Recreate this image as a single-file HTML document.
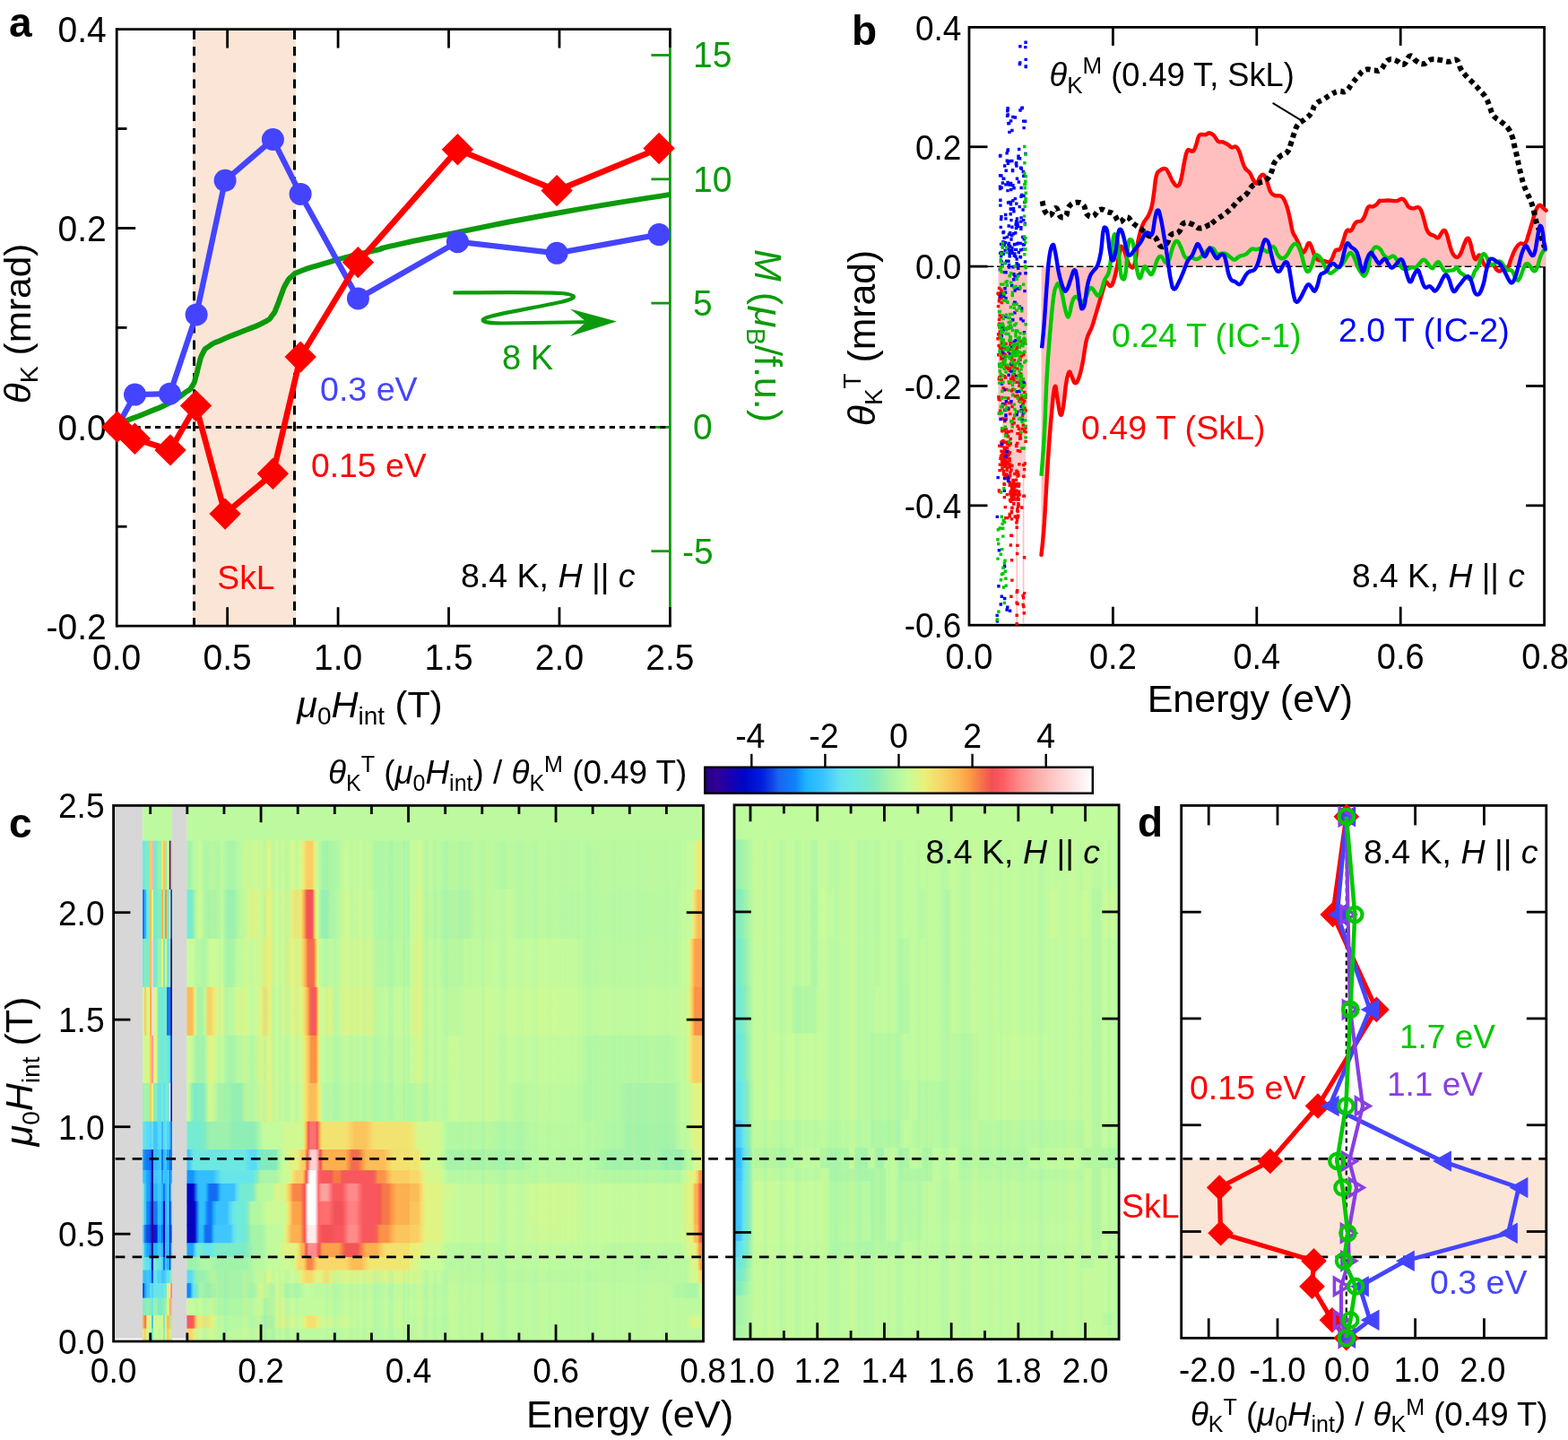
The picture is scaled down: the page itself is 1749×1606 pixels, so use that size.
<!DOCTYPE html>
<html lang="en"><head><meta charset="utf-8"><title>Figure</title>
<style>
html,body{margin:0;padding:0;background:#fff;}
body{width:1749px;height:1606px;overflow:hidden;}
svg{display:block;font-family:"Liberation Sans", sans-serif;}
svg text{white-space:pre;}
</style></head><body>
<svg width="1749" height="1606" viewBox="0 0 1749 1606">
<rect x="0" y="0" width="1749" height="1606" fill="#fff"/>
<g id="panel-a">
<rect x="215.0" y="32.6" width="115.0" height="665.6" fill="#fbe5d6"/>
<line x1="130.20" y1="31.20" x2="130.20" y2="699.60" stroke="#000" stroke-width="2.8" />
<line x1="130.20" y1="32.60" x2="748.80" y2="32.60" stroke="#000" stroke-width="2.8" />
<line x1="130.20" y1="698.20" x2="748.80" y2="698.20" stroke="#000" stroke-width="2.8" />
<line x1="747.40" y1="53.50" x2="747.40" y2="677.00" stroke="#0b9a0b" stroke-width="2.8" />
<line x1="747.40" y1="32.60" x2="747.40" y2="53.50" stroke="#000" stroke-width="2.8" />
<line x1="747.40" y1="677.00" x2="747.40" y2="698.20" stroke="#000" stroke-width="2.8" />
<line x1="253.64" y1="32.60" x2="253.64" y2="53.60" stroke="#000" stroke-width="2.8" />
<line x1="253.64" y1="698.20" x2="253.64" y2="677.20" stroke="#000" stroke-width="2.8" />
<line x1="377.08" y1="32.60" x2="377.08" y2="53.60" stroke="#000" stroke-width="2.8" />
<line x1="377.08" y1="698.20" x2="377.08" y2="677.20" stroke="#000" stroke-width="2.8" />
<line x1="500.52" y1="32.60" x2="500.52" y2="53.60" stroke="#000" stroke-width="2.8" />
<line x1="500.52" y1="698.20" x2="500.52" y2="677.20" stroke="#000" stroke-width="2.8" />
<line x1="623.96" y1="32.60" x2="623.96" y2="53.60" stroke="#000" stroke-width="2.8" />
<line x1="623.96" y1="698.20" x2="623.96" y2="677.20" stroke="#000" stroke-width="2.8" />
<line x1="130.20" y1="254.47" x2="151.20" y2="254.47" stroke="#000" stroke-width="2.8" />
<line x1="130.20" y1="476.33" x2="151.20" y2="476.33" stroke="#000" stroke-width="2.8" />
<line x1="130.20" y1="143.53" x2="141.50" y2="143.53" stroke="#000" stroke-width="2.8" />
<line x1="130.20" y1="365.40" x2="141.50" y2="365.40" stroke="#000" stroke-width="2.8" />
<line x1="130.20" y1="587.27" x2="141.50" y2="587.27" stroke="#000" stroke-width="2.8" />
<line x1="726.40" y1="61.50" x2="747.40" y2="61.50" stroke="#0b9a0b" stroke-width="2.8" />
<line x1="726.40" y1="199.80" x2="747.40" y2="199.80" stroke="#0b9a0b" stroke-width="2.8" />
<line x1="726.40" y1="338.10" x2="747.40" y2="338.10" stroke="#0b9a0b" stroke-width="2.8" />
<line x1="726.40" y1="476.40" x2="747.40" y2="476.40" stroke="#0b9a0b" stroke-width="2.8" />
<line x1="726.40" y1="614.70" x2="747.40" y2="614.70" stroke="#0b9a0b" stroke-width="2.8" />
<line x1="128.00" y1="476.40" x2="745.40" y2="476.40" stroke="#000" stroke-width="3.0" stroke-dasharray="6.2 5.06"/>
<line x1="216.50" y1="33.80" x2="216.50" y2="698.20" stroke="#000" stroke-width="3.0" stroke-dasharray="10.2 8"/>
<line x1="328.50" y1="33.80" x2="328.50" y2="698.20" stroke="#000" stroke-width="3.0" stroke-dasharray="10.2 8"/>
<text transform="translate(118.80,47.00) scale(1,1.05)" font-size="39" fill="#000" text-anchor="end" >0.4</text>
<text transform="translate(118.80,268.87) scale(1,1.05)" font-size="39" fill="#000" text-anchor="end" >0.2</text>
<text transform="translate(118.80,490.73) scale(1,1.05)" font-size="39" fill="#000" text-anchor="end" >0.0</text>
<text transform="translate(118.80,712.60) scale(1,1.05)" font-size="39" fill="#000" text-anchor="end" >-0.2</text>
<text transform="translate(130.20,746.60) scale(1,1.05)" font-size="39" fill="#000" text-anchor="middle" >0.0</text>
<text transform="translate(253.64,746.60) scale(1,1.05)" font-size="39" fill="#000" text-anchor="middle" >0.5</text>
<text transform="translate(377.08,746.60) scale(1,1.05)" font-size="39" fill="#000" text-anchor="middle" >1.0</text>
<text transform="translate(500.52,746.60) scale(1,1.05)" font-size="39" fill="#000" text-anchor="middle" >1.5</text>
<text transform="translate(623.96,746.60) scale(1,1.05)" font-size="39" fill="#000" text-anchor="middle" >2.0</text>
<text transform="translate(747.40,746.60) scale(1,1.05)" font-size="39" fill="#000" text-anchor="middle" >2.5</text>
<text transform="translate(773.00,75.30) scale(1,1.05)" font-size="39" fill="#0b9a0b" text-anchor="start" >15</text>
<text transform="translate(773.00,213.60) scale(1,1.05)" font-size="39" fill="#0b9a0b" text-anchor="start" >10</text>
<text transform="translate(773.00,351.90) scale(1,1.05)" font-size="39" fill="#0b9a0b" text-anchor="start" >5</text>
<text transform="translate(773.00,490.20) scale(1,1.05)" font-size="39" fill="#0b9a0b" text-anchor="start" >0</text>
<text transform="translate(761.00,628.50) scale(1,1.05)" font-size="39" fill="#0b9a0b" text-anchor="start" >-5</text>
<path d="M131.0,475.5 C133.1,474.0 126.6,475.9 137.2,471.0 C147.8,466.1 145.8,467.9 162.9,460.7 C180.0,453.5 174.3,456.9 188.6,449.5 C202.9,442.1 197.2,444.7 205.8,438.4 C214.4,432.1 210.0,437.0 214.3,430.7 C218.6,424.4 216.0,427.8 218.6,419.5 C221.2,411.2 219.5,414.4 222.1,405.8 C224.7,397.2 222.6,400.4 226.3,393.8 C230.0,387.2 225.8,391.2 233.2,386.1 C240.6,381.0 234.9,384.4 248.6,378.4 C262.3,372.4 258.9,374.5 274.4,368.1 C289.9,361.7 285.3,364.5 295.0,359.1 C304.7,353.7 298.9,357.4 303.5,351.8 C308.1,346.2 305.3,350.0 308.7,342.3 C312.1,334.6 310.4,337.2 313.8,328.6 C317.2,320.0 315.0,323.5 319.0,316.6 C323.0,309.7 320.1,312.9 325.8,308.0 C331.5,303.1 324.7,306.6 336.1,302.0 C347.5,297.4 342.9,299.4 360.1,294.3 C377.3,289.2 367.6,291.7 387.6,286.6 C407.6,281.5 402.5,283.2 420.0,278.9 C437.5,274.6 409.9,280.2 440.0,273.6 C470.1,267.0 450.0,271.1 510.4,259.1 C570.8,247.1 542.1,251.8 621.1,237.7 C700.1,223.6 705.3,223.8 747.4,216.9" fill="none" stroke="#0b9a0b" stroke-width="6" stroke-linejoin="round" />
<polyline points="130.8,476.0 150.5,440.1 189.5,439.2 219.1,350.9 251.1,201.3 304.4,155.5 335.1,216.4 399.4,332.9 510.4,269.7 621.1,282.3 735.1,261.6" fill="none" stroke="#4444ff" stroke-width="6.3" stroke-linejoin="round" />
<circle cx="130.8" cy="476.0" r="12.5" fill="#4444ff"/>
<circle cx="150.5" cy="440.1" r="12.5" fill="#4444ff"/>
<circle cx="189.5" cy="439.2" r="12.5" fill="#4444ff"/>
<circle cx="219.1" cy="350.9" r="12.5" fill="#4444ff"/>
<circle cx="251.1" cy="201.3" r="12.5" fill="#4444ff"/>
<circle cx="304.4" cy="155.5" r="12.5" fill="#4444ff"/>
<circle cx="335.1" cy="216.4" r="12.5" fill="#4444ff"/>
<circle cx="399.4" cy="332.9" r="12.5" fill="#4444ff"/>
<circle cx="510.4" cy="269.7" r="12.5" fill="#4444ff"/>
<circle cx="621.1" cy="282.3" r="12.5" fill="#4444ff"/>
<circle cx="735.1" cy="261.6" r="12.5" fill="#4444ff"/>
<polyline points="130.8,476.0 150.4,489.3 190.0,501.9 218.5,452.6 251.1,573.1 304.4,528.3 335.2,398.1 399.4,292.6 510.4,166.8 621.1,212.6 735.1,165.5" fill="none" stroke="#ff0000" stroke-width="6.6" stroke-linejoin="round" />
<path d="M130.8,458.3 L148.5,476.0 L130.8,493.7 L113.1,476.0 Z" fill="#ff0000" />
<path d="M150.4,471.6 L168.1,489.3 L150.4,507.0 L132.7,489.3 Z" fill="#ff0000" />
<path d="M190.0,484.2 L207.7,501.9 L190.0,519.6 L172.3,501.9 Z" fill="#ff0000" />
<path d="M218.5,434.9 L236.2,452.6 L218.5,470.3 L200.8,452.6 Z" fill="#ff0000" />
<path d="M251.1,555.4 L268.8,573.1 L251.1,590.8 L233.4,573.1 Z" fill="#ff0000" />
<path d="M304.4,510.6 L322.1,528.3 L304.4,546.0 L286.7,528.3 Z" fill="#ff0000" />
<path d="M335.2,380.4 L352.9,398.1 L335.2,415.8 L317.5,398.1 Z" fill="#ff0000" />
<path d="M399.4,274.9 L417.1,292.6 L399.4,310.3 L381.7,292.6 Z" fill="#ff0000" />
<path d="M510.4,149.1 L528.1,166.8 L510.4,184.5 L492.7,166.8 Z" fill="#ff0000" />
<path d="M621.1,194.9 L638.8,212.6 L621.1,230.3 L603.4,212.6 Z" fill="#ff0000" />
<path d="M735.1,147.8 L752.8,165.5 L735.1,183.2 L717.4,165.5 Z" fill="#ff0000" />
<text x="10.00" y="41.00" font-size="46" fill="#000" text-anchor="start" font-weight="bold" >a</text>
<text x="357.00" y="447.00" font-size="37.6" fill="#4444ff" text-anchor="start" >0.3 eV</text>
<text x="347.00" y="532.00" font-size="37.3" fill="#ff0000" text-anchor="start" >0.15 eV</text>
<text x="242.30" y="657.00" font-size="37.3" fill="#ff0000" text-anchor="start" >SkL</text>
<text x="514.00" y="655.00" font-size="37.5" fill="#000" text-anchor="start" >8.4 K, <tspan font-style="italic">H</tspan> || <tspan font-style="italic">c</tspan></text>
<text x="560.00" y="411.80" font-size="38" fill="#0b9a0b" text-anchor="start" >8 K</text>
<text x="412.40" y="799.80" font-size="41.5" fill="#000" text-anchor="middle" ><tspan font-style="italic">μ</tspan><tspan font-size="28" dy="8">0</tspan><tspan dy="-8" font-style="italic">H</tspan><tspan font-size="28" dy="8">int</tspan><tspan dy="-8"> (T)</tspan></text>
<text transform="translate(34.4,361) rotate(-90) scale(1.06,1)" font-size="40" text-anchor="middle"><tspan font-style="italic">θ</tspan><tspan font-size="27" dy="8">K</tspan><tspan dy="-8"> (mrad)</tspan></text>
<text transform="translate(841.6,374.5) rotate(90)" font-size="43" fill="#0b9a0b" text-anchor="middle"><tspan font-style="italic">M</tspan> (<tspan font-style="italic" dx="2">μ</tspan><tspan font-size="29" dy="9">B</tspan><tspan dy="-9">/f.u.)</tspan></text>
<path d="M505.5,326.5 C560,326 600,325.5 625,327 C645,328.5 645,332.5 625,337 C600,342.5 560,349 545,353.5 C532,357.5 540,360.5 560,360.5 L665,359" fill="none" stroke="#0b9a0b" stroke-width="4.2"/>
<path d="M688,358.5 L636,344.5 L654,359 L636,375 Z" fill="#0b9a0b"/>
</g>
<g id="panel-b">
<rect x="1081.0" y="30.4" width="641.6" height="666.8" fill="none" stroke="#000" stroke-width="2.8"/>
<line x1="1241.40" y1="30.40" x2="1241.40" y2="50.90" stroke="#000" stroke-width="2.8" />
<line x1="1241.40" y1="697.20" x2="1241.40" y2="676.70" stroke="#000" stroke-width="2.8" />
<line x1="1401.80" y1="30.40" x2="1401.80" y2="50.90" stroke="#000" stroke-width="2.8" />
<line x1="1401.80" y1="697.20" x2="1401.80" y2="676.70" stroke="#000" stroke-width="2.8" />
<line x1="1562.20" y1="30.40" x2="1562.20" y2="50.90" stroke="#000" stroke-width="2.8" />
<line x1="1562.20" y1="697.20" x2="1562.20" y2="676.70" stroke="#000" stroke-width="2.8" />
<line x1="1081.00" y1="163.76" x2="1101.50" y2="163.76" stroke="#000" stroke-width="2.8" />
<line x1="1722.60" y1="163.76" x2="1702.10" y2="163.76" stroke="#000" stroke-width="2.8" />
<line x1="1081.00" y1="297.12" x2="1101.50" y2="297.12" stroke="#000" stroke-width="2.8" />
<line x1="1722.60" y1="297.12" x2="1702.10" y2="297.12" stroke="#000" stroke-width="2.8" />
<line x1="1081.00" y1="430.48" x2="1101.50" y2="430.48" stroke="#000" stroke-width="2.8" />
<line x1="1722.60" y1="430.48" x2="1702.10" y2="430.48" stroke="#000" stroke-width="2.8" />
<line x1="1081.00" y1="563.84" x2="1101.50" y2="563.84" stroke="#000" stroke-width="2.8" />
<line x1="1722.60" y1="563.84" x2="1702.10" y2="563.84" stroke="#000" stroke-width="2.8" />
<rect x="1113.5" y="297.2" width="32.3" height="170" fill="#ffbfbf"/>
<rect x="1118" y="467.2" width="26" height="65" fill="#ffbfbf" opacity="0.8"/>
<rect x="1133.5" y="527.2" width="1.6" height="168" fill="#ffbfbf"/>
<rect x="1140.8" y="527.2" width="1.6" height="168" fill="#ffbfbf"/>
<path d="M1161.5,618.9 C1162.0,614.5 1162.6,610.0 1163.5,600.0 C1164.4,590.0 1164.0,596.3 1165.3,576.0 C1166.6,555.7 1167.2,539.4 1169.0,513.0 C1170.8,486.6 1171.0,482.0 1172.8,463.0 C1174.6,444.0 1174.9,435.5 1176.5,431.6 C1178.1,427.6 1178.2,438.8 1179.7,446.0 C1181.2,453.2 1181.4,460.6 1182.8,462.4 C1184.3,464.2 1184.5,461.5 1186.0,453.6 C1187.4,445.7 1187.7,437.4 1189.1,428.4 C1190.6,419.5 1190.8,417.3 1192.3,415.2 C1193.7,413.2 1193.8,416.8 1195.4,419.6 C1197.0,422.4 1197.3,426.9 1199.2,427.2 C1201.1,427.5 1201.7,425.9 1203.6,420.9 C1205.5,415.9 1205.7,413.7 1207.4,405.8 C1209.0,397.9 1209.2,394.0 1210.5,386.9 C1211.8,379.9 1211.3,380.9 1213.0,375.6 C1214.8,370.3 1215.7,370.7 1218.1,364.3 C1220.4,357.8 1220.4,356.7 1223.1,347.9 C1225.7,339.1 1227.0,334.2 1229.4,326.5 C1231.7,318.9 1231.7,317.6 1233.1,315.2 C1234.6,312.9 1234.3,315.6 1235.7,316.5 C1237.0,317.4 1237.3,319.6 1238.8,319.0 C1240.3,318.4 1240.3,318.7 1241.9,314.0 C1243.6,309.3 1244.0,307.2 1245.7,298.9 C1247.5,290.6 1247.9,283.8 1249.4,278.4 C1250.8,273.1 1250.6,275.0 1251.9,275.9 C1253.2,276.8 1253.6,278.4 1255.0,282.2 C1256.5,286.0 1256.7,288.7 1258.2,292.3 C1259.6,295.8 1259.9,296.1 1261.3,297.3 C1262.8,298.5 1263.1,299.6 1264.5,297.3 C1265.8,294.9 1265.8,294.0 1267.0,287.2 C1268.2,280.5 1267.7,276.9 1269.5,268.4 C1271.3,259.9 1271.9,257.2 1274.5,250.8 C1277.2,244.3 1278.5,245.4 1280.8,240.7 C1283.2,236.0 1283.1,236.5 1284.6,230.6 C1286.1,224.8 1285.9,223.5 1287.1,215.5 C1288.3,207.6 1288.2,202.5 1289.6,196.7 C1291.1,190.8 1291.0,192.4 1293.4,190.4 C1295.7,188.4 1297.3,187.5 1299.7,188.1 C1302.0,188.7 1301.4,189.4 1303.5,192.9 C1305.5,196.4 1306.1,199.6 1308.5,203.0 C1310.8,206.3 1311.5,207.9 1313.5,207.4 C1315.6,206.8 1315.5,206.8 1317.3,200.4 C1319.1,194.1 1319.5,187.8 1321.1,180.3 C1322.7,172.8 1322.7,171.3 1324.2,168.4 C1325.7,165.4 1325.7,167.7 1327.4,167.7 C1329.0,167.7 1329.5,169.8 1331.1,168.4 C1332.7,166.9 1332.8,165.4 1334.3,161.4 C1335.7,157.5 1335.8,154.0 1337.4,151.4 C1339.0,148.7 1339.4,150.4 1341.2,150.1 C1343.0,149.8 1343.2,150.6 1345.0,150.1 C1346.7,149.7 1346.7,148.1 1348.7,148.2 C1350.8,148.4 1351.4,148.6 1353.8,150.8 C1356.1,153.0 1356.5,155.9 1358.8,157.7 C1361.2,159.4 1361.2,157.4 1363.8,158.3 C1366.4,159.2 1367.7,160.0 1370.0,161.4 C1372.3,162.9 1371.8,163.9 1373.9,164.4 C1376.0,164.9 1376.9,162.5 1378.9,163.8 C1381.0,165.1 1381.1,166.2 1382.7,170.1 C1384.3,173.9 1384.4,176.0 1385.8,180.1 C1387.3,184.2 1387.1,184.7 1389.0,187.7 C1390.9,190.6 1392.0,189.8 1394.0,192.7 C1396.1,195.6 1396.0,197.5 1397.8,200.3 C1399.6,203.0 1399.8,205.2 1401.6,204.7 C1403.3,204.1 1403.7,200.1 1405.3,197.7 C1407.0,195.4 1407.0,194.6 1408.5,194.6 C1410.0,194.6 1410.3,195.2 1411.6,197.7 C1413.0,200.2 1412.8,201.5 1414.2,205.3 C1415.5,209.1 1415.5,211.2 1417.3,214.1 C1419.1,217.0 1419.2,216.8 1421.7,217.9 C1424.2,218.9 1425.6,217.6 1428.0,218.5 C1430.3,219.4 1430.0,218.8 1431.8,221.6 C1433.5,224.4 1433.9,225.5 1435.5,230.4 C1437.1,235.4 1437.2,236.6 1438.7,243.0 C1440.1,249.5 1440.4,253.1 1441.8,258.1 C1443.3,263.1 1443.5,261.5 1445.0,264.4 C1446.4,267.3 1446.8,267.8 1448.1,270.7 C1449.4,273.6 1449.5,274.3 1450.6,277.0 C1451.8,279.6 1451.8,281.7 1453.1,282.0 C1454.5,282.3 1454.8,280.7 1456.3,278.2 C1457.8,275.7 1458.0,272.2 1459.4,271.3 C1460.9,270.4 1461.1,271.7 1462.6,274.5 C1464.0,277.3 1464.1,279.7 1465.7,283.3 C1467.3,286.8 1467.1,287.8 1469.5,289.6 C1471.8,291.3 1472.9,290.2 1475.8,290.8 C1478.7,291.4 1479.7,292.7 1482.1,292.1 C1484.4,291.5 1484.1,291.2 1485.8,288.3 C1487.6,285.4 1487.6,282.0 1489.6,279.5 C1491.7,277.0 1492.6,280.3 1494.7,277.6 C1496.7,275.0 1496.7,272.9 1498.4,268.2 C1500.2,263.5 1500.1,260.1 1502.2,257.5 C1504.3,254.8 1504.9,259.1 1507.2,256.9 C1509.6,254.7 1509.6,250.5 1512.3,248.1 C1514.9,245.6 1516.2,247.9 1518.6,246.2 C1520.9,244.4 1520.6,244.0 1522.3,240.5 C1524.1,237.0 1524.0,233.4 1526.1,231.1 C1528.2,228.7 1529.1,231.0 1531.1,230.4 C1533.2,229.9 1533.1,230.0 1534.9,228.6 C1536.7,227.1 1537.5,225.2 1538.7,224.2 C1539.9,223.1 1537.7,224.2 1540.0,224.1 C1542.3,223.9 1544.2,223.5 1548.4,223.5 C1552.5,223.5 1554.3,224.5 1557.9,224.1 C1561.5,223.6 1561.7,221.5 1563.9,221.7 C1566.1,221.8 1565.8,222.6 1567.5,224.7 C1569.2,226.7 1569.1,228.8 1571.1,230.6 C1573.0,232.4 1573.3,232.3 1575.8,232.4 C1578.4,232.6 1579.6,230.5 1581.8,231.2 C1584.1,231.9 1583.9,232.2 1585.4,235.4 C1586.9,238.6 1587.0,240.2 1588.4,245.0 C1589.8,249.7 1590.0,252.1 1591.4,255.7 C1592.8,259.3 1592.4,258.8 1594.4,260.5 C1596.3,262.2 1597.5,261.8 1599.7,262.9 C1602.0,264.0 1602.1,265.8 1603.9,265.3 C1605.7,264.7 1606.0,262.5 1607.5,260.5 C1609.0,258.6 1609.1,256.9 1610.5,256.9 C1611.9,256.9 1612.1,257.2 1613.5,260.5 C1614.9,263.8 1615.1,266.5 1616.5,271.3 C1617.9,276.0 1618.1,277.5 1619.5,280.8 C1620.9,284.2 1620.9,284.2 1622.5,285.6 C1624.0,287.0 1624.4,287.6 1626.0,286.8 C1627.7,286.0 1627.9,285.4 1629.6,282.0 C1631.3,278.7 1631.5,276.2 1633.2,272.5 C1634.9,268.7 1635.3,266.4 1636.8,265.9 C1638.3,265.3 1638.4,266.3 1639.8,270.1 C1641.2,273.8 1641.4,277.6 1642.8,282.0 C1644.2,286.5 1644.1,288.6 1645.8,289.2 C1647.4,289.7 1648.3,284.4 1649.9,284.4 C1651.6,284.4 1651.4,286.4 1652.9,289.2 C1654.5,292.0 1654.7,294.7 1656.5,296.4 C1658.3,298.0 1658.6,296.6 1660.7,296.4 C1662.8,296.1 1663.4,294.0 1665.5,295.2 C1667.6,296.3 1667.8,299.5 1669.7,301.1 C1671.5,302.8 1671.4,302.9 1673.2,302.3 C1675.1,301.8 1675.3,299.9 1677.4,298.7 C1679.5,297.6 1680.2,300.1 1682.2,297.5 C1684.2,295.0 1683.8,292.7 1685.8,288.0 C1687.7,283.2 1688.3,281.0 1690.6,277.2 C1692.8,273.5 1692.8,273.2 1695.3,271.9 C1697.9,270.5 1699.1,273.6 1701.3,271.3 C1703.6,268.9 1703.2,266.7 1704.9,261.7 C1706.6,256.7 1706.8,255.3 1708.5,249.7 C1710.2,244.2 1710.5,242.3 1712.1,237.8 C1713.6,233.3 1713.7,232.7 1715.1,230.6 C1716.5,228.5 1716.5,228.4 1718.1,228.8 C1719.6,229.3 1720.1,231.0 1721.6,232.4 C1723.2,233.8 1723.9,234.3 1724.6,234.8 L1724.6,297.2 L1161.5,297.2 Z" fill="#ffbfbf" stroke="none"/>
<line x1="1101.00" y1="297.20" x2="1722.60" y2="297.20" stroke="#000" stroke-width="1.6" stroke-dasharray="7.5 3.6"/>
<path d="M1126.4,555.7h3.4v3.4h-3.4zM1112.8,319.7h3.4v3.4h-3.4zM1113.5,350.2h3.4v3.4h-3.4zM1126.0,381.0h3.4v3.4h-3.4zM1126.4,399.0h3.4v3.4h-3.4zM1133.4,549.2h3.4v3.4h-3.4zM1124.5,536.1h3.4v3.4h-3.4zM1117.7,501.9h3.4v3.4h-3.4zM1116.4,493.2h3.4v3.4h-3.4zM1124.8,516.7h3.4v3.4h-3.4zM1126.2,663.6h3.4v3.4h-3.4zM1113.3,331.2h3.4v3.4h-3.4zM1114.5,386.7h3.4v3.4h-3.4zM1125.9,447.9h3.4v3.4h-3.4zM1136.5,378.8h3.4v3.4h-3.4zM1117.6,513.6h3.4v3.4h-3.4zM1135.3,445.7h3.4v3.4h-3.4zM1133.0,657.0h3.4v3.4h-3.4zM1122.7,501.8h3.4v3.4h-3.4zM1112.5,443.5h3.4v3.4h-3.4zM1136.5,483.2h3.4v3.4h-3.4zM1134.4,555.5h3.4v3.4h-3.4zM1113.6,444.0h3.4v3.4h-3.4zM1132.3,523.6h3.4v3.4h-3.4zM1125.5,487.8h3.4v3.4h-3.4zM1127.8,405.5h3.4v3.4h-3.4zM1134.7,476.5h3.4v3.4h-3.4zM1130.3,540.6h3.4v3.4h-3.4zM1112.4,383.8h3.4v3.4h-3.4zM1127.6,546.6h3.4v3.4h-3.4zM1131.7,549.8h3.4v3.4h-3.4zM1132.5,424.6h3.4v3.4h-3.4zM1119.4,393.8h3.4v3.4h-3.4zM1136.5,456.7h3.4v3.4h-3.4zM1120.2,513.2h3.4v3.4h-3.4zM1126.7,406.3h3.4v3.4h-3.4zM1133.3,481.9h3.4v3.4h-3.4zM1129.5,549.3h3.4v3.4h-3.4zM1132.5,586.5h3.4v3.4h-3.4zM1129.2,542.4h3.4v3.4h-3.4zM1115.3,495.9h3.4v3.4h-3.4zM1118.8,509.8h3.4v3.4h-3.4zM1134.9,546.5h3.4v3.4h-3.4zM1140.9,620.1h3.4v3.4h-3.4zM1118.2,477.4h3.4v3.4h-3.4zM1136.1,445.0h3.4v3.4h-3.4zM1127.5,471.0h3.4v3.4h-3.4zM1123.7,529.5h3.4v3.4h-3.4zM1140.2,529.6h3.4v3.4h-3.4zM1142.3,475.7h3.4v3.4h-3.4zM1113.9,456.4h3.4v3.4h-3.4zM1127.8,417.4h3.4v3.4h-3.4zM1115.0,369.1h3.4v3.4h-3.4zM1126.9,623.0h3.4v3.4h-3.4zM1125.7,550.0h3.4v3.4h-3.4zM1124.0,447.6h3.4v3.4h-3.4zM1141.1,453.6h3.4v3.4h-3.4zM1132.9,540.1h3.4v3.4h-3.4zM1118.7,404.8h3.4v3.4h-3.4zM1122.0,575.9h3.4v3.4h-3.4zM1111.5,325.5h3.4v3.4h-3.4zM1124.9,529.0h3.4v3.4h-3.4zM1122.4,503.5h3.4v3.4h-3.4zM1131.5,555.1h3.4v3.4h-3.4zM1131.8,533.4h3.4v3.4h-3.4zM1124.4,512.2h3.4v3.4h-3.4zM1132.8,578.2h3.4v3.4h-3.4zM1117.6,523.7h3.4v3.4h-3.4zM1119.2,506.6h3.4v3.4h-3.4zM1123.9,531.9h3.4v3.4h-3.4zM1126.4,540.0h3.4v3.4h-3.4zM1127.4,546.6h3.4v3.4h-3.4zM1116.7,477.8h3.4v3.4h-3.4zM1140.0,665.1h3.4v3.4h-3.4zM1126.8,569.0h3.4v3.4h-3.4zM1122.6,491.5h3.4v3.4h-3.4zM1121.4,522.6h3.4v3.4h-3.4zM1111.8,339.9h3.4v3.4h-3.4zM1114.8,388.6h3.4v3.4h-3.4zM1138.9,441.3h3.4v3.4h-3.4zM1126.9,577.2h3.4v3.4h-3.4zM1132.6,658.6h3.4v3.4h-3.4zM1140.1,551.7h3.4v3.4h-3.4zM1133.2,439.8h3.4v3.4h-3.4zM1117.8,527.1h3.4v3.4h-3.4zM1133.7,500.9h3.4v3.4h-3.4zM1112.5,326.7h3.4v3.4h-3.4zM1132.4,670.5h3.4v3.4h-3.4zM1132.2,581.2h3.4v3.4h-3.4zM1120.6,508.8h3.4v3.4h-3.4zM1118.6,417.9h3.4v3.4h-3.4zM1124.9,556.0h3.4v3.4h-3.4zM1138.1,564.3h3.4v3.4h-3.4zM1119.0,468.2h3.4v3.4h-3.4zM1129.9,407.2h3.4v3.4h-3.4zM1113.7,516.4h3.4v3.4h-3.4zM1134.3,528.2h3.4v3.4h-3.4zM1131.9,494.8h3.4v3.4h-3.4zM1125.8,557.7h3.4v3.4h-3.4zM1132.4,383.0h3.4v3.4h-3.4zM1142.6,480.2h3.4v3.4h-3.4zM1123.3,505.6h3.4v3.4h-3.4zM1125.6,493.1h3.4v3.4h-3.4zM1128.7,535.7h3.4v3.4h-3.4zM1126.6,545.9h3.4v3.4h-3.4zM1119.8,449.0h3.4v3.4h-3.4zM1116.1,517.3h3.4v3.4h-3.4zM1140.6,682.0h3.4v3.4h-3.4zM1133.6,575.1h3.4v3.4h-3.4zM1126.9,543.4h3.4v3.4h-3.4zM1124.1,425.4h3.4v3.4h-3.4zM1129.1,560.3h3.4v3.4h-3.4zM1126.7,434.2h3.4v3.4h-3.4zM1120.4,480.8h3.4v3.4h-3.4zM1130.5,574.3h3.4v3.4h-3.4zM1127.4,385.3h3.4v3.4h-3.4zM1121.3,509.1h3.4v3.4h-3.4zM1136.2,399.7h3.4v3.4h-3.4zM1115.3,501.5h3.4v3.4h-3.4zM1124.4,503.1h3.4v3.4h-3.4zM1120.2,508.5h3.4v3.4h-3.4zM1135.9,442.2h3.4v3.4h-3.4zM1130.4,545.9h3.4v3.4h-3.4zM1121.7,497.5h3.4v3.4h-3.4zM1126.9,396.5h3.4v3.4h-3.4zM1129.1,559.7h3.4v3.4h-3.4zM1126.5,547.6h3.4v3.4h-3.4zM1117.5,507.1h3.4v3.4h-3.4zM1124.6,571.7h3.4v3.4h-3.4zM1120.2,508.9h3.4v3.4h-3.4zM1117.0,465.3h3.4v3.4h-3.4zM1129.9,416.0h3.4v3.4h-3.4zM1130.9,440.2h3.4v3.4h-3.4zM1120.6,465.8h3.4v3.4h-3.4zM1125.4,392.9h3.4v3.4h-3.4zM1113.3,459.4h3.4v3.4h-3.4zM1116.4,417.2h3.4v3.4h-3.4zM1112.8,354.6h3.4v3.4h-3.4zM1122.3,514.2h3.4v3.4h-3.4zM1133.7,552.4h3.4v3.4h-3.4zM1129.8,541.8h3.4v3.4h-3.4zM1130.2,526.8h3.4v3.4h-3.4zM1133.2,409.4h3.4v3.4h-3.4zM1117.3,507.0h3.4v3.4h-3.4zM1125.2,525.3h3.4v3.4h-3.4zM1122.0,493.3h3.4v3.4h-3.4zM1115.1,397.5h3.4v3.4h-3.4zM1119.1,500.2h3.4v3.4h-3.4zM1135.7,398.3h3.4v3.4h-3.4zM1134.6,562.1h3.4v3.4h-3.4zM1139.6,472.4h3.4v3.4h-3.4zM1142.4,490.7h3.4v3.4h-3.4zM1118.9,399.4h3.4v3.4h-3.4zM1126.2,663.7h3.4v3.4h-3.4zM1117.4,431.1h3.4v3.4h-3.4zM1120.0,491.5h3.4v3.4h-3.4zM1118.3,538.0h3.4v3.4h-3.4zM1130.0,540.3h3.4v3.4h-3.4zM1119.0,518.5h3.4v3.4h-3.4zM1118.8,538.7h3.4v3.4h-3.4zM1115.4,506.3h3.4v3.4h-3.4zM1140.9,435.7h3.4v3.4h-3.4zM1125.7,606.3h3.4v3.4h-3.4zM1126.7,570.0h3.4v3.4h-3.4zM1115.8,512.7h3.4v3.4h-3.4zM1141.0,445.4h3.4v3.4h-3.4zM1118.1,504.2h3.4v3.4h-3.4zM1126.6,479.2h3.4v3.4h-3.4zM1118.1,517.3h3.4v3.4h-3.4zM1132.9,567.7h3.4v3.4h-3.4zM1132.3,435.2h3.4v3.4h-3.4zM1113.0,546.4h3.4v3.4h-3.4zM1115.8,381.4h3.4v3.4h-3.4zM1120.8,408.5h3.4v3.4h-3.4zM1114.3,509.7h3.4v3.4h-3.4zM1116.5,513.6h3.4v3.4h-3.4zM1111.3,376.1h3.4v3.4h-3.4zM1119.9,419.4h3.4v3.4h-3.4zM1132.1,545.6h3.4v3.4h-3.4zM1126.9,595.7h3.4v3.4h-3.4zM1114.8,507.3h3.4v3.4h-3.4zM1129.8,400.0h3.4v3.4h-3.4zM1139.4,662.5h3.4v3.4h-3.4zM1127.4,537.8h3.4v3.4h-3.4zM1120.3,531.9h3.4v3.4h-3.4zM1113.8,385.8h3.4v3.4h-3.4zM1127.2,645.4h3.4v3.4h-3.4zM1116.4,393.5h3.4v3.4h-3.4zM1127.2,517.8h3.4v3.4h-3.4zM1125.3,548.3h3.4v3.4h-3.4zM1129.1,391.0h3.4v3.4h-3.4zM1138.9,381.4h3.4v3.4h-3.4zM1122.0,491.4h3.4v3.4h-3.4zM1138.8,430.4h3.4v3.4h-3.4zM1136.6,418.2h3.4v3.4h-3.4zM1115.7,388.9h3.4v3.4h-3.4zM1141.1,426.5h3.4v3.4h-3.4zM1140.1,674.8h3.4v3.4h-3.4zM1137.4,395.8h3.4v3.4h-3.4zM1120.4,505.5h3.4v3.4h-3.4zM1123.1,409.6h3.4v3.4h-3.4zM1125.9,420.8h3.4v3.4h-3.4zM1129.8,546.3h3.4v3.4h-3.4zM1116.4,378.3h3.4v3.4h-3.4zM1134.9,538.0h3.4v3.4h-3.4zM1127.4,451.8h3.4v3.4h-3.4zM1123.0,390.5h3.4v3.4h-3.4zM1142.1,441.7h3.4v3.4h-3.4zM1126.4,522.4h3.4v3.4h-3.4zM1118.1,385.5h3.4v3.4h-3.4zM1121.5,505.5h3.4v3.4h-3.4zM1140.0,394.0h3.4v3.4h-3.4zM1115.2,325.0h3.4v3.4h-3.4zM1115.9,479.1h3.4v3.4h-3.4zM1120.5,484.1h3.4v3.4h-3.4zM1115.8,495.6h3.4v3.4h-3.4zM1128.2,438.5h3.4v3.4h-3.4zM1118.2,509.2h3.4v3.4h-3.4zM1121.5,528.4h3.4v3.4h-3.4zM1114.5,363.9h3.4v3.4h-3.4zM1127.1,565.1h3.4v3.4h-3.4zM1118.6,393.2h3.4v3.4h-3.4zM1128.6,545.1h3.4v3.4h-3.4zM1124.5,574.2h3.4v3.4h-3.4zM1112.7,545.3h3.4v3.4h-3.4zM1115.3,323.6h3.4v3.4h-3.4zM1115.8,323.4h3.4v3.4h-3.4zM1139.1,444.2h3.4v3.4h-3.4zM1123.1,479.7h3.4v3.4h-3.4zM1125.6,388.0h3.4v3.4h-3.4zM1121.4,513.5h3.4v3.4h-3.4zM1133.1,492.7h3.4v3.4h-3.4zM1121.0,432.7h3.4v3.4h-3.4zM1122.1,491.7h3.4v3.4h-3.4zM1140.9,521.9h3.4v3.4h-3.4zM1113.3,419.1h3.4v3.4h-3.4zM1133.2,554.8h3.4v3.4h-3.4zM1141.0,479.1h3.4v3.4h-3.4zM1113.2,373.4h3.4v3.4h-3.4zM1127.4,564.6h3.4v3.4h-3.4zM1117.3,511.3h3.4v3.4h-3.4zM1129.1,534.9h3.4v3.4h-3.4zM1116.2,441.7h3.4v3.4h-3.4zM1129.5,470.0h3.4v3.4h-3.4zM1121.8,519.9h3.4v3.4h-3.4zM1119.2,387.0h3.4v3.4h-3.4zM1116.9,516.2h3.4v3.4h-3.4zM1121.4,483.4h3.4v3.4h-3.4zM1123.2,455.0h3.4v3.4h-3.4zM1132.2,388.5h3.4v3.4h-3.4zM1133.5,529.4h3.4v3.4h-3.4zM1123.0,442.6h3.4v3.4h-3.4zM1138.8,425.2h3.4v3.4h-3.4zM1136.7,486.9h3.4v3.4h-3.4zM1118.6,497.5h3.4v3.4h-3.4zM1117.2,490.0h3.4v3.4h-3.4zM1134.7,540.5h3.4v3.4h-3.4zM1113.3,362.6h3.4v3.4h-3.4zM1133.9,552.5h3.4v3.4h-3.4zM1115.6,362.5h3.4v3.4h-3.4zM1133.6,568.7h3.4v3.4h-3.4zM1141.2,381.1h3.4v3.4h-3.4zM1120.1,576.1h3.4v3.4h-3.4zM1115.6,324.1h3.4v3.4h-3.4zM1123.0,492.9h3.4v3.4h-3.4zM1118.6,552.9h3.4v3.4h-3.4zM1120.1,512.6h3.4v3.4h-3.4zM1112.8,359.5h3.4v3.4h-3.4zM1133.2,606.7h3.4v3.4h-3.4zM1136.0,487.5h3.4v3.4h-3.4zM1120.7,527.3h3.4v3.4h-3.4zM1122.5,408.6h3.4v3.4h-3.4zM1132.5,694.0h3.4v3.4h-3.4zM1124.6,539.6h3.4v3.4h-3.4zM1126.6,553.5h3.4v3.4h-3.4zM1139.2,421.4h3.4v3.4h-3.4zM1135.2,428.5h3.4v3.4h-3.4zM1113.1,495.5h3.4v3.4h-3.4zM1124.7,503.3h3.4v3.4h-3.4zM1119.3,529.3h3.4v3.4h-3.4zM1120.4,381.7h3.4v3.4h-3.4zM1115.3,491.2h3.4v3.4h-3.4zM1141.0,659.9h3.4v3.4h-3.4zM1132.5,387.1h3.4v3.4h-3.4zM1127.9,553.8h3.4v3.4h-3.4zM1122.4,506.3h3.4v3.4h-3.4zM1127.1,550.7h3.4v3.4h-3.4zM1126.1,595.4h3.4v3.4h-3.4zM1137.4,429.2h3.4v3.4h-3.4zM1135.4,550.1h3.4v3.4h-3.4zM1128.5,537.9h3.4v3.4h-3.4zM1133.5,671.9h3.4v3.4h-3.4zM1112.1,394.0h3.4v3.4h-3.4zM1115.7,335.9h3.4v3.4h-3.4zM1124.7,409.4h3.4v3.4h-3.4zM1125.2,382.8h3.4v3.4h-3.4zM1129.0,465.3h3.4v3.4h-3.4zM1125.6,546.5h3.4v3.4h-3.4zM1139.7,453.2h3.4v3.4h-3.4zM1134.3,559.9h3.4v3.4h-3.4zM1124.6,519.0h3.4v3.4h-3.4zM1119.7,491.4h3.4v3.4h-3.4zM1140.8,551.5h3.4v3.4h-3.4zM1113.4,522.9h3.4v3.4h-3.4zM1112.7,334.0h3.4v3.4h-3.4zM1141.6,515.3h3.4v3.4h-3.4zM1116.7,403.4h3.4v3.4h-3.4zM1135.2,516.0h3.4v3.4h-3.4zM1116.3,452.0h3.4v3.4h-3.4zM1113.6,368.2h3.4v3.4h-3.4zM1129.5,407.6h3.4v3.4h-3.4zM1135.9,486.2h3.4v3.4h-3.4zM1133.9,537.8h3.4v3.4h-3.4zM1118.4,478.2h3.4v3.4h-3.4zM1129.1,542.5h3.4v3.4h-3.4zM1133.9,563.3h3.4v3.4h-3.4zM1121.7,549.9h3.4v3.4h-3.4zM1135.9,501.5h3.4v3.4h-3.4zM1114.9,321.5h3.4v3.4h-3.4zM1115.3,395.6h3.4v3.4h-3.4zM1123.4,492.8h3.4v3.4h-3.4zM1131.8,575.0h3.4v3.4h-3.4zM1116.7,502.8h3.4v3.4h-3.4zM1130.2,461.7h3.4v3.4h-3.4zM1129.1,555.3h3.4v3.4h-3.4zM1128.3,533.8h3.4v3.4h-3.4zM1132.5,684.6h3.4v3.4h-3.4zM1117.8,514.6h3.4v3.4h-3.4zM1116.6,503.7h3.4v3.4h-3.4zM1112.6,421.0h3.4v3.4h-3.4zM1117.7,501.9h3.4v3.4h-3.4zM1127.3,538.2h3.4v3.4h-3.4zM1128.0,543.5h3.4v3.4h-3.4zM1126.6,549.8h3.4v3.4h-3.4zM1120.3,408.1h3.4v3.4h-3.4zM1111.9,371.1h3.4v3.4h-3.4zM1136.7,480.6h3.4v3.4h-3.4zM1133.2,566.3h3.4v3.4h-3.4zM1131.4,390.7h3.4v3.4h-3.4zM1139.8,448.3h3.4v3.4h-3.4zM1115.5,330.2h3.4v3.4h-3.4zM1119.6,563.9h3.4v3.4h-3.4zM1134.6,555.2h3.4v3.4h-3.4zM1140.7,441.5h3.4v3.4h-3.4zM1129.4,551.9h3.4v3.4h-3.4zM1115.3,398.5h3.4v3.4h-3.4zM1122.4,516.1h3.4v3.4h-3.4zM1137.0,415.3h3.4v3.4h-3.4zM1133.8,540.4h3.4v3.4h-3.4zM1126.5,468.3h3.4v3.4h-3.4zM1142.6,456.0h3.4v3.4h-3.4zM1127.7,553.3h3.4v3.4h-3.4zM1133.5,385.6h3.4v3.4h-3.4zM1135.6,385.4h3.4v3.4h-3.4zM1124.6,411.7h3.4v3.4h-3.4zM1138.9,462.2h3.4v3.4h-3.4zM1121.9,480.7h3.4v3.4h-3.4zM1133.4,473.6h3.4v3.4h-3.4zM1119.7,516.5h3.4v3.4h-3.4zM1115.5,422.0h3.4v3.4h-3.4zM1116.3,521.1h3.4v3.4h-3.4zM1132.1,495.9h3.4v3.4h-3.4zM1139.5,672.7h3.4v3.4h-3.4zM1120.7,481.3h3.4v3.4h-3.4zM1129.3,537.4h3.4v3.4h-3.4zM1124.4,510.0h3.4v3.4h-3.4zM1140.0,516.9h3.4v3.4h-3.4zM1129.3,422.6h3.4v3.4h-3.4zM1134.1,573.6h3.4v3.4h-3.4zM1120.0,517.1h3.4v3.4h-3.4zM1122.7,485.2h3.4v3.4h-3.4zM1132.7,538.2h3.4v3.4h-3.4zM1132.9,615.8h3.4v3.4h-3.4zM1124.7,378.8h3.4v3.4h-3.4zM1120.5,476.9h3.4v3.4h-3.4zM1125.0,459.9h3.4v3.4h-3.4zM1115.5,352.1h3.4v3.4h-3.4zM1114.6,330.7h3.4v3.4h-3.4zM1116.6,506.7h3.4v3.4h-3.4zM1128.3,432.6h3.4v3.4h-3.4zM1140.2,428.8h3.4v3.4h-3.4zM1128.7,420.3h3.4v3.4h-3.4zM1133.7,525.3h3.4v3.4h-3.4zM1112.2,441.1h3.4v3.4h-3.4zM1130.6,554.9h3.4v3.4h-3.4zM1138.5,476.6h3.4v3.4h-3.4zM1117.2,511.6h3.4v3.4h-3.4zM1118.0,401.9h3.4v3.4h-3.4zM1125.1,516.2h3.4v3.4h-3.4zM1124.0,494.9h3.4v3.4h-3.4zM1120.1,503.9h3.4v3.4h-3.4z" fill="#ff0000"/>
<path d="M1126.5,412.5h3.4v3.4h-3.4zM1120.5,204.2h3.4v3.4h-3.4zM1141.7,247.8h3.4v3.4h-3.4zM1134.3,174.6h3.4v3.4h-3.4zM1135.9,175.0h3.4v3.4h-3.4zM1133.0,434.9h3.4v3.4h-3.4zM1137.6,186.3h3.4v3.4h-3.4zM1115.4,279.7h3.4v3.4h-3.4zM1137.0,428.0h3.4v3.4h-3.4zM1135.1,320.3h3.4v3.4h-3.4zM1117.9,256.9h3.4v3.4h-3.4zM1130.7,219.9h3.4v3.4h-3.4zM1127.9,188.1h3.4v3.4h-3.4zM1121.0,289.6h3.4v3.4h-3.4zM1132.6,248.2h3.4v3.4h-3.4zM1139.4,232.3h3.4v3.4h-3.4zM1133.7,250.5h3.4v3.4h-3.4zM1114.9,270.7h3.4v3.4h-3.4zM1142.1,50.9h3.4v3.4h-3.4zM1116.3,364.0h3.4v3.4h-3.4zM1131.3,377.9h3.4v3.4h-3.4zM1110.7,691.2h3.4v3.4h-3.4zM1137.7,456.0h3.4v3.4h-3.4zM1131.4,248.6h3.4v3.4h-3.4zM1124.8,223.8h3.4v3.4h-3.4zM1122.5,120.6h3.4v3.4h-3.4zM1127.1,277.9h3.4v3.4h-3.4zM1120.3,351.3h3.4v3.4h-3.4zM1124.5,284.0h3.4v3.4h-3.4zM1119.3,466.9h3.4v3.4h-3.4zM1136.8,285.0h3.4v3.4h-3.4zM1123.2,271.7h3.4v3.4h-3.4zM1134.3,172.6h3.4v3.4h-3.4zM1142.5,64.7h3.4v3.4h-3.4zM1134.6,279.8h3.4v3.4h-3.4zM1139.1,262.8h3.4v3.4h-3.4zM1117.3,366.5h3.4v3.4h-3.4zM1120.0,237.8h3.4v3.4h-3.4zM1132.8,457.8h3.4v3.4h-3.4zM1137.5,451.8h3.4v3.4h-3.4zM1133.3,248.3h3.4v3.4h-3.4zM1122.9,534.8h3.4v3.4h-3.4zM1137.2,252.1h3.4v3.4h-3.4zM1138.1,119.1h3.4v3.4h-3.4zM1136.3,121.3h3.4v3.4h-3.4zM1138.9,450.5h3.4v3.4h-3.4zM1114.9,242.9h3.4v3.4h-3.4zM1118.7,433.2h3.4v3.4h-3.4zM1136.0,303.4h3.4v3.4h-3.4zM1120.2,242.2h3.4v3.4h-3.4zM1117.3,257.8h3.4v3.4h-3.4zM1135.7,69.9h3.4v3.4h-3.4zM1121.4,169.2h3.4v3.4h-3.4zM1123.5,250.3h3.4v3.4h-3.4zM1126.1,404.0h3.4v3.4h-3.4zM1137.1,354.1h3.4v3.4h-3.4zM1130.0,270.7h3.4v3.4h-3.4zM1141.8,290.3h3.4v3.4h-3.4zM1132.8,242.3h3.4v3.4h-3.4zM1123.9,135.7h3.4v3.4h-3.4zM1130.4,322.3h3.4v3.4h-3.4zM1114.2,171.8h3.4v3.4h-3.4zM1118.1,197.5h3.4v3.4h-3.4zM1118.5,263.7h3.4v3.4h-3.4zM1128.8,231.0h3.4v3.4h-3.4zM1126.0,363.3h3.4v3.4h-3.4zM1140.3,425.1h3.4v3.4h-3.4zM1122.3,166.4h3.4v3.4h-3.4zM1138.6,118.4h3.4v3.4h-3.4zM1123.9,293.7h3.4v3.4h-3.4zM1120.3,302.0h3.4v3.4h-3.4zM1124.2,272.4h3.4v3.4h-3.4zM1142.4,45.6h3.4v3.4h-3.4zM1140.0,243.9h3.4v3.4h-3.4zM1137.0,277.0h3.4v3.4h-3.4zM1120.3,461.3h3.4v3.4h-3.4zM1131.9,276.7h3.4v3.4h-3.4zM1117.1,384.8h3.4v3.4h-3.4zM1131.9,245.4h3.4v3.4h-3.4zM1138.4,456.9h3.4v3.4h-3.4zM1131.7,393.0h3.4v3.4h-3.4zM1118.9,630.0h3.4v3.4h-3.4zM1122.8,531.2h3.4v3.4h-3.4zM1119.3,455.8h3.4v3.4h-3.4zM1123.2,136.0h3.4v3.4h-3.4zM1111.5,530.9h3.4v3.4h-3.4zM1123.5,416.6h3.4v3.4h-3.4zM1139.7,276.3h3.4v3.4h-3.4zM1132.9,270.3h3.4v3.4h-3.4zM1121.8,262.7h3.4v3.4h-3.4zM1113.8,329.1h3.4v3.4h-3.4zM1128.4,296.0h3.4v3.4h-3.4zM1132.0,180.0h3.4v3.4h-3.4zM1131.8,252.8h3.4v3.4h-3.4zM1118.1,328.6h3.4v3.4h-3.4zM1132.2,183.4h3.4v3.4h-3.4zM1124.5,204.5h3.4v3.4h-3.4zM1129.2,304.1h3.4v3.4h-3.4zM1113.9,194.1h3.4v3.4h-3.4zM1119.4,277.7h3.4v3.4h-3.4zM1139.8,271.3h3.4v3.4h-3.4zM1122.9,224.3h3.4v3.4h-3.4zM1125.6,231.2h3.4v3.4h-3.4zM1133.9,305.1h3.4v3.4h-3.4zM1122.4,119.0h3.4v3.4h-3.4zM1130.4,306.4h3.4v3.4h-3.4zM1114.6,251.7h3.4v3.4h-3.4zM1116.3,294.0h3.4v3.4h-3.4zM1132.8,197.5h3.4v3.4h-3.4zM1134.3,293.7h3.4v3.4h-3.4zM1130.7,335.8h3.4v3.4h-3.4zM1119.8,291.6h3.4v3.4h-3.4zM1124.6,392.9h3.4v3.4h-3.4zM1139.6,189.8h3.4v3.4h-3.4zM1123.0,453.4h3.4v3.4h-3.4zM1119.8,324.5h3.4v3.4h-3.4zM1115.3,374.8h3.4v3.4h-3.4zM1114.1,172.2h3.4v3.4h-3.4zM1119.0,665.8h3.4v3.4h-3.4zM1137.4,241.2h3.4v3.4h-3.4zM1125.5,237.1h3.4v3.4h-3.4zM1137.9,342.7h3.4v3.4h-3.4zM1131.0,276.7h3.4v3.4h-3.4zM1134.2,269.4h3.4v3.4h-3.4zM1115.6,493.7h3.4v3.4h-3.4zM1118.3,397.3h3.4v3.4h-3.4zM1133.9,295.0h3.4v3.4h-3.4zM1140.8,270.9h3.4v3.4h-3.4zM1127.2,274.8h3.4v3.4h-3.4zM1123.2,289.5h3.4v3.4h-3.4zM1120.3,331.0h3.4v3.4h-3.4zM1135.0,164.8h3.4v3.4h-3.4zM1124.5,277.9h3.4v3.4h-3.4zM1120.2,204.2h3.4v3.4h-3.4zM1125.0,257.9h3.4v3.4h-3.4zM1124.2,280.6h3.4v3.4h-3.4zM1117.8,270.7h3.4v3.4h-3.4zM1138.4,466.6h3.4v3.4h-3.4zM1113.7,298.9h3.4v3.4h-3.4zM1116.9,449.0h3.4v3.4h-3.4zM1127.8,188.8h3.4v3.4h-3.4zM1114.0,280.7h3.4v3.4h-3.4zM1121.4,678.4h3.4v3.4h-3.4zM1115.2,194.3h3.4v3.4h-3.4zM1126.3,445.9h3.4v3.4h-3.4zM1121.6,177.5h3.4v3.4h-3.4zM1114.0,208.8h3.4v3.4h-3.4zM1132.6,460.8h3.4v3.4h-3.4zM1126.0,231.7h3.4v3.4h-3.4zM1136.0,404.8h3.4v3.4h-3.4zM1129.4,208.0h3.4v3.4h-3.4zM1127.7,280.5h3.4v3.4h-3.4zM1126.3,243.9h3.4v3.4h-3.4zM1115.2,240.1h3.4v3.4h-3.4zM1136.9,185.5h3.4v3.4h-3.4zM1142.3,169.8h3.4v3.4h-3.4zM1113.9,172.3h3.4v3.4h-3.4zM1136.9,269.7h3.4v3.4h-3.4zM1131.9,418.1h3.4v3.4h-3.4zM1119.0,183.3h3.4v3.4h-3.4zM1115.9,360.0h3.4v3.4h-3.4zM1129.8,271.0h3.4v3.4h-3.4zM1126.3,265.3h3.4v3.4h-3.4zM1119.8,268.9h3.4v3.4h-3.4zM1126.0,209.8h3.4v3.4h-3.4zM1137.3,217.5h3.4v3.4h-3.4zM1128.2,222.0h3.4v3.4h-3.4zM1118.6,545.7h3.4v3.4h-3.4zM1135.6,434.8h3.4v3.4h-3.4zM1142.5,72.3h3.4v3.4h-3.4zM1122.1,675.4h3.4v3.4h-3.4zM1122.7,165.3h3.4v3.4h-3.4zM1114.2,221.5h3.4v3.4h-3.4zM1136.2,425.2h3.4v3.4h-3.4zM1118.6,271.6h3.4v3.4h-3.4zM1140.0,133.4h3.4v3.4h-3.4zM1142.3,303.0h3.4v3.4h-3.4zM1132.5,292.1h3.4v3.4h-3.4zM1125.8,223.9h3.4v3.4h-3.4zM1131.2,284.4h3.4v3.4h-3.4zM1126.9,261.1h3.4v3.4h-3.4zM1138.1,215.7h3.4v3.4h-3.4zM1137.1,245.4h3.4v3.4h-3.4zM1129.6,283.3h3.4v3.4h-3.4zM1115.5,207.7h3.4v3.4h-3.4zM1120.2,462.0h3.4v3.4h-3.4zM1125.9,133.2h3.4v3.4h-3.4zM1115.3,289.8h3.4v3.4h-3.4zM1117.5,281.6h3.4v3.4h-3.4zM1117.0,391.0h3.4v3.4h-3.4zM1125.8,226.0h3.4v3.4h-3.4zM1127.0,316.8h3.4v3.4h-3.4zM1132.8,320.1h3.4v3.4h-3.4zM1120.3,507.1h3.4v3.4h-3.4zM1128.2,205.1h3.4v3.4h-3.4zM1122.4,201.7h3.4v3.4h-3.4zM1121.3,501.6h3.4v3.4h-3.4zM1125.8,204.0h3.4v3.4h-3.4zM1128.1,355.0h3.4v3.4h-3.4zM1110.5,684.7h3.4v3.4h-3.4zM1128.2,128.8h3.4v3.4h-3.4zM1124.3,178.0h3.4v3.4h-3.4zM1123.8,259.7h3.4v3.4h-3.4zM1141.2,223.9h3.4v3.4h-3.4zM1116.7,202.3h3.4v3.4h-3.4zM1133.2,246.6h3.4v3.4h-3.4zM1114.2,227.4h3.4v3.4h-3.4zM1135.6,228.9h3.4v3.4h-3.4zM1115.6,372.7h3.4v3.4h-3.4zM1112.2,652.1h3.4v3.4h-3.4zM1130.1,281.3h3.4v3.4h-3.4zM1127.2,143.8h3.4v3.4h-3.4zM1126.0,202.8h3.4v3.4h-3.4zM1132.5,287.3h3.4v3.4h-3.4zM1137.1,253.6h3.4v3.4h-3.4zM1129.9,335.6h3.4v3.4h-3.4zM1121.9,127.6h3.4v3.4h-3.4zM1122.4,203.3h3.4v3.4h-3.4zM1110.6,574.7h3.4v3.4h-3.4zM1123.7,269.7h3.4v3.4h-3.4zM1139.5,356.2h3.4v3.4h-3.4zM1136.3,284.7h3.4v3.4h-3.4zM1140.6,265.2h3.4v3.4h-3.4zM1124.3,145.7h3.4v3.4h-3.4zM1125.0,272.9h3.4v3.4h-3.4zM1115.2,326.6h3.4v3.4h-3.4zM1141.3,322.9h3.4v3.4h-3.4zM1132.5,295.1h3.4v3.4h-3.4zM1130.2,347.0h3.4v3.4h-3.4zM1123.3,276.2h3.4v3.4h-3.4zM1112.7,612.0h3.4v3.4h-3.4zM1142.6,72.8h3.4v3.4h-3.4zM1136.2,50.0h3.4v3.4h-3.4zM1118.8,531.9h3.4v3.4h-3.4zM1122.7,180.5h3.4v3.4h-3.4zM1131.7,181.1h3.4v3.4h-3.4zM1140.8,369.0h3.4v3.4h-3.4zM1128.9,259.0h3.4v3.4h-3.4zM1140.3,216.7h3.4v3.4h-3.4zM1114.6,672.3h3.4v3.4h-3.4zM1122.3,210.9h3.4v3.4h-3.4zM1137.4,207.8h3.4v3.4h-3.4zM1115.6,663.6h3.4v3.4h-3.4zM1122.6,126.2h3.4v3.4h-3.4zM1113.8,206.6h3.4v3.4h-3.4zM1124.9,679.6h3.4v3.4h-3.4zM1117.5,197.4h3.4v3.4h-3.4zM1115.0,283.9h3.4v3.4h-3.4zM1120.6,445.9h3.4v3.4h-3.4zM1141.9,133.6h3.4v3.4h-3.4zM1130.7,129.3h3.4v3.4h-3.4zM1123.9,296.3h3.4v3.4h-3.4zM1115.8,426.4h3.4v3.4h-3.4zM1127.2,251.5h3.4v3.4h-3.4zM1140.4,140.9h3.4v3.4h-3.4zM1139.7,459.2h3.4v3.4h-3.4zM1119.3,320.0h3.4v3.4h-3.4zM1129.1,310.0h3.4v3.4h-3.4zM1131.0,258.0h3.4v3.4h-3.4zM1118.7,301.9h3.4v3.4h-3.4zM1127.1,177.8h3.4v3.4h-3.4zM1129.5,379.4h3.4v3.4h-3.4zM1134.7,201.3h3.4v3.4h-3.4zM1135.8,340.6h3.4v3.4h-3.4zM1132.6,251.9h3.4v3.4h-3.4zM1126.8,385.6h3.4v3.4h-3.4zM1140.1,194.6h3.4v3.4h-3.4zM1117.3,267.9h3.4v3.4h-3.4zM1136.1,68.2h3.4v3.4h-3.4zM1114.4,465.8h3.4v3.4h-3.4zM1137.6,342.2h3.4v3.4h-3.4zM1122.1,122.0h3.4v3.4h-3.4zM1132.1,225.4h3.4v3.4h-3.4zM1129.2,234.1h3.4v3.4h-3.4zM1134.0,297.5h3.4v3.4h-3.4zM1120.5,188.6h3.4v3.4h-3.4z" fill="#0000ff"/>
<path d="M1134.4,416.8h3.4v3.4h-3.4zM1141.4,441.1h3.4v3.4h-3.4zM1142.5,223.0h3.4v3.4h-3.4zM1117.8,653.3h3.4v3.4h-3.4zM1113.2,363.4h3.4v3.4h-3.4zM1115.4,366.0h3.4v3.4h-3.4zM1124.1,491.1h3.4v3.4h-3.4zM1113.1,407.0h3.4v3.4h-3.4zM1121.7,334.9h3.4v3.4h-3.4zM1141.1,282.1h3.4v3.4h-3.4zM1138.2,498.3h3.4v3.4h-3.4zM1117.1,333.5h3.4v3.4h-3.4zM1125.2,395.5h3.4v3.4h-3.4zM1118.1,543.1h3.4v3.4h-3.4zM1117.1,638.1h3.4v3.4h-3.4zM1120.9,366.0h3.4v3.4h-3.4zM1127.7,348.7h3.4v3.4h-3.4zM1113.6,587.3h3.4v3.4h-3.4zM1120.2,643.5h3.4v3.4h-3.4zM1141.1,390.5h3.4v3.4h-3.4zM1114.0,393.6h3.4v3.4h-3.4zM1127.6,474.1h3.4v3.4h-3.4zM1140.0,315.5h3.4v3.4h-3.4zM1119.2,404.4h3.4v3.4h-3.4zM1140.7,428.1h3.4v3.4h-3.4zM1119.3,623.6h3.4v3.4h-3.4zM1115.9,375.9h3.4v3.4h-3.4zM1140.5,370.7h3.4v3.4h-3.4zM1129.1,384.7h3.4v3.4h-3.4zM1115.7,458.9h3.4v3.4h-3.4zM1116.7,368.9h3.4v3.4h-3.4zM1142.7,296.8h3.4v3.4h-3.4zM1141.1,402.4h3.4v3.4h-3.4zM1115.5,383.8h3.4v3.4h-3.4zM1137.3,426.1h3.4v3.4h-3.4zM1122.2,388.5h3.4v3.4h-3.4zM1137.9,439.1h3.4v3.4h-3.4zM1142.6,195.1h3.4v3.4h-3.4zM1129.4,394.9h3.4v3.4h-3.4zM1110.6,689.3h3.4v3.4h-3.4zM1131.2,395.2h3.4v3.4h-3.4zM1127.0,468.8h3.4v3.4h-3.4zM1112.0,604.8h3.4v3.4h-3.4zM1114.5,297.2h3.4v3.4h-3.4zM1117.1,596.4h3.4v3.4h-3.4zM1116.6,424.8h3.4v3.4h-3.4zM1125.0,348.8h3.4v3.4h-3.4zM1136.2,319.3h3.4v3.4h-3.4zM1120.3,413.2h3.4v3.4h-3.4zM1118.7,626.6h3.4v3.4h-3.4zM1120.9,349.5h3.4v3.4h-3.4zM1132.2,393.9h3.4v3.4h-3.4zM1122.3,385.5h3.4v3.4h-3.4zM1141.0,276.4h3.4v3.4h-3.4zM1115.1,404.1h3.4v3.4h-3.4zM1121.0,274.0h3.4v3.4h-3.4zM1112.2,680.6h3.4v3.4h-3.4zM1119.6,635.5h3.4v3.4h-3.4zM1135.6,341.5h3.4v3.4h-3.4zM1118.3,388.7h3.4v3.4h-3.4zM1139.8,379.4h3.4v3.4h-3.4zM1123.5,424.0h3.4v3.4h-3.4zM1114.8,452.1h3.4v3.4h-3.4zM1124.9,374.1h3.4v3.4h-3.4zM1138.4,468.5h3.4v3.4h-3.4zM1111.7,589.1h3.4v3.4h-3.4zM1141.0,204.0h3.4v3.4h-3.4zM1116.5,582.6h3.4v3.4h-3.4zM1132.6,344.6h3.4v3.4h-3.4zM1133.5,403.2h3.4v3.4h-3.4zM1141.2,180.1h3.4v3.4h-3.4zM1141.8,204.0h3.4v3.4h-3.4zM1127.4,392.6h3.4v3.4h-3.4zM1123.5,357.8h3.4v3.4h-3.4zM1138.0,382.1h3.4v3.4h-3.4zM1136.1,391.2h3.4v3.4h-3.4zM1127.7,324.4h3.4v3.4h-3.4zM1129.7,341.5h3.4v3.4h-3.4zM1127.8,392.6h3.4v3.4h-3.4zM1142.3,381.7h3.4v3.4h-3.4zM1138.1,406.7h3.4v3.4h-3.4zM1130.2,454.7h3.4v3.4h-3.4zM1123.4,433.4h3.4v3.4h-3.4zM1113.3,346.2h3.4v3.4h-3.4zM1132.5,309.5h3.4v3.4h-3.4zM1135.4,374.6h3.4v3.4h-3.4zM1130.6,405.9h3.4v3.4h-3.4zM1126.8,403.2h3.4v3.4h-3.4zM1116.2,434.5h3.4v3.4h-3.4zM1116.1,610.9h3.4v3.4h-3.4zM1125.8,340.8h3.4v3.4h-3.4zM1140.2,376.6h3.4v3.4h-3.4zM1115.2,368.8h3.4v3.4h-3.4zM1112.8,346.0h3.4v3.4h-3.4zM1141.8,295.3h3.4v3.4h-3.4zM1134.0,306.2h3.4v3.4h-3.4zM1119.2,401.1h3.4v3.4h-3.4zM1139.2,384.1h3.4v3.4h-3.4zM1142.0,467.1h3.4v3.4h-3.4zM1121.7,312.1h3.4v3.4h-3.4zM1124.3,377.9h3.4v3.4h-3.4zM1130.5,295.3h3.4v3.4h-3.4zM1130.0,461.6h3.4v3.4h-3.4zM1136.2,398.3h3.4v3.4h-3.4zM1125.8,363.4h3.4v3.4h-3.4zM1122.9,352.7h3.4v3.4h-3.4zM1137.4,410.2h3.4v3.4h-3.4zM1115.1,315.4h3.4v3.4h-3.4zM1127.3,382.7h3.4v3.4h-3.4zM1140.9,441.5h3.4v3.4h-3.4zM1142.5,473.6h3.4v3.4h-3.4zM1121.2,395.6h3.4v3.4h-3.4zM1122.3,335.5h3.4v3.4h-3.4zM1116.7,349.9h3.4v3.4h-3.4zM1142.5,438.4h3.4v3.4h-3.4zM1117.4,353.9h3.4v3.4h-3.4zM1123.3,362.7h3.4v3.4h-3.4zM1125.1,361.6h3.4v3.4h-3.4zM1117.6,578.5h3.4v3.4h-3.4zM1135.4,405.6h3.4v3.4h-3.4zM1117.2,395.7h3.4v3.4h-3.4zM1131.7,359.2h3.4v3.4h-3.4zM1117.2,315.4h3.4v3.4h-3.4zM1127.7,409.3h3.4v3.4h-3.4zM1129.6,424.7h3.4v3.4h-3.4zM1136.3,446.5h3.4v3.4h-3.4zM1120.4,312.9h3.4v3.4h-3.4zM1115.2,281.3h3.4v3.4h-3.4zM1115.6,407.5h3.4v3.4h-3.4zM1137.1,464.4h3.4v3.4h-3.4zM1123.1,386.9h3.4v3.4h-3.4zM1138.1,345.2h3.4v3.4h-3.4zM1131.5,317.7h3.4v3.4h-3.4zM1133.8,390.0h3.4v3.4h-3.4zM1127.8,427.8h3.4v3.4h-3.4zM1137.3,457.2h3.4v3.4h-3.4zM1112.8,404.5h3.4v3.4h-3.4zM1119.8,364.2h3.4v3.4h-3.4zM1135.5,385.5h3.4v3.4h-3.4zM1114.3,299.0h3.4v3.4h-3.4zM1118.2,381.3h3.4v3.4h-3.4zM1122.5,405.6h3.4v3.4h-3.4zM1120.5,651.5h3.4v3.4h-3.4zM1113.5,412.0h3.4v3.4h-3.4zM1141.8,222.8h3.4v3.4h-3.4zM1130.8,404.2h3.4v3.4h-3.4zM1133.4,442.3h3.4v3.4h-3.4zM1114.3,459.2h3.4v3.4h-3.4zM1119.8,441.9h3.4v3.4h-3.4zM1115.5,404.3h3.4v3.4h-3.4zM1127.5,402.7h3.4v3.4h-3.4zM1111.3,600.1h3.4v3.4h-3.4zM1128.5,388.7h3.4v3.4h-3.4zM1132.2,420.1h3.4v3.4h-3.4zM1128.1,415.3h3.4v3.4h-3.4zM1118.8,580.5h3.4v3.4h-3.4zM1119.8,399.1h3.4v3.4h-3.4zM1139.8,420.9h3.4v3.4h-3.4zM1114.8,645.1h3.4v3.4h-3.4zM1127.2,387.4h3.4v3.4h-3.4zM1127.7,366.8h3.4v3.4h-3.4zM1142.2,263.9h3.4v3.4h-3.4zM1136.3,369.9h3.4v3.4h-3.4zM1114.1,373.3h3.4v3.4h-3.4zM1115.6,368.4h3.4v3.4h-3.4zM1112.9,425.4h3.4v3.4h-3.4zM1114.8,547.3h3.4v3.4h-3.4zM1142.5,213.5h3.4v3.4h-3.4zM1120.2,484.1h3.4v3.4h-3.4zM1116.7,274.5h3.4v3.4h-3.4zM1126.0,313.6h3.4v3.4h-3.4zM1117.0,587.5h3.4v3.4h-3.4zM1142.1,200.5h3.4v3.4h-3.4zM1113.8,419.9h3.4v3.4h-3.4zM1124.5,306.0h3.4v3.4h-3.4zM1112.4,361.0h3.4v3.4h-3.4zM1142.1,276.3h3.4v3.4h-3.4zM1113.6,345.7h3.4v3.4h-3.4zM1127.6,327.8h3.4v3.4h-3.4zM1142.5,360.1h3.4v3.4h-3.4zM1139.6,451.0h3.4v3.4h-3.4zM1118.5,400.4h3.4v3.4h-3.4zM1139.5,421.4h3.4v3.4h-3.4zM1130.1,433.1h3.4v3.4h-3.4zM1131.9,382.6h3.4v3.4h-3.4zM1123.2,370.8h3.4v3.4h-3.4zM1118.7,670.8h3.4v3.4h-3.4zM1117.3,424.5h3.4v3.4h-3.4zM1141.0,262.2h3.4v3.4h-3.4zM1139.4,378.4h3.4v3.4h-3.4zM1114.7,415.6h3.4v3.4h-3.4zM1117.3,361.2h3.4v3.4h-3.4zM1141.5,208.1h3.4v3.4h-3.4zM1115.3,378.0h3.4v3.4h-3.4zM1141.1,458.1h3.4v3.4h-3.4zM1117.6,325.6h3.4v3.4h-3.4zM1142.6,400.7h3.4v3.4h-3.4zM1135.2,412.4h3.4v3.4h-3.4zM1118.5,384.5h3.4v3.4h-3.4zM1135.0,465.5h3.4v3.4h-3.4zM1133.9,394.6h3.4v3.4h-3.4zM1134.4,400.4h3.4v3.4h-3.4zM1138.1,392.2h3.4v3.4h-3.4zM1142.0,268.5h3.4v3.4h-3.4zM1130.6,394.2h3.4v3.4h-3.4zM1130.3,381.8h3.4v3.4h-3.4zM1118.4,326.2h3.4v3.4h-3.4zM1129.2,318.7h3.4v3.4h-3.4zM1131.9,344.5h3.4v3.4h-3.4zM1140.6,498.3h3.4v3.4h-3.4zM1120.2,455.4h3.4v3.4h-3.4zM1114.5,290.2h3.4v3.4h-3.4zM1134.6,401.3h3.4v3.4h-3.4zM1130.2,411.2h3.4v3.4h-3.4zM1141.1,161.8h3.4v3.4h-3.4zM1141.4,248.8h3.4v3.4h-3.4zM1116.6,359.3h3.4v3.4h-3.4zM1116.9,417.7h3.4v3.4h-3.4zM1142.4,486.2h3.4v3.4h-3.4zM1115.6,574.5h3.4v3.4h-3.4zM1133.5,367.8h3.4v3.4h-3.4zM1141.7,377.6h3.4v3.4h-3.4zM1117.8,377.5h3.4v3.4h-3.4zM1119.6,474.5h3.4v3.4h-3.4zM1136.1,422.0h3.4v3.4h-3.4zM1127.9,439.1h3.4v3.4h-3.4zM1126.3,467.8h3.4v3.4h-3.4zM1116.5,295.3h3.4v3.4h-3.4zM1141.5,228.5h3.4v3.4h-3.4zM1115.9,476.0h3.4v3.4h-3.4zM1125.6,376.9h3.4v3.4h-3.4zM1129.1,395.4h3.4v3.4h-3.4zM1111.3,621.4h3.4v3.4h-3.4zM1131.6,457.5h3.4v3.4h-3.4zM1142.5,170.4h3.4v3.4h-3.4zM1124.5,397.6h3.4v3.4h-3.4zM1138.1,383.1h3.4v3.4h-3.4zM1113.4,390.0h3.4v3.4h-3.4zM1137.9,417.3h3.4v3.4h-3.4zM1125.5,424.2h3.4v3.4h-3.4zM1115.0,360.5h3.4v3.4h-3.4zM1141.0,375.5h3.4v3.4h-3.4zM1125.6,374.8h3.4v3.4h-3.4zM1131.2,373.2h3.4v3.4h-3.4zM1132.2,367.1h3.4v3.4h-3.4zM1137.3,480.7h3.4v3.4h-3.4zM1117.2,631.5h3.4v3.4h-3.4zM1112.5,459.6h3.4v3.4h-3.4zM1116.4,450.4h3.4v3.4h-3.4zM1140.9,239.4h3.4v3.4h-3.4zM1126.1,303.0h3.4v3.4h-3.4zM1116.2,273.1h3.4v3.4h-3.4zM1141.1,191.6h3.4v3.4h-3.4zM1142.3,219.7h3.4v3.4h-3.4zM1114.6,616.6h3.4v3.4h-3.4zM1119.2,292.1h3.4v3.4h-3.4zM1137.6,433.4h3.4v3.4h-3.4zM1125.8,361.2h3.4v3.4h-3.4zM1118.5,409.6h3.4v3.4h-3.4zM1119.5,333.3h3.4v3.4h-3.4zM1121.1,279.8h3.4v3.4h-3.4zM1115.8,638.9h3.4v3.4h-3.4zM1136.5,423.0h3.4v3.4h-3.4zM1130.1,361.1h3.4v3.4h-3.4zM1133.6,375.9h3.4v3.4h-3.4zM1131.3,371.1h3.4v3.4h-3.4zM1124.7,352.9h3.4v3.4h-3.4zM1129.9,412.1h3.4v3.4h-3.4zM1121.3,452.7h3.4v3.4h-3.4zM1129.4,390.9h3.4v3.4h-3.4zM1127.5,400.3h3.4v3.4h-3.4zM1127.3,387.9h3.4v3.4h-3.4zM1133.0,390.5h3.4v3.4h-3.4zM1120.4,370.5h3.4v3.4h-3.4zM1114.6,287.4h3.4v3.4h-3.4zM1129.6,449.4h3.4v3.4h-3.4zM1121.6,316.5h3.4v3.4h-3.4zM1123.4,364.9h3.4v3.4h-3.4zM1128.7,337.6h3.4v3.4h-3.4zM1135.0,377.8h3.4v3.4h-3.4zM1137.3,428.7h3.4v3.4h-3.4zM1131.5,367.5h3.4v3.4h-3.4zM1134.1,381.6h3.4v3.4h-3.4zM1139.6,452.8h3.4v3.4h-3.4zM1125.9,357.2h3.4v3.4h-3.4zM1115.6,442.7h3.4v3.4h-3.4zM1136.1,317.9h3.4v3.4h-3.4zM1132.4,337.6h3.4v3.4h-3.4zM1115.6,301.4h3.4v3.4h-3.4zM1116.7,269.3h3.4v3.4h-3.4z" fill="#00c800"/>
<path d="M1161.5,618.9 C1162.0,614.5 1162.6,610.0 1163.5,600.0 C1164.4,590.0 1164.0,596.3 1165.3,576.0 C1166.6,555.7 1167.2,539.4 1169.0,513.0 C1170.8,486.6 1171.0,482.0 1172.8,463.0 C1174.6,444.0 1174.9,435.5 1176.5,431.6 C1178.1,427.6 1178.2,438.8 1179.7,446.0 C1181.2,453.2 1181.4,460.6 1182.8,462.4 C1184.3,464.2 1184.5,461.5 1186.0,453.6 C1187.4,445.7 1187.7,437.4 1189.1,428.4 C1190.6,419.5 1190.8,417.3 1192.3,415.2 C1193.7,413.2 1193.8,416.8 1195.4,419.6 C1197.0,422.4 1197.3,426.9 1199.2,427.2 C1201.1,427.5 1201.7,425.9 1203.6,420.9 C1205.5,415.9 1205.7,413.7 1207.4,405.8 C1209.0,397.9 1209.2,394.0 1210.5,386.9 C1211.8,379.9 1211.3,380.9 1213.0,375.6 C1214.8,370.3 1215.7,370.7 1218.1,364.3 C1220.4,357.8 1220.4,356.7 1223.1,347.9 C1225.7,339.1 1227.0,334.2 1229.4,326.5 C1231.7,318.9 1231.7,317.6 1233.1,315.2 C1234.6,312.9 1234.3,315.6 1235.7,316.5 C1237.0,317.4 1237.3,319.6 1238.8,319.0 C1240.3,318.4 1240.3,318.7 1241.9,314.0 C1243.6,309.3 1244.0,307.2 1245.7,298.9 C1247.5,290.6 1247.9,283.8 1249.4,278.4 C1250.8,273.1 1250.6,275.0 1251.9,275.9 C1253.2,276.8 1253.6,278.4 1255.0,282.2 C1256.5,286.0 1256.7,288.7 1258.2,292.3 C1259.6,295.8 1259.9,296.1 1261.3,297.3 C1262.8,298.5 1263.1,299.6 1264.5,297.3 C1265.8,294.9 1265.8,294.0 1267.0,287.2 C1268.2,280.5 1267.7,276.9 1269.5,268.4 C1271.3,259.9 1271.9,257.2 1274.5,250.8 C1277.2,244.3 1278.5,245.4 1280.8,240.7 C1283.2,236.0 1283.1,236.5 1284.6,230.6 C1286.1,224.8 1285.9,223.5 1287.1,215.5 C1288.3,207.6 1288.2,202.5 1289.6,196.7 C1291.1,190.8 1291.0,192.4 1293.4,190.4 C1295.7,188.4 1297.3,187.5 1299.7,188.1 C1302.0,188.7 1301.4,189.4 1303.5,192.9 C1305.5,196.4 1306.1,199.6 1308.5,203.0 C1310.8,206.3 1311.5,207.9 1313.5,207.4 C1315.6,206.8 1315.5,206.8 1317.3,200.4 C1319.1,194.1 1319.5,187.8 1321.1,180.3 C1322.7,172.8 1322.7,171.3 1324.2,168.4 C1325.7,165.4 1325.7,167.7 1327.4,167.7 C1329.0,167.7 1329.5,169.8 1331.1,168.4 C1332.7,166.9 1332.8,165.4 1334.3,161.4 C1335.7,157.5 1335.8,154.0 1337.4,151.4 C1339.0,148.7 1339.4,150.4 1341.2,150.1 C1343.0,149.8 1343.2,150.6 1345.0,150.1 C1346.7,149.7 1346.7,148.1 1348.7,148.2 C1350.8,148.4 1351.4,148.6 1353.8,150.8 C1356.1,153.0 1356.5,155.9 1358.8,157.7 C1361.2,159.4 1361.2,157.4 1363.8,158.3 C1366.4,159.2 1367.7,160.0 1370.0,161.4 C1372.3,162.9 1371.8,163.9 1373.9,164.4 C1376.0,164.9 1376.9,162.5 1378.9,163.8 C1381.0,165.1 1381.1,166.2 1382.7,170.1 C1384.3,173.9 1384.4,176.0 1385.8,180.1 C1387.3,184.2 1387.1,184.7 1389.0,187.7 C1390.9,190.6 1392.0,189.8 1394.0,192.7 C1396.1,195.6 1396.0,197.5 1397.8,200.3 C1399.6,203.0 1399.8,205.2 1401.6,204.7 C1403.3,204.1 1403.7,200.1 1405.3,197.7 C1407.0,195.4 1407.0,194.6 1408.5,194.6 C1410.0,194.6 1410.3,195.2 1411.6,197.7 C1413.0,200.2 1412.8,201.5 1414.2,205.3 C1415.5,209.1 1415.5,211.2 1417.3,214.1 C1419.1,217.0 1419.2,216.8 1421.7,217.9 C1424.2,218.9 1425.6,217.6 1428.0,218.5 C1430.3,219.4 1430.0,218.8 1431.8,221.6 C1433.5,224.4 1433.9,225.5 1435.5,230.4 C1437.1,235.4 1437.2,236.6 1438.7,243.0 C1440.1,249.5 1440.4,253.1 1441.8,258.1 C1443.3,263.1 1443.5,261.5 1445.0,264.4 C1446.4,267.3 1446.8,267.8 1448.1,270.7 C1449.4,273.6 1449.5,274.3 1450.6,277.0 C1451.8,279.6 1451.8,281.7 1453.1,282.0 C1454.5,282.3 1454.8,280.7 1456.3,278.2 C1457.8,275.7 1458.0,272.2 1459.4,271.3 C1460.9,270.4 1461.1,271.7 1462.6,274.5 C1464.0,277.3 1464.1,279.7 1465.7,283.3 C1467.3,286.8 1467.1,287.8 1469.5,289.6 C1471.8,291.3 1472.9,290.2 1475.8,290.8 C1478.7,291.4 1479.7,292.7 1482.1,292.1 C1484.4,291.5 1484.1,291.2 1485.8,288.3 C1487.6,285.4 1487.6,282.0 1489.6,279.5 C1491.7,277.0 1492.6,280.3 1494.7,277.6 C1496.7,275.0 1496.7,272.9 1498.4,268.2 C1500.2,263.5 1500.1,260.1 1502.2,257.5 C1504.3,254.8 1504.9,259.1 1507.2,256.9 C1509.6,254.7 1509.6,250.5 1512.3,248.1 C1514.9,245.6 1516.2,247.9 1518.6,246.2 C1520.9,244.4 1520.6,244.0 1522.3,240.5 C1524.1,237.0 1524.0,233.4 1526.1,231.1 C1528.2,228.7 1529.1,231.0 1531.1,230.4 C1533.2,229.9 1533.1,230.0 1534.9,228.6 C1536.7,227.1 1537.5,225.2 1538.7,224.2 C1539.9,223.1 1537.7,224.2 1540.0,224.1 C1542.3,223.9 1544.2,223.5 1548.4,223.5 C1552.5,223.5 1554.3,224.5 1557.9,224.1 C1561.5,223.6 1561.7,221.5 1563.9,221.7 C1566.1,221.8 1565.8,222.6 1567.5,224.7 C1569.2,226.7 1569.1,228.8 1571.1,230.6 C1573.0,232.4 1573.3,232.3 1575.8,232.4 C1578.4,232.6 1579.6,230.5 1581.8,231.2 C1584.1,231.9 1583.9,232.2 1585.4,235.4 C1586.9,238.6 1587.0,240.2 1588.4,245.0 C1589.8,249.7 1590.0,252.1 1591.4,255.7 C1592.8,259.3 1592.4,258.8 1594.4,260.5 C1596.3,262.2 1597.5,261.8 1599.7,262.9 C1602.0,264.0 1602.1,265.8 1603.9,265.3 C1605.7,264.7 1606.0,262.5 1607.5,260.5 C1609.0,258.6 1609.1,256.9 1610.5,256.9 C1611.9,256.9 1612.1,257.2 1613.5,260.5 C1614.9,263.8 1615.1,266.5 1616.5,271.3 C1617.9,276.0 1618.1,277.5 1619.5,280.8 C1620.9,284.2 1620.9,284.2 1622.5,285.6 C1624.0,287.0 1624.4,287.6 1626.0,286.8 C1627.7,286.0 1627.9,285.4 1629.6,282.0 C1631.3,278.7 1631.5,276.2 1633.2,272.5 C1634.9,268.7 1635.3,266.4 1636.8,265.9 C1638.3,265.3 1638.4,266.3 1639.8,270.1 C1641.2,273.8 1641.4,277.6 1642.8,282.0 C1644.2,286.5 1644.1,288.6 1645.8,289.2 C1647.4,289.7 1648.3,284.4 1649.9,284.4 C1651.6,284.4 1651.4,286.4 1652.9,289.2 C1654.5,292.0 1654.7,294.7 1656.5,296.4 C1658.3,298.0 1658.6,296.6 1660.7,296.4 C1662.8,296.1 1663.4,294.0 1665.5,295.2 C1667.6,296.3 1667.8,299.5 1669.7,301.1 C1671.5,302.8 1671.4,302.9 1673.2,302.3 C1675.1,301.8 1675.3,299.9 1677.4,298.7 C1679.5,297.6 1680.2,300.1 1682.2,297.5 C1684.2,295.0 1683.8,292.7 1685.8,288.0 C1687.7,283.2 1688.3,281.0 1690.6,277.2 C1692.8,273.5 1692.8,273.2 1695.3,271.9 C1697.9,270.5 1699.1,273.6 1701.3,271.3 C1703.6,268.9 1703.2,266.7 1704.9,261.7 C1706.6,256.7 1706.8,255.3 1708.5,249.7 C1710.2,244.2 1710.5,242.3 1712.1,237.8 C1713.6,233.3 1713.7,232.7 1715.1,230.6 C1716.5,228.5 1716.5,228.4 1718.1,228.8 C1719.6,229.3 1720.1,231.0 1721.6,232.4 C1723.2,233.8 1723.9,234.3 1724.6,234.8" fill="none" stroke="#ff0000" stroke-width="4.4" stroke-linejoin="round" stroke-linecap="round"/>
<path d="M1161.5,530.8 C1162.0,524.8 1162.6,517.9 1163.5,505.0 C1164.4,492.1 1164.3,495.3 1165.3,475.5 C1166.3,455.7 1166.3,445.1 1167.7,420.0 C1169.1,394.9 1169.7,389.0 1171.5,368.1 C1173.3,347.1 1173.7,341.8 1175.3,330.3 C1176.9,318.9 1177.1,322.1 1178.4,319.0 C1179.7,315.9 1179.6,315.6 1180.9,317.1 C1182.3,318.6 1182.6,319.9 1184.1,325.3 C1185.6,330.7 1185.8,334.1 1187.2,340.4 C1188.7,346.7 1189.1,350.0 1190.4,352.3 C1191.7,354.7 1191.7,353.5 1192.9,350.4 C1194.1,347.4 1194.1,343.5 1195.4,339.1 C1196.7,334.7 1196.8,333.0 1198.6,331.6 C1200.3,330.1 1200.9,331.5 1203.0,332.8 C1205.0,334.2 1205.3,337.8 1207.4,337.2 C1209.4,336.6 1210.0,333.7 1211.8,330.3 C1213.5,326.9 1213.4,324.8 1214.9,322.8 C1216.4,320.7 1216.4,320.6 1218.1,321.5 C1219.7,322.4 1220.2,324.6 1221.8,326.5 C1223.4,328.4 1223.5,330.0 1225.0,329.7 C1226.4,329.4 1226.5,329.2 1228.1,325.3 C1229.7,321.3 1229.9,317.8 1231.9,312.7 C1233.9,307.6 1235.1,309.5 1236.8,303.6 C1238.5,297.6 1238.1,296.0 1239.3,287.2 C1240.5,278.4 1240.6,271.7 1241.8,265.8 C1243.0,260.0 1243.2,260.9 1244.3,262.1 C1245.5,263.2 1245.7,262.1 1246.9,270.9 C1248.0,279.7 1248.1,290.4 1249.4,299.8 C1250.7,309.2 1251.0,310.3 1252.5,311.1 C1254.0,312.0 1254.3,312.1 1255.7,303.6 C1257.0,295.1 1256.9,283.2 1258.2,274.7 C1259.5,266.1 1259.9,267.1 1261.3,267.1 C1262.8,267.1 1263.1,268.5 1264.5,274.7 C1265.8,280.8 1265.5,285.3 1267.0,293.5 C1268.4,301.7 1269.0,307.8 1270.8,309.9 C1272.5,311.9 1273.1,305.3 1274.5,302.3 C1276.0,299.4 1275.6,297.3 1277.0,297.3 C1278.5,297.3 1279.2,300.3 1280.8,302.3 C1282.4,304.4 1282.5,306.4 1284.0,306.1 C1285.4,305.8 1285.5,304.9 1287.1,301.1 C1288.7,297.3 1289.0,293.3 1290.9,289.7 C1292.8,286.2 1293.2,285.4 1295.3,286.0 C1297.3,286.6 1297.8,291.1 1299.7,292.3 C1301.6,293.4 1301.4,295.1 1303.5,291.0 C1305.5,286.9 1306.3,279.8 1308.5,274.7 C1310.7,269.5 1310.8,268.7 1312.9,269.0 C1314.9,269.3 1315.1,271.7 1317.3,275.9 C1319.5,280.2 1319.7,284.6 1322.3,287.2 C1325.0,289.9 1325.7,286.8 1328.6,287.2 C1331.6,287.7 1332.3,289.4 1334.9,289.1 C1337.5,288.8 1337.3,288.2 1339.9,286.0 C1342.6,283.8 1343.9,281.8 1346.2,279.7 C1348.6,277.6 1348.2,277.5 1350.0,277.0 C1351.8,276.5 1352.0,276.1 1353.8,277.6 C1355.5,279.1 1355.5,282.1 1357.5,283.3 C1359.6,284.4 1360.2,282.6 1362.6,282.6 C1364.9,282.6 1365.3,282.2 1367.6,283.3 C1370.0,284.3 1370.4,285.6 1372.6,287.0 C1374.8,288.5 1374.7,289.9 1377.0,289.6 C1379.4,289.3 1379.9,287.1 1382.7,285.8 C1385.5,284.5 1386.6,285.1 1389.0,283.9 C1391.3,282.7 1391.0,282.2 1392.8,280.8 C1394.5,279.3 1394.5,278.2 1396.5,277.6 C1398.6,277.0 1399.2,278.4 1401.6,278.2 C1403.9,278.1 1404.5,276.8 1406.6,277.0 C1408.7,277.1 1408.6,278.0 1410.4,278.9 C1412.1,279.7 1412.4,281.5 1414.2,280.8 C1415.9,280.0 1416.2,276.8 1417.9,275.7 C1419.7,274.7 1419.9,274.3 1421.7,276.4 C1423.5,278.4 1423.4,281.7 1425.5,284.5 C1427.5,287.3 1428.2,288.3 1430.5,288.3 C1432.9,288.3 1433.2,287.5 1435.5,284.5 C1437.9,281.6 1438.5,278.7 1440.6,275.7 C1442.6,272.8 1442.6,272.2 1444.3,271.9 C1446.1,271.7 1446.4,271.5 1448.1,274.5 C1449.9,277.4 1450.1,279.0 1451.9,284.5 C1453.6,290.1 1453.9,294.1 1455.7,298.4 C1457.4,302.6 1457.7,303.4 1459.4,302.8 C1461.2,302.2 1461.6,299.8 1463.2,295.8 C1464.8,291.9 1464.9,288.4 1466.4,285.8 C1467.8,283.1 1467.9,283.9 1469.5,284.5 C1471.1,285.1 1471.5,285.7 1473.3,288.3 C1475.0,290.9 1475.3,292.6 1477.0,295.8 C1478.8,299.1 1479.1,300.1 1480.8,302.1 C1482.6,304.2 1482.5,304.9 1484.6,304.7 C1486.6,304.4 1487.3,302.6 1489.6,300.9 C1492.0,299.1 1492.6,298.9 1494.7,297.1 C1496.7,295.3 1496.5,296.0 1498.4,293.3 C1500.3,290.7 1500.9,288.4 1502.8,285.8 C1504.7,283.1 1504.8,281.7 1506.6,282.0 C1508.4,282.3 1508.5,283.2 1510.4,287.0 C1512.3,290.9 1512.9,294.3 1514.8,298.4 C1516.7,302.5 1516.8,302.6 1518.6,304.7 C1520.3,306.7 1520.6,308.6 1522.3,307.2 C1524.1,305.7 1524.6,303.4 1526.1,298.4 C1527.6,293.4 1527.1,290.8 1528.6,285.8 C1530.1,280.8 1530.6,279.3 1532.4,277.0 C1534.2,274.6 1534.4,275.4 1536.2,275.7 C1537.9,276.1 1538.3,276.4 1540.0,278.4 C1541.7,280.5 1541.6,282.2 1543.6,284.4 C1545.5,286.6 1545.9,287.7 1548.4,288.0 C1550.9,288.3 1551.8,284.8 1554.3,285.6 C1556.8,286.4 1556.9,288.5 1559.1,291.6 C1561.4,294.6 1561.4,296.8 1563.9,298.7 C1566.4,300.7 1567.4,300.1 1569.9,299.9 C1572.4,299.8 1572.4,298.6 1574.7,298.1 C1576.9,297.7 1577.2,299.4 1579.4,298.1 C1581.7,296.9 1582.1,294.7 1584.2,292.8 C1586.3,290.8 1586.4,289.5 1588.4,289.8 C1590.3,290.1 1590.5,291.7 1592.6,294.0 C1594.7,296.2 1595.4,299.1 1597.4,299.3 C1599.3,299.6 1599.3,296.8 1600.9,295.2 C1602.6,293.5 1602.9,291.6 1604.5,292.2 C1606.2,292.7 1606.4,295.2 1608.1,297.5 C1609.8,299.9 1609.7,301.4 1611.7,302.3 C1613.6,303.3 1614.2,302.0 1616.5,301.7 C1618.7,301.5 1619.3,302.0 1621.3,301.1 C1623.2,300.3 1623.2,297.6 1624.8,298.1 C1626.5,298.7 1626.5,301.4 1628.4,303.5 C1630.4,305.6 1631.0,305.4 1633.2,307.1 C1635.4,308.8 1636.0,309.9 1638.0,310.7 C1639.9,311.5 1639.9,312.6 1641.6,310.7 C1643.2,308.7 1643.5,305.4 1645.2,302.3 C1646.8,299.3 1647.1,301.2 1648.7,297.5 C1650.4,293.9 1650.8,290.1 1652.3,286.8 C1653.9,283.4 1653.8,282.9 1655.3,283.2 C1656.8,283.5 1657.4,285.5 1658.9,288.0 C1660.4,290.5 1660.4,292.3 1661.9,294.0 C1663.4,295.6 1663.8,295.4 1665.5,295.2 C1667.1,294.9 1667.2,293.6 1669.1,292.8 C1670.9,291.9 1671.3,290.7 1673.2,291.6 C1675.2,292.4 1675.6,294.1 1677.4,296.4 C1679.2,298.6 1679.2,300.0 1681.0,301.1 C1682.8,302.2 1683.5,300.3 1685.2,301.1 C1686.9,302.0 1686.9,302.5 1688.2,304.7 C1689.4,306.9 1689.3,308.9 1690.6,310.7 C1691.8,312.5 1692.2,313.3 1693.6,312.5 C1694.9,311.6 1695.0,310.6 1696.5,307.1 C1698.1,303.6 1698.5,300.6 1700.1,297.5 C1701.8,294.5 1702.0,294.0 1703.7,294.0 C1705.4,294.0 1705.6,295.6 1707.3,297.5 C1709.0,299.5 1709.2,302.0 1710.9,302.3 C1712.6,302.6 1712.8,302.4 1714.5,298.7 C1716.1,295.1 1716.4,291.3 1718.1,286.8 C1719.7,282.3 1720.1,281.6 1721.6,279.6 C1723.2,277.7 1723.9,278.7 1724.6,278.4" fill="none" stroke="#00c800" stroke-width="4.4" stroke-linejoin="round" stroke-linecap="butt"/>
<path d="M1162.6,224.3 C1163.3,227.0 1163.7,232.0 1165.7,235.7 C1167.8,239.3 1168.6,240.9 1171.4,240.1 C1174.2,239.2 1175.0,231.6 1177.7,231.9 C1180.3,232.2 1180.1,239.3 1182.7,241.3 C1185.3,243.4 1186.8,243.2 1189.0,240.7 C1191.2,238.2 1189.5,234.1 1192.1,230.6 C1194.8,227.2 1196.5,226.3 1200.3,225.8 C1204.1,225.4 1205.7,225.7 1208.5,228.7 C1211.3,231.8 1209.8,235.9 1212.3,238.8 C1214.8,241.7 1215.8,242.5 1219.2,241.3 C1222.6,240.1 1222.9,234.9 1226.7,233.8 C1230.5,232.6 1231.9,235.1 1235.5,236.3 C1239.2,237.5 1239.4,236.2 1242.5,238.8 C1245.5,241.4 1245.4,246.9 1248.7,247.6 C1252.1,248.3 1253.2,241.5 1256.9,241.9 C1260.6,242.4 1260.6,246.3 1264.5,249.5 C1268.3,252.7 1269.5,252.7 1273.3,255.8 C1277.1,258.9 1277.3,260.6 1280.8,262.7 C1284.3,264.8 1285.1,261.8 1288.4,264.6 C1291.6,267.4 1291.6,273.0 1294.7,274.7 C1297.7,276.3 1298.9,274.4 1301.6,271.5 C1304.2,268.6 1302.9,265.0 1306.0,262.1 C1309.1,259.1 1311.4,262.0 1314.8,258.9 C1318.2,255.8 1316.9,250.9 1320.4,248.9 C1324.0,246.8 1325.6,248.8 1329.9,250.1 C1334.1,251.4 1334.3,254.4 1338.7,254.5 C1343.1,254.7 1346.1,251.7 1348.7,250.8 C1351.4,249.8 1347.9,252.1 1350.0,250.6 C1352.1,249.1 1353.7,247.1 1357.5,244.3 C1361.4,241.5 1362.4,241.7 1366.4,238.6 C1370.3,235.5 1370.9,234.7 1374.5,231.1 C1378.2,227.4 1378.4,226.3 1382.1,222.9 C1385.7,219.5 1386.9,220.1 1390.3,216.6 C1393.6,213.1 1393.3,210.7 1396.5,207.8 C1399.8,204.9 1400.3,205.8 1404.1,204.0 C1407.9,202.3 1409.6,203.1 1412.9,200.3 C1416.2,197.4 1416.3,196.0 1418.3,191.6 C1420.3,187.3 1419.1,185.7 1421.4,181.6 C1423.8,177.5 1425.0,176.8 1428.4,174.0 C1431.7,171.2 1433.1,173.1 1435.9,169.6 C1438.7,166.1 1438.6,163.8 1440.3,158.9 C1442.1,154.1 1441.7,153.6 1443.5,148.9 C1445.2,144.2 1445.1,142.5 1447.9,138.8 C1450.6,135.1 1451.9,136.2 1455.4,133.1 C1458.9,130.1 1460.2,129.6 1463.0,125.6 C1465.7,121.6 1464.1,119.7 1467.4,116.2 C1470.6,112.6 1472.8,113.0 1476.8,110.5 C1480.8,108.0 1480.5,107.5 1484.3,105.5 C1488.2,103.4 1489.2,102.6 1493.1,101.7 C1497.1,100.8 1497.8,103.8 1501.3,101.7 C1504.8,99.6 1505.0,96.9 1508.2,92.9 C1511.5,88.9 1511.8,88.2 1515.2,84.7 C1518.5,81.2 1518.4,79.3 1522.7,77.8 C1527.0,76.3 1529.4,78.4 1533.4,78.4 C1537.4,78.4 1536.5,80.5 1540.0,77.8 C1543.5,75.1 1544.3,69.4 1548.4,67.0 C1552.4,64.7 1553.3,66.5 1557.3,67.6 C1561.4,68.8 1562.1,73.1 1565.7,71.8 C1569.3,70.6 1569.5,63.1 1572.9,62.3 C1576.2,61.4 1576.5,66.1 1580.0,68.2 C1583.5,70.3 1584.0,71.6 1587.8,71.2 C1591.6,70.8 1591.7,67.4 1596.2,66.4 C1600.6,65.5 1602.3,66.5 1606.9,67.0 C1611.5,67.6 1611.7,68.8 1615.9,68.8 C1620.1,68.8 1621.6,65.1 1624.8,67.0 C1628.0,69.0 1627.0,72.9 1629.6,77.2 C1632.3,81.5 1632.8,81.8 1636.2,85.6 C1639.5,89.3 1640.5,89.7 1644.0,93.3 C1647.4,97.0 1647.9,97.3 1651.1,101.1 C1654.3,104.9 1655.2,105.1 1657.7,109.5 C1660.2,113.8 1659.9,115.0 1661.9,119.6 C1663.8,124.2 1663.1,125.4 1666.1,129.2 C1669.0,132.9 1670.7,132.5 1674.4,135.8 C1678.2,139.0 1679.3,138.9 1682.2,142.9 C1685.1,147.0 1685.3,148.3 1687.0,153.1 C1688.7,157.8 1688.2,158.4 1689.4,163.2 C1690.5,168.1 1690.9,169.0 1692.0,174.0 C1693.1,179.0 1693.0,179.7 1694.2,184.7 C1695.3,189.8 1695.5,190.6 1696.8,195.5 C1698.0,200.4 1697.9,200.9 1699.5,205.7 C1701.1,210.4 1701.8,211.2 1703.7,215.8 C1705.7,220.4 1706.2,220.7 1707.9,225.3 C1709.6,229.8 1709.6,230.5 1710.9,235.4 C1712.1,240.3 1711.9,241.1 1713.3,246.2 C1714.7,251.2 1715.2,251.9 1716.9,256.9 C1718.5,261.9 1719.0,263.2 1720.4,267.7 C1721.8,272.1 1722.3,274.1 1722.8,276.0" fill="none" stroke="#000" stroke-width="6" stroke-dasharray="5.4 4.4" stroke-linejoin="round"/>
<path d="M1162.1,388.2 C1162.7,382.0 1163.3,378.2 1164.6,361.8 C1165.9,345.3 1166.4,335.1 1167.7,317.7 C1169.1,300.4 1168.8,297.9 1170.3,287.5 C1171.7,277.2 1172.3,274.9 1173.9,273.4 C1175.5,271.9 1175.3,273.3 1177.0,280.9 C1178.8,288.6 1179.2,296.4 1181.4,306.1 C1183.6,315.8 1184.4,318.6 1186.5,322.5 C1188.5,326.3 1188.5,324.8 1190.3,322.5 C1192.0,320.1 1192.1,317.4 1194.0,312.4 C1195.9,307.4 1196.7,301.4 1198.4,301.1 C1200.2,300.8 1200.5,305.8 1201.6,311.1 C1202.6,316.5 1202.0,317.2 1203.0,324.0 C1203.9,330.8 1204.4,335.7 1205.5,340.4 C1206.5,345.1 1206.3,344.4 1207.4,344.2 C1208.4,343.9 1208.7,344.4 1209.9,339.1 C1211.0,333.8 1211.1,328.6 1212.4,321.5 C1213.7,314.5 1213.9,313.3 1215.5,308.9 C1217.1,304.5 1217.3,305.6 1219.3,302.6 C1221.3,299.6 1222.2,301.1 1224.2,296.0 C1226.2,291.0 1226.5,289.7 1228.0,280.9 C1229.5,272.1 1229.3,264.6 1230.5,258.3 C1231.7,252.0 1231.8,253.3 1233.0,253.9 C1234.2,254.5 1234.4,254.5 1235.5,260.8 C1236.7,267.1 1236.7,274.0 1238.1,280.9 C1239.4,287.8 1239.7,290.4 1241.2,290.4 C1242.7,290.4 1243.0,287.5 1244.3,280.9 C1245.7,274.3 1245.5,267.9 1246.9,262.1 C1248.2,256.2 1248.5,255.5 1250.0,255.8 C1251.5,256.1 1251.5,257.8 1253.1,263.3 C1254.8,268.9 1255.3,274.7 1256.9,279.7 C1258.5,284.7 1258.0,285.0 1260.1,284.7 C1262.1,284.4 1262.8,281.9 1265.7,278.4 C1268.7,274.9 1270.0,273.7 1272.6,269.6 C1275.3,265.5 1275.1,263.2 1277.0,260.8 C1279.0,258.5 1278.9,259.6 1280.8,259.6 C1282.7,259.6 1283.5,264.6 1285.2,260.8 C1287.0,257.0 1286.9,249.4 1288.4,243.2 C1289.8,237.0 1290.0,234.4 1291.5,234.4 C1293.0,234.4 1293.0,236.5 1294.7,243.2 C1296.3,250.0 1296.7,253.1 1298.4,263.3 C1300.2,273.6 1300.4,275.8 1302.2,287.2 C1304.0,298.7 1304.2,304.2 1306.0,312.4 C1307.7,320.6 1307.7,321.9 1309.7,322.5 C1311.8,323.0 1312.4,319.3 1314.8,314.9 C1317.1,310.5 1317.5,309.2 1319.8,303.6 C1322.2,298.0 1322.5,295.4 1324.8,291.0 C1327.2,286.6 1327.8,288.2 1329.9,284.7 C1331.9,281.2 1332.2,278.8 1333.6,275.9 C1335.1,273.0 1334.8,271.8 1336.2,272.1 C1337.5,272.4 1337.5,273.9 1339.3,277.2 C1341.1,280.4 1341.7,285.7 1343.7,286.0 C1345.8,286.3 1346.6,280.5 1348.1,278.4 C1349.6,276.3 1348.7,275.9 1350.0,277.0 C1351.3,278.1 1352.0,280.6 1353.8,283.3 C1355.5,285.9 1355.8,288.0 1357.5,288.3 C1359.3,288.6 1359.6,285.4 1361.3,284.5 C1363.1,283.6 1363.6,282.8 1365.1,284.5 C1366.6,286.3 1366.4,287.4 1367.6,292.1 C1368.8,296.8 1368.8,300.0 1370.1,304.7 C1371.4,309.4 1371.5,310.0 1373.3,312.2 C1375.0,314.4 1375.5,312.9 1377.7,314.1 C1379.9,315.3 1380.6,317.7 1382.7,317.2 C1384.8,316.8 1384.7,314.8 1386.5,312.2 C1388.2,309.6 1388.5,308.1 1390.3,305.9 C1392.0,303.7 1392.0,303.9 1394.0,302.8 C1396.1,301.6 1397.0,302.8 1399.1,300.9 C1401.1,299.0 1401.1,299.3 1402.8,294.6 C1404.6,289.9 1405.0,286.6 1406.6,280.8 C1408.2,274.9 1408.4,272.5 1409.7,269.4 C1411.1,266.4 1410.9,267.0 1412.3,267.5 C1413.6,268.1 1413.9,267.7 1415.4,271.9 C1416.9,276.2 1416.9,279.6 1418.6,285.8 C1420.2,291.9 1420.4,294.4 1422.3,298.4 C1424.2,302.3 1424.8,303.1 1426.7,302.8 C1428.6,302.5 1428.7,299.6 1430.5,297.1 C1432.3,294.6 1432.7,292.1 1434.3,292.1 C1435.9,292.1 1436.1,292.7 1437.4,297.1 C1438.7,301.5 1438.6,303.3 1439.9,310.9 C1441.3,318.6 1441.6,323.8 1443.1,329.8 C1444.5,335.8 1444.5,336.1 1446.2,336.7 C1448.0,337.3 1448.4,335.7 1450.6,332.3 C1452.8,329.0 1453.6,325.8 1455.7,322.3 C1457.7,318.7 1457.7,317.5 1459.4,317.2 C1461.2,316.9 1461.6,319.2 1463.2,321.0 C1464.8,322.8 1464.9,325.4 1466.4,324.8 C1467.8,324.2 1468.0,322.6 1469.5,318.5 C1471.0,314.4 1471.2,310.4 1472.6,307.2 C1474.1,303.9 1474.2,305.8 1475.8,304.7 C1477.4,303.5 1477.8,304.2 1479.6,302.1 C1481.3,300.1 1481.6,297.8 1483.3,295.8 C1485.1,293.9 1485.1,293.5 1487.1,294.0 C1489.2,294.4 1490.1,297.6 1492.1,297.7 C1494.2,297.9 1494.2,298.8 1495.9,294.6 C1497.7,290.3 1498.1,284.9 1499.7,279.5 C1501.3,274.1 1501.1,272.2 1502.8,271.3 C1504.6,270.4 1505.0,273.8 1507.2,275.7 C1509.4,277.6 1510.4,276.9 1512.3,279.5 C1514.2,282.1 1513.9,282.3 1515.4,287.0 C1516.9,291.7 1517.2,296.1 1518.6,299.6 C1519.9,303.1 1519.7,304.2 1521.1,302.1 C1522.4,300.1 1522.5,295.5 1524.2,290.8 C1526.0,286.1 1526.7,283.2 1528.6,282.0 C1530.5,280.8 1530.3,283.1 1532.4,285.8 C1534.4,288.4 1535.6,291.7 1537.4,293.3 C1539.2,295.0 1538.3,293.9 1540.0,292.8 C1541.7,291.7 1542.8,288.3 1544.8,288.6 C1546.7,288.9 1546.6,291.6 1548.4,294.0 C1550.2,296.3 1550.3,298.7 1552.5,298.7 C1554.8,298.7 1555.6,296.2 1557.9,294.0 C1560.3,291.7 1560.8,288.9 1562.7,289.2 C1564.7,289.5 1564.6,290.7 1566.3,295.2 C1568.0,299.6 1568.2,303.8 1569.9,308.3 C1571.5,312.8 1571.8,314.6 1573.5,314.3 C1575.1,314.0 1575.2,310.2 1577.0,307.1 C1578.9,304.0 1579.6,301.1 1581.2,301.1 C1582.9,301.1 1582.7,303.2 1584.2,307.1 C1585.7,311.0 1586.3,314.7 1587.8,317.9 C1589.3,321.1 1589.3,320.6 1590.8,320.8 C1592.3,321.1 1592.8,318.9 1594.4,319.1 C1595.9,319.2 1595.8,320.2 1597.4,321.4 C1598.9,322.7 1599.1,325.0 1600.9,324.4 C1602.8,323.9 1603.2,322.3 1605.1,319.1 C1607.1,315.9 1607.5,313.6 1609.3,310.7 C1611.1,307.8 1611.2,306.2 1612.9,306.5 C1614.6,306.8 1614.9,308.4 1616.5,311.9 C1618.0,315.4 1618.1,318.4 1619.5,321.4 C1620.9,324.5 1620.9,325.3 1622.5,325.0 C1624.0,324.8 1624.1,322.8 1626.0,320.3 C1628.0,317.7 1628.6,316.9 1630.8,314.3 C1633.0,311.6 1633.6,310.0 1635.6,308.9 C1637.5,307.8 1637.6,307.7 1639.2,309.5 C1640.7,311.3 1640.9,313.0 1642.2,316.7 C1643.4,320.3 1643.3,322.2 1644.6,325.0 C1645.8,327.8 1646.0,328.3 1647.5,328.6 C1649.1,328.9 1649.5,329.0 1651.1,326.2 C1652.8,323.4 1653.2,322.2 1654.7,316.7 C1656.3,311.1 1656.3,308.2 1657.7,302.3 C1659.1,296.5 1659.2,294.8 1660.7,291.6 C1662.2,288.4 1662.3,288.6 1664.3,288.6 C1666.2,288.6 1666.8,290.0 1669.1,291.6 C1671.3,293.1 1671.6,292.4 1673.8,295.2 C1676.1,297.9 1676.5,299.6 1678.6,303.5 C1680.7,307.4 1681.0,309.1 1682.8,311.9 C1684.6,314.7 1684.7,316.0 1686.4,315.5 C1688.1,314.9 1688.3,313.7 1690.0,309.5 C1691.6,305.3 1691.7,304.0 1693.6,297.5 C1695.4,291.1 1695.8,287.4 1697.7,282.0 C1699.7,276.6 1700.1,274.8 1701.9,274.2 C1703.7,273.7 1703.8,277.1 1705.5,279.6 C1707.2,282.1 1707.6,284.7 1709.1,285.0 C1710.6,285.3 1710.8,284.9 1712.1,280.8 C1713.3,276.8 1713.4,273.8 1714.5,267.7 C1715.6,261.5 1715.9,258.2 1716.9,254.5 C1717.8,250.9 1717.8,251.6 1718.6,252.1 C1719.5,252.7 1719.6,252.7 1720.4,256.9 C1721.3,261.1 1721.4,264.8 1722.2,270.1 C1723.1,275.4 1723.6,277.4 1724.0,279.6" fill="none" stroke="#0000ff" stroke-width="4.4" stroke-linejoin="round" stroke-linecap="butt"/>
<line x1="1419.60" y1="114.90" x2="1451.60" y2="134.40" stroke="#000" stroke-width="1.9" />
<text transform="translate(1072.40,44.60) scale(1,1.05)" font-size="37" fill="#000" text-anchor="end" >0.4</text>
<text transform="translate(1072.40,177.96) scale(1,1.05)" font-size="37" fill="#000" text-anchor="end" >0.2</text>
<text transform="translate(1072.40,311.32) scale(1,1.05)" font-size="37" fill="#000" text-anchor="end" >0.0</text>
<text transform="translate(1072.40,444.68) scale(1,1.05)" font-size="37" fill="#000" text-anchor="end" >-0.2</text>
<text transform="translate(1072.40,578.04) scale(1,1.05)" font-size="37" fill="#000" text-anchor="end" >-0.4</text>
<text transform="translate(1072.40,711.40) scale(1,1.05)" font-size="37" fill="#000" text-anchor="end" >-0.6</text>
<text transform="translate(1081.00,746.00) scale(1,1.05)" font-size="38" fill="#000" text-anchor="middle" >0.0</text>
<text transform="translate(1241.40,746.00) scale(1,1.05)" font-size="38" fill="#000" text-anchor="middle" >0.2</text>
<text transform="translate(1401.80,746.00) scale(1,1.05)" font-size="38" fill="#000" text-anchor="middle" >0.4</text>
<text transform="translate(1562.20,746.00) scale(1,1.05)" font-size="38" fill="#000" text-anchor="middle" >0.6</text>
<text transform="translate(1723.60,746.00) scale(1,1.05)" font-size="38" fill="#000" text-anchor="middle" >0.8</text>
<text x="950.00" y="49.50" font-size="46" fill="#000" text-anchor="start" font-weight="bold" >b</text>
<text x="1170.50" y="96.30" font-size="36.2" fill="#000" text-anchor="start" ><tspan font-style="italic">θ</tspan><tspan font-size="26" dy="8">K</tspan><tspan font-size="26" dy="-22">M</tspan><tspan dy="14"> (0.49 T, SkL)</tspan></text>
<text x="1240.00" y="387.00" font-size="37.6" fill="#00c800" text-anchor="start" >0.24 T (IC-1)</text>
<text x="1493.00" y="381.00" font-size="37.6" fill="#0000ff" text-anchor="start" >2.0 T (IC-2)</text>
<text x="1206.00" y="490.00" font-size="37.6" fill="#ff0000" text-anchor="start" >0.49 T (SkL)</text>
<text x="1508.00" y="655.00" font-size="37.2" fill="#000" text-anchor="start" >8.4 K, <tspan font-style="italic">H</tspan> || <tspan font-style="italic">c</tspan></text>
<text x="1394.40" y="793.60" font-size="43" fill="#000" text-anchor="middle" >Energy (eV)</text>
<text transform="translate(976,377) rotate(-90)" font-size="42.7" text-anchor="middle"><tspan font-style="italic">θ</tspan><tspan font-size="28" dy="8">K</tspan><tspan font-size="28" dy="-24">T</tspan><tspan dy="16"> (mrad)</tspan></text>
</g>
<g id="panel-c">
<defs><linearGradient id="hl0" gradientUnits="userSpaceOnUse" x1="208.4" y1="0" x2="784.5" y2="0"><stop offset="0.0000" stop-color="#bdfa9f"/><stop offset="0.3275" stop-color="#bdfa9f"/><stop offset="0.5646" stop-color="#bdfa9f"/><stop offset="1.0004" stop-color="#bdfa9f"/></linearGradient><linearGradient id="hs0" gradientUnits="userSpaceOnUse" x1="159.1" y1="0" x2="192.0" y2="0"><stop offset="0.0091" stop-color="#bdfa9f"/><stop offset="0.0509" stop-color="#bdfa9f"/><stop offset="0.0691" stop-color="#bdfa9f"/><stop offset="0.1209" stop-color="#bdfa9f"/><stop offset="0.1391" stop-color="#bdfa9f"/><stop offset="0.2409" stop-color="#bdfa9f"/><stop offset="0.2591" stop-color="#bdfa9f"/><stop offset="0.2909" stop-color="#bdfa9f"/><stop offset="0.3091" stop-color="#bdfa9f"/><stop offset="0.3509" stop-color="#bdfa9f"/><stop offset="0.3691" stop-color="#bdfa9f"/><stop offset="0.4909" stop-color="#bdfa9f"/><stop offset="0.5091" stop-color="#bdfa9f"/><stop offset="0.6309" stop-color="#bdfa9f"/><stop offset="0.6491" stop-color="#bdfa9f"/><stop offset="0.6909" stop-color="#bdfa9f"/><stop offset="0.7091" stop-color="#bdfa9f"/><stop offset="0.7509" stop-color="#bdfa9f"/><stop offset="0.7691" stop-color="#bdfa9f"/><stop offset="0.8109" stop-color="#bdfa9f"/><stop offset="0.8291" stop-color="#bdfa9f"/><stop offset="0.8909" stop-color="#bdfa9f"/><stop offset="0.9091" stop-color="#bdfa9f"/><stop offset="0.9409" stop-color="#bdfa9f"/><stop offset="0.9591" stop-color="#bdfa9f"/><stop offset="0.9909" stop-color="#bdfa9f"/></linearGradient><linearGradient id="hl1" gradientUnits="userSpaceOnUse" x1="208.4" y1="0" x2="784.5" y2="0"><stop offset="0.0000" stop-color="#a2f3aa"/><stop offset="0.0064" stop-color="#a2f3aa"/><stop offset="0.0125" stop-color="#b3f8a3"/><stop offset="0.0186" stop-color="#c4fb9c"/><stop offset="0.0287" stop-color="#c4fb9c"/><stop offset="0.0436" stop-color="#aef7a5"/><stop offset="0.0578" stop-color="#aef7a5"/><stop offset="0.0665" stop-color="#bdfa9f"/><stop offset="0.0736" stop-color="#bdfa9f"/><stop offset="0.0820" stop-color="#aaf5a7"/><stop offset="0.0901" stop-color="#aaf5a7"/><stop offset="0.1057" stop-color="#bdfa9f"/><stop offset="0.1138" stop-color="#bdfa9f"/><stop offset="0.1252" stop-color="#d0f992"/><stop offset="0.1313" stop-color="#d0f992"/><stop offset="0.1394" stop-color="#c1fb9d"/><stop offset="0.1425" stop-color="#c1fb9d"/><stop offset="0.1529" stop-color="#d4f88e"/><stop offset="0.1610" stop-color="#d4f88e"/><stop offset="0.1732" stop-color="#c4fb9c"/><stop offset="0.1813" stop-color="#c4fb9c"/><stop offset="0.2056" stop-color="#d0f992"/><stop offset="0.2197" stop-color="#d0f992"/><stop offset="0.2241" stop-color="#e9f17a"/><stop offset="0.2285" stop-color="#f3e16f"/><stop offset="0.2329" stop-color="#f9cf63"/><stop offset="0.2430" stop-color="#f9cf63"/><stop offset="0.2459" stop-color="#f1e471"/><stop offset="0.2489" stop-color="#e0f482"/><stop offset="0.2518" stop-color="#c4fb9c"/><stop offset="0.2528" stop-color="#c4fb9c"/><stop offset="0.2629" stop-color="#a6f4a8"/><stop offset="0.2771" stop-color="#a6f4a8"/><stop offset="0.2892" stop-color="#b9f9a0"/><stop offset="0.2913" stop-color="#b9f9a0"/><stop offset="0.3073" stop-color="#c4fb9c"/><stop offset="0.3475" stop-color="#c4fb9c"/><stop offset="0.3748" stop-color="#b2f8a3"/><stop offset="0.4315" stop-color="#b2f8a3"/><stop offset="0.4324" stop-color="#c4fb9c"/><stop offset="0.4326" stop-color="#c4fb9c"/><stop offset="0.4430" stop-color="#c8fc9a"/><stop offset="0.4531" stop-color="#c8fc9a"/><stop offset="0.4684" stop-color="#bdfa9f"/><stop offset="0.4884" stop-color="#bdfa9f"/><stop offset="0.5055" stop-color="#b2f8a3"/><stop offset="0.5424" stop-color="#b2f8a3"/><stop offset="0.5595" stop-color="#b9f9a0"/><stop offset="0.9541" stop-color="#b9f9a0"/><stop offset="0.9694" stop-color="#c4fb9c"/><stop offset="0.9795" stop-color="#c4fb9c"/><stop offset="0.9853" stop-color="#def485"/><stop offset="0.9911" stop-color="#f0e773"/><stop offset="1.0004" stop-color="#f0e773"/></linearGradient><linearGradient id="hs1" gradientUnits="userSpaceOnUse" x1="159.1" y1="0" x2="192.0" y2="0"><stop offset="0.0091" stop-color="#6ae7e3"/><stop offset="0.0509" stop-color="#6ae7e3"/><stop offset="0.0691" stop-color="#74ebd4"/><stop offset="0.1209" stop-color="#74ebd4"/><stop offset="0.1391" stop-color="#81ebc0"/><stop offset="0.2409" stop-color="#81ebc0"/><stop offset="0.2591" stop-color="#f9ce63"/><stop offset="0.2909" stop-color="#f9ce63"/><stop offset="0.3091" stop-color="#fab6b2"/><stop offset="0.3509" stop-color="#fab6b2"/><stop offset="0.3691" stop-color="#7cebc6"/><stop offset="0.4909" stop-color="#7cebc6"/><stop offset="0.5091" stop-color="#9af0ae"/><stop offset="0.6309" stop-color="#9af0ae"/><stop offset="0.6491" stop-color="#f1e571"/><stop offset="0.6909" stop-color="#f1e571"/><stop offset="0.7091" stop-color="#fac75f"/><stop offset="0.7509" stop-color="#fac75f"/><stop offset="0.7691" stop-color="#91eeb4"/><stop offset="0.8109" stop-color="#91eeb4"/><stop offset="0.8291" stop-color="#cbfb97"/><stop offset="0.8909" stop-color="#cbfb97"/><stop offset="0.9091" stop-color="#1b01ad"/><stop offset="0.9409" stop-color="#1b01ad"/><stop offset="0.9591" stop-color="#fcba56"/><stop offset="0.9909" stop-color="#fcba56"/></linearGradient><linearGradient id="hl2" gradientUnits="userSpaceOnUse" x1="208.4" y1="0" x2="784.5" y2="0"><stop offset="0.0000" stop-color="#75ebd1"/><stop offset="0.0089" stop-color="#75ebd1"/><stop offset="0.0126" stop-color="#8deeb6"/><stop offset="0.0163" stop-color="#aef7a5"/><stop offset="0.0200" stop-color="#ccfa96"/><stop offset="0.0291" stop-color="#ccfa96"/><stop offset="0.0360" stop-color="#b7f9a1"/><stop offset="0.0429" stop-color="#a2f3aa"/><stop offset="0.0551" stop-color="#a2f3aa"/><stop offset="0.0645" stop-color="#bdfa9f"/><stop offset="0.0706" stop-color="#bdfa9f"/><stop offset="0.0756" stop-color="#abf6a6"/><stop offset="0.0807" stop-color="#99f0af"/><stop offset="0.0898" stop-color="#99f0af"/><stop offset="0.0964" stop-color="#aaf5a7"/><stop offset="0.1030" stop-color="#b9f9a0"/><stop offset="0.1131" stop-color="#b9f9a0"/><stop offset="0.1187" stop-color="#ccfa96"/><stop offset="0.1242" stop-color="#e1f382"/><stop offset="0.1323" stop-color="#e1f382"/><stop offset="0.1414" stop-color="#c4fb9c"/><stop offset="0.1455" stop-color="#c4fb9c"/><stop offset="0.1533" stop-color="#e1f382"/><stop offset="0.1624" stop-color="#e1f382"/><stop offset="0.1732" stop-color="#c8fc9a"/><stop offset="0.1813" stop-color="#c8fc9a"/><stop offset="0.1900" stop-color="#d4f88e"/><stop offset="0.1981" stop-color="#d4f88e"/><stop offset="0.2083" stop-color="#f0e773"/><stop offset="0.2204" stop-color="#f0e773"/><stop offset="0.2235" stop-color="#f9ce63"/><stop offset="0.2266" stop-color="#fcae50"/><stop offset="0.2298" stop-color="#f77d4a"/><stop offset="0.2329" stop-color="#f35358"/><stop offset="0.2430" stop-color="#f35358"/><stop offset="0.2444" stop-color="#f6794a"/><stop offset="0.2459" stop-color="#fda94d"/><stop offset="0.2473" stop-color="#fac85f"/><stop offset="0.2487" stop-color="#f3e16f"/><stop offset="0.2501" stop-color="#e1f382"/><stop offset="0.2511" stop-color="#e1f382"/><stop offset="0.2543" stop-color="#c7fc9b"/><stop offset="0.2574" stop-color="#b0f7a4"/><stop offset="0.2606" stop-color="#99f0af"/><stop offset="0.2727" stop-color="#99f0af"/><stop offset="0.2793" stop-color="#aaf5a7"/><stop offset="0.2859" stop-color="#b9f9a0"/><stop offset="0.2879" stop-color="#b9f9a0"/><stop offset="0.3054" stop-color="#ccfa96"/><stop offset="0.3156" stop-color="#ccfa96"/><stop offset="0.3233" stop-color="#c1fb9d"/><stop offset="0.3264" stop-color="#c1fb9d"/><stop offset="0.3311" stop-color="#ccfa96"/><stop offset="0.3372" stop-color="#ccfa96"/><stop offset="0.3493" stop-color="#c4fb9c"/><stop offset="0.3594" stop-color="#c4fb9c"/><stop offset="0.3748" stop-color="#b2f8a3"/><stop offset="0.4315" stop-color="#b2f8a3"/><stop offset="0.4324" stop-color="#c4fb9c"/><stop offset="0.4326" stop-color="#c4fb9c"/><stop offset="0.4430" stop-color="#d0f992"/><stop offset="0.4531" stop-color="#d0f992"/><stop offset="0.4684" stop-color="#b9f9a0"/><stop offset="0.4884" stop-color="#b9f9a0"/><stop offset="0.5055" stop-color="#aaf5a7"/><stop offset="0.5424" stop-color="#aaf5a7"/><stop offset="0.5595" stop-color="#b9f9a0"/><stop offset="0.5896" stop-color="#b9f9a0"/><stop offset="0.6068" stop-color="#c4fb9c"/><stop offset="0.6234" stop-color="#c4fb9c"/><stop offset="0.6405" stop-color="#b9f9a0"/><stop offset="0.7179" stop-color="#b9f9a0"/><stop offset="0.7350" stop-color="#b6f9a2"/><stop offset="0.9473" stop-color="#b6f9a2"/><stop offset="0.9633" stop-color="#c4fb9c"/><stop offset="0.9755" stop-color="#c4fb9c"/><stop offset="0.9787" stop-color="#dff484"/><stop offset="0.9820" stop-color="#f0e672"/><stop offset="0.9853" stop-color="#f9d266"/><stop offset="0.9886" stop-color="#fcbc57"/><stop offset="1.0004" stop-color="#fcbc57"/></linearGradient><linearGradient id="hs2" gradientUnits="userSpaceOnUse" x1="159.1" y1="0" x2="192.0" y2="0"><stop offset="0.0091" stop-color="#1769f2"/><stop offset="0.0509" stop-color="#1769f2"/><stop offset="0.0691" stop-color="#25b8ff"/><stop offset="0.1209" stop-color="#25b8ff"/><stop offset="0.1391" stop-color="#74ebd4"/><stop offset="0.2409" stop-color="#74ebd4"/><stop offset="0.2591" stop-color="#fcba56"/><stop offset="0.2909" stop-color="#fcba56"/><stop offset="0.3091" stop-color="#dbf588"/><stop offset="0.3509" stop-color="#dbf588"/><stop offset="0.3691" stop-color="#78ebcd"/><stop offset="0.4909" stop-color="#78ebcd"/><stop offset="0.5091" stop-color="#88ecba"/><stop offset="0.6309" stop-color="#88ecba"/><stop offset="0.6491" stop-color="#fcb151"/><stop offset="0.6909" stop-color="#fcb151"/><stop offset="0.7091" stop-color="#a1f2aa"/><stop offset="0.7509" stop-color="#a1f2aa"/><stop offset="0.7691" stop-color="#fb9247"/><stop offset="0.8109" stop-color="#fb9247"/><stop offset="0.8291" stop-color="#7cebc6"/><stop offset="0.8909" stop-color="#7cebc6"/><stop offset="0.9091" stop-color="#dbf588"/><stop offset="0.9409" stop-color="#dbf588"/><stop offset="0.9591" stop-color="#0c3de4"/><stop offset="0.9909" stop-color="#0c3de4"/></linearGradient><linearGradient id="hl3" gradientUnits="userSpaceOnUse" x1="208.4" y1="0" x2="784.5" y2="0"><stop offset="0.0000" stop-color="#c8fc9a"/><stop offset="0.0114" stop-color="#c8fc9a"/><stop offset="0.0240" stop-color="#b2f8a3"/><stop offset="0.0301" stop-color="#b2f8a3"/><stop offset="0.0441" stop-color="#c8fc9a"/><stop offset="0.0674" stop-color="#c8fc9a"/><stop offset="0.0744" stop-color="#b7f9a1"/><stop offset="0.0814" stop-color="#a6f4a8"/><stop offset="0.0874" stop-color="#a6f4a8"/><stop offset="0.1003" stop-color="#c1fb9d"/><stop offset="0.1124" stop-color="#c1fb9d"/><stop offset="0.1252" stop-color="#ccfa96"/><stop offset="0.1313" stop-color="#ccfa96"/><stop offset="0.1391" stop-color="#c4fb9c"/><stop offset="0.1411" stop-color="#c4fb9c"/><stop offset="0.1457" stop-color="#d8f68a"/><stop offset="0.1502" stop-color="#ebef77"/><stop offset="0.1603" stop-color="#ebef77"/><stop offset="0.1668" stop-color="#daf688"/><stop offset="0.1732" stop-color="#c8fc9a"/><stop offset="0.1813" stop-color="#c8fc9a"/><stop offset="0.1959" stop-color="#e1f382"/><stop offset="0.2192" stop-color="#e1f382"/><stop offset="0.2232" stop-color="#f4df6e"/><stop offset="0.2271" stop-color="#fac55d"/><stop offset="0.2310" stop-color="#fda149"/><stop offset="0.2349" stop-color="#f46c4d"/><stop offset="0.2461" stop-color="#f46c4d"/><stop offset="0.2479" stop-color="#fd9e47"/><stop offset="0.2497" stop-color="#fbc05a"/><stop offset="0.2515" stop-color="#f7da6b"/><stop offset="0.2533" stop-color="#ebef78"/><stop offset="0.2552" stop-color="#ccfa96"/><stop offset="0.2562" stop-color="#ccfa96"/><stop offset="0.2636" stop-color="#b9f9a0"/><stop offset="0.2697" stop-color="#b9f9a0"/><stop offset="0.2859" stop-color="#c4fb9c"/><stop offset="0.2879" stop-color="#c4fb9c"/><stop offset="0.3073" stop-color="#d0f992"/><stop offset="0.3542" stop-color="#d0f992"/><stop offset="0.3781" stop-color="#b6f9a2"/><stop offset="0.4315" stop-color="#b6f9a2"/><stop offset="0.4324" stop-color="#c8fc9a"/><stop offset="0.4326" stop-color="#c8fc9a"/><stop offset="0.4423" stop-color="#d9f68a"/><stop offset="0.4504" stop-color="#d9f68a"/><stop offset="0.4650" stop-color="#c1fb9d"/><stop offset="0.4884" stop-color="#c1fb9d"/><stop offset="0.5055" stop-color="#b2f8a3"/><stop offset="0.5221" stop-color="#b2f8a3"/><stop offset="0.5393" stop-color="#bdfa9f"/><stop offset="0.5829" stop-color="#bdfa9f"/><stop offset="0.6000" stop-color="#c4fb9c"/><stop offset="0.7516" stop-color="#c4fb9c"/><stop offset="0.7688" stop-color="#b9f9a0"/><stop offset="0.9473" stop-color="#b9f9a0"/><stop offset="0.9620" stop-color="#c8fc9a"/><stop offset="0.9701" stop-color="#c8fc9a"/><stop offset="0.9734" stop-color="#e8f17b"/><stop offset="0.9768" stop-color="#f5dd6c"/><stop offset="0.9801" stop-color="#fbc45c"/><stop offset="0.9835" stop-color="#fda24a"/><stop offset="1.0004" stop-color="#fda24a"/></linearGradient><linearGradient id="hs3" gradientUnits="userSpaceOnUse" x1="159.1" y1="0" x2="192.0" y2="0"><stop offset="0.0091" stop-color="#6ae7e3"/><stop offset="0.0509" stop-color="#6ae7e3"/><stop offset="0.0691" stop-color="#88ecba"/><stop offset="0.1209" stop-color="#88ecba"/><stop offset="0.1391" stop-color="#7cebc6"/><stop offset="0.2409" stop-color="#7cebc6"/><stop offset="0.2591" stop-color="#fcba56"/><stop offset="0.2909" stop-color="#fcba56"/><stop offset="0.3091" stop-color="#ffd1d1"/><stop offset="0.3509" stop-color="#ffd1d1"/><stop offset="0.3691" stop-color="#78ebcd"/><stop offset="0.4909" stop-color="#78ebcd"/><stop offset="0.5091" stop-color="#a1f2aa"/><stop offset="0.6309" stop-color="#a1f2aa"/><stop offset="0.6491" stop-color="#ebf078"/><stop offset="0.6909" stop-color="#ebf078"/><stop offset="0.7091" stop-color="#78ebcd"/><stop offset="0.7509" stop-color="#78ebcd"/><stop offset="0.7691" stop-color="#e3f380"/><stop offset="0.8109" stop-color="#e3f380"/><stop offset="0.8291" stop-color="#6ce9df"/><stop offset="0.8909" stop-color="#6ce9df"/><stop offset="0.9091" stop-color="#91eeb4"/><stop offset="0.9409" stop-color="#91eeb4"/><stop offset="0.9591" stop-color="#2800a0"/><stop offset="0.9909" stop-color="#2800a0"/></linearGradient><linearGradient id="hl4" gradientUnits="userSpaceOnUse" x1="208.4" y1="0" x2="784.5" y2="0"><stop offset="0.0000" stop-color="#fcbc57"/><stop offset="0.0102" stop-color="#fcbc57"/><stop offset="0.0124" stop-color="#f8d467"/><stop offset="0.0146" stop-color="#efe873"/><stop offset="0.0169" stop-color="#daf689"/><stop offset="0.0191" stop-color="#befa9e"/><stop offset="0.0213" stop-color="#a6f4a8"/><stop offset="0.0294" stop-color="#a6f4a8"/><stop offset="0.0323" stop-color="#c0fb9e"/><stop offset="0.0351" stop-color="#ddf586"/><stop offset="0.0380" stop-color="#f1e571"/><stop offset="0.0409" stop-color="#f9cf63"/><stop offset="0.0470" stop-color="#f9cf63"/><stop offset="0.0517" stop-color="#f0e672"/><stop offset="0.0564" stop-color="#d9f68a"/><stop offset="0.0685" stop-color="#d9f68a"/><stop offset="0.0814" stop-color="#b9f9a0"/><stop offset="0.0874" stop-color="#b9f9a0"/><stop offset="0.0989" stop-color="#d4f88e"/><stop offset="0.1070" stop-color="#d4f88e"/><stop offset="0.1217" stop-color="#c8fc9a"/><stop offset="0.1383" stop-color="#c8fc9a"/><stop offset="0.1436" stop-color="#e6f27d"/><stop offset="0.1489" stop-color="#f4e06e"/><stop offset="0.1549" stop-color="#f4e06e"/><stop offset="0.1610" stop-color="#e3f37f"/><stop offset="0.1671" stop-color="#c4fb9c"/><stop offset="0.1772" stop-color="#c4fb9c"/><stop offset="0.1880" stop-color="#d4f88e"/><stop offset="0.2002" stop-color="#d4f88e"/><stop offset="0.2116" stop-color="#e1f382"/><stop offset="0.2238" stop-color="#e1f382"/><stop offset="0.2274" stop-color="#f3e06e"/><stop offset="0.2311" stop-color="#fac65d"/><stop offset="0.2347" stop-color="#fda34a"/><stop offset="0.2384" stop-color="#f46f4c"/><stop offset="0.2420" stop-color="#f8585d"/><stop offset="0.2491" stop-color="#f8585d"/><stop offset="0.2505" stop-color="#f46c4d"/><stop offset="0.2519" stop-color="#fd9e47"/><stop offset="0.2532" stop-color="#fbc05a"/><stop offset="0.2546" stop-color="#f7da6b"/><stop offset="0.2560" stop-color="#ebef78"/><stop offset="0.2574" stop-color="#ccfa96"/><stop offset="0.2631" stop-color="#ccfa96"/><stop offset="0.2710" stop-color="#ddf586"/><stop offset="0.2791" stop-color="#ddf586"/><stop offset="0.2876" stop-color="#c4fb9c"/><stop offset="0.2896" stop-color="#c4fb9c"/><stop offset="0.3073" stop-color="#d9f68a"/><stop offset="0.3542" stop-color="#d9f68a"/><stop offset="0.3781" stop-color="#c1fb9d"/><stop offset="0.4315" stop-color="#c1fb9d"/><stop offset="0.4324" stop-color="#ccfa96"/><stop offset="0.4326" stop-color="#ccfa96"/><stop offset="0.4396" stop-color="#ddf586"/><stop offset="0.4497" stop-color="#ddf586"/><stop offset="0.4650" stop-color="#c4fb9c"/><stop offset="0.4951" stop-color="#c4fb9c"/><stop offset="0.5084" stop-color="#b9f9a0"/><stop offset="0.5226" stop-color="#b9f9a0"/><stop offset="0.5393" stop-color="#c4fb9c"/><stop offset="0.5896" stop-color="#c4fb9c"/><stop offset="0.6068" stop-color="#cafb98"/><stop offset="0.7516" stop-color="#cafb98"/><stop offset="0.7688" stop-color="#bffa9e"/><stop offset="0.9473" stop-color="#bffa9e"/><stop offset="0.9620" stop-color="#ccfa96"/><stop offset="0.9701" stop-color="#ccfa96"/><stop offset="0.9734" stop-color="#ecee77"/><stop offset="0.9768" stop-color="#f8d769"/><stop offset="0.9801" stop-color="#fcbc57"/><stop offset="0.9835" stop-color="#fb9247"/><stop offset="1.0004" stop-color="#fb9247"/></linearGradient><linearGradient id="hs4" gradientUnits="userSpaceOnUse" x1="159.1" y1="0" x2="192.0" y2="0"><stop offset="0.0091" stop-color="#cbfb97"/><stop offset="0.0509" stop-color="#cbfb97"/><stop offset="0.0691" stop-color="#f9ce63"/><stop offset="0.1209" stop-color="#f9ce63"/><stop offset="0.1391" stop-color="#e3f380"/><stop offset="0.2409" stop-color="#e3f380"/><stop offset="0.2591" stop-color="#fda84c"/><stop offset="0.2909" stop-color="#fda84c"/><stop offset="0.3091" stop-color="#ffdcdc"/><stop offset="0.3509" stop-color="#ffdcdc"/><stop offset="0.3691" stop-color="#dbf588"/><stop offset="0.4909" stop-color="#dbf588"/><stop offset="0.5091" stop-color="#78ebcd"/><stop offset="0.6309" stop-color="#78ebcd"/><stop offset="0.6491" stop-color="#6febda"/><stop offset="0.6909" stop-color="#6febda"/><stop offset="0.7091" stop-color="#7cebc6"/><stop offset="0.7509" stop-color="#7cebc6"/><stop offset="0.7691" stop-color="#74ebd4"/><stop offset="0.8109" stop-color="#74ebd4"/><stop offset="0.8291" stop-color="#1376f6"/><stop offset="0.8909" stop-color="#1376f6"/><stop offset="0.9091" stop-color="#1085fa"/><stop offset="0.9409" stop-color="#1085fa"/><stop offset="0.9591" stop-color="#2e009a"/><stop offset="0.9909" stop-color="#2e009a"/></linearGradient><linearGradient id="hl5" gradientUnits="userSpaceOnUse" x1="208.4" y1="0" x2="784.5" y2="0"><stop offset="0.0000" stop-color="#d0f992"/><stop offset="0.0064" stop-color="#d0f992"/><stop offset="0.0128" stop-color="#b8f9a1"/><stop offset="0.0193" stop-color="#a2f3aa"/><stop offset="0.0314" stop-color="#a2f3aa"/><stop offset="0.0370" stop-color="#befa9f"/><stop offset="0.0426" stop-color="#ddf586"/><stop offset="0.0486" stop-color="#ddf586"/><stop offset="0.0598" stop-color="#c1fb9d"/><stop offset="0.0719" stop-color="#c1fb9d"/><stop offset="0.0814" stop-color="#a6f4a8"/><stop offset="0.0874" stop-color="#a6f4a8"/><stop offset="0.1014" stop-color="#b9f9a0"/><stop offset="0.1315" stop-color="#b9f9a0"/><stop offset="0.1475" stop-color="#d9f68a"/><stop offset="0.1597" stop-color="#d9f68a"/><stop offset="0.1757" stop-color="#c4fb9c"/><stop offset="0.1923" stop-color="#c4fb9c"/><stop offset="0.2089" stop-color="#d0f992"/><stop offset="0.2231" stop-color="#d0f992"/><stop offset="0.2276" stop-color="#edec76"/><stop offset="0.2320" stop-color="#f8d668"/><stop offset="0.2365" stop-color="#fcbb56"/><stop offset="0.2410" stop-color="#fb9247"/><stop offset="0.2501" stop-color="#fb9247"/><stop offset="0.2523" stop-color="#fbbd58"/><stop offset="0.2545" stop-color="#f6da6b"/><stop offset="0.2567" stop-color="#e7f17b"/><stop offset="0.2589" stop-color="#c4fb9c"/><stop offset="0.2609" stop-color="#c4fb9c"/><stop offset="0.2904" stop-color="#bdfa9f"/><stop offset="0.4315" stop-color="#bdfa9f"/><stop offset="0.4324" stop-color="#c4fb9c"/><stop offset="0.4328" stop-color="#c4fb9c"/><stop offset="0.4423" stop-color="#d0f992"/><stop offset="0.4504" stop-color="#d0f992"/><stop offset="0.4650" stop-color="#c4fb9c"/><stop offset="0.6166" stop-color="#c4fb9c"/><stop offset="0.6338" stop-color="#c1fb9d"/><stop offset="0.7516" stop-color="#c1fb9d"/><stop offset="0.7789" stop-color="#b2f8a3"/><stop offset="0.9406" stop-color="#b2f8a3"/><stop offset="0.9559" stop-color="#c1fb9d"/><stop offset="0.9660" stop-color="#c1fb9d"/><stop offset="0.9710" stop-color="#def485"/><stop offset="0.9760" stop-color="#f1e571"/><stop offset="0.9810" stop-color="#f9cf63"/><stop offset="1.0004" stop-color="#f9cf63"/></linearGradient><linearGradient id="hs5" gradientUnits="userSpaceOnUse" x1="159.1" y1="0" x2="192.0" y2="0"><stop offset="0.0091" stop-color="#c4fb9c"/><stop offset="0.0509" stop-color="#c4fb9c"/><stop offset="0.0691" stop-color="#d3f88f"/><stop offset="0.1209" stop-color="#d3f88f"/><stop offset="0.1391" stop-color="#dbf588"/><stop offset="0.2409" stop-color="#dbf588"/><stop offset="0.2591" stop-color="#fbc15a"/><stop offset="0.2909" stop-color="#fbc15a"/><stop offset="0.3091" stop-color="#fc9a98"/><stop offset="0.3509" stop-color="#fc9a98"/><stop offset="0.3691" stop-color="#e3f380"/><stop offset="0.4909" stop-color="#e3f380"/><stop offset="0.5091" stop-color="#78ebcd"/><stop offset="0.6309" stop-color="#78ebcd"/><stop offset="0.6491" stop-color="#6ce9df"/><stop offset="0.6909" stop-color="#6ce9df"/><stop offset="0.7091" stop-color="#78ebcd"/><stop offset="0.7509" stop-color="#78ebcd"/><stop offset="0.7691" stop-color="#74ebd4"/><stop offset="0.8109" stop-color="#74ebd4"/><stop offset="0.8291" stop-color="#6ce9df"/><stop offset="0.8909" stop-color="#6ce9df"/><stop offset="0.9091" stop-color="#52d3f7"/><stop offset="0.9409" stop-color="#52d3f7"/><stop offset="0.9591" stop-color="#062fe0"/><stop offset="0.9909" stop-color="#062fe0"/></linearGradient><linearGradient id="hl6" gradientUnits="userSpaceOnUse" x1="208.4" y1="0" x2="784.5" y2="0"><stop offset="0.0000" stop-color="#c4fb9c"/><stop offset="0.0038" stop-color="#c4fb9c"/><stop offset="0.0071" stop-color="#adf6a5"/><stop offset="0.0104" stop-color="#93efb3"/><stop offset="0.0137" stop-color="#7bebc8"/><stop offset="0.0303" stop-color="#7bebc8"/><stop offset="0.0343" stop-color="#96efb1"/><stop offset="0.0382" stop-color="#b2f8a3"/><stop offset="0.0422" stop-color="#ccfa96"/><stop offset="0.0473" stop-color="#ccfa96"/><stop offset="0.0541" stop-color="#b9f9a0"/><stop offset="0.0609" stop-color="#a6f4a8"/><stop offset="0.0775" stop-color="#a6f4a8"/><stop offset="0.0908" stop-color="#94efb2"/><stop offset="0.1050" stop-color="#94efb2"/><stop offset="0.1133" stop-color="#a8f5a7"/><stop offset="0.1217" stop-color="#b9f9a0"/><stop offset="0.1383" stop-color="#b9f9a0"/><stop offset="0.1536" stop-color="#d9f68a"/><stop offset="0.1637" stop-color="#d9f68a"/><stop offset="0.1790" stop-color="#c4fb9c"/><stop offset="0.2192" stop-color="#c4fb9c"/><stop offset="0.2240" stop-color="#dff484"/><stop offset="0.2288" stop-color="#f0e672"/><stop offset="0.2335" stop-color="#f9d266"/><stop offset="0.2383" stop-color="#fcbc57"/><stop offset="0.2494" stop-color="#fcbc57"/><stop offset="0.2529" stop-color="#f8d668"/><stop offset="0.2564" stop-color="#edec75"/><stop offset="0.2599" stop-color="#d2f890"/><stop offset="0.2634" stop-color="#b6f9a2"/><stop offset="0.4315" stop-color="#b6f9a2"/><stop offset="0.4324" stop-color="#aef7a5"/><stop offset="0.4326" stop-color="#aef7a5"/><stop offset="0.4414" stop-color="#b6f9a2"/><stop offset="0.4614" stop-color="#b6f9a2"/><stop offset="0.4752" stop-color="#c1fb9d"/><stop offset="0.5086" stop-color="#c1fb9d"/><stop offset="0.5258" stop-color="#c4fb9c"/><stop offset="0.6166" stop-color="#c4fb9c"/><stop offset="0.6338" stop-color="#b9f9a0"/><stop offset="0.6504" stop-color="#b9f9a0"/><stop offset="0.6675" stop-color="#bdfa9f"/><stop offset="0.7516" stop-color="#bdfa9f"/><stop offset="0.7688" stop-color="#b2f8a3"/><stop offset="0.8360" stop-color="#b2f8a3"/><stop offset="0.8498" stop-color="#a6f4a8"/><stop offset="0.9406" stop-color="#a6f4a8"/><stop offset="0.9566" stop-color="#c1fb9d"/><stop offset="0.9687" stop-color="#c1fb9d"/><stop offset="0.9835" stop-color="#e1f382"/><stop offset="1.0004" stop-color="#e1f382"/></linearGradient><linearGradient id="hs6" gradientUnits="userSpaceOnUse" x1="159.1" y1="0" x2="192.0" y2="0"><stop offset="0.0091" stop-color="#9af0ae"/><stop offset="0.0509" stop-color="#9af0ae"/><stop offset="0.0691" stop-color="#a8f5a7"/><stop offset="0.1209" stop-color="#a8f5a7"/><stop offset="0.1391" stop-color="#a1f2aa"/><stop offset="0.2409" stop-color="#a1f2aa"/><stop offset="0.2591" stop-color="#fac75f"/><stop offset="0.2909" stop-color="#fac75f"/><stop offset="0.3091" stop-color="#e3f380"/><stop offset="0.3509" stop-color="#e3f380"/><stop offset="0.3691" stop-color="#88ecba"/><stop offset="0.4909" stop-color="#88ecba"/><stop offset="0.5091" stop-color="#66e3ec"/><stop offset="0.6309" stop-color="#66e3ec"/><stop offset="0.6491" stop-color="#74ebd4"/><stop offset="0.6909" stop-color="#74ebd4"/><stop offset="0.7091" stop-color="#63e0f0"/><stop offset="0.7509" stop-color="#63e0f0"/><stop offset="0.7691" stop-color="#6ce9df"/><stop offset="0.8109" stop-color="#6ce9df"/><stop offset="0.8291" stop-color="#7cebc6"/><stop offset="0.8909" stop-color="#7cebc6"/><stop offset="0.9091" stop-color="#fff2f2"/><stop offset="0.9409" stop-color="#fff2f2"/><stop offset="0.9591" stop-color="#001ad9"/><stop offset="0.9909" stop-color="#001ad9"/></linearGradient><linearGradient id="hl7" gradientUnits="userSpaceOnUse" x1="208.4" y1="0" x2="784.5" y2="0"><stop offset="0.0000" stop-color="#75ebd1"/><stop offset="0.0266" stop-color="#75ebd1"/><stop offset="0.0353" stop-color="#83ebbd"/><stop offset="0.0441" stop-color="#9ef1ac"/><stop offset="0.0775" stop-color="#9ef1ac"/><stop offset="0.0913" stop-color="#8feeb6"/><stop offset="0.1315" stop-color="#8feeb6"/><stop offset="0.1401" stop-color="#abf6a6"/><stop offset="0.1487" stop-color="#c4fb9c"/><stop offset="0.1788" stop-color="#c4fb9c"/><stop offset="0.1925" stop-color="#d0f992"/><stop offset="0.2243" stop-color="#d0f992"/><stop offset="0.2266" stop-color="#eeea75"/><stop offset="0.2290" stop-color="#f9d265"/><stop offset="0.2313" stop-color="#fcb352"/><stop offset="0.2336" stop-color="#f88249"/><stop offset="0.2360" stop-color="#f15156"/><stop offset="0.2383" stop-color="#ff6e71"/><stop offset="0.2494" stop-color="#ff6e71"/><stop offset="0.2519" stop-color="#f25257"/><stop offset="0.2543" stop-color="#f77c4a"/><stop offset="0.2568" stop-color="#fcac4e"/><stop offset="0.2593" stop-color="#facb61"/><stop offset="0.2617" stop-color="#f2e370"/><stop offset="0.3070" stop-color="#f2e370"/><stop offset="0.3156" stop-color="#f8d668"/><stop offset="0.3242" stop-color="#fac55d"/><stop offset="0.3475" stop-color="#fac55d"/><stop offset="0.3561" stop-color="#f8d668"/><stop offset="0.3646" stop-color="#f2e370"/><stop offset="0.4315" stop-color="#f2e370"/><stop offset="0.4324" stop-color="#f0e773"/><stop offset="0.4355" stop-color="#f0e773"/><stop offset="0.4482" stop-color="#d4f88e"/><stop offset="0.4884" stop-color="#d4f88e"/><stop offset="0.4961" stop-color="#c2fb9d"/><stop offset="0.5039" stop-color="#b2f8a3"/><stop offset="0.6166" stop-color="#b2f8a3"/><stop offset="0.6338" stop-color="#aef7a5"/><stop offset="0.6504" stop-color="#aef7a5"/><stop offset="0.6675" stop-color="#b9f9a0"/><stop offset="0.7853" stop-color="#b9f9a0"/><stop offset="0.8126" stop-color="#aef7a5"/><stop offset="0.8393" stop-color="#aef7a5"/><stop offset="0.8531" stop-color="#a2f3aa"/><stop offset="0.9406" stop-color="#a2f3aa"/><stop offset="0.9566" stop-color="#bdfa9f"/><stop offset="0.9687" stop-color="#bdfa9f"/><stop offset="0.9761" stop-color="#cefa94"/><stop offset="0.9835" stop-color="#e1f382"/><stop offset="1.0004" stop-color="#e1f382"/></linearGradient><linearGradient id="hs7" gradientUnits="userSpaceOnUse" x1="159.1" y1="0" x2="192.0" y2="0"><stop offset="0.0091" stop-color="#66e3ec"/><stop offset="0.0509" stop-color="#66e3ec"/><stop offset="0.0691" stop-color="#63e0f0"/><stop offset="0.1209" stop-color="#63e0f0"/><stop offset="0.1391" stop-color="#5adaf4"/><stop offset="0.2409" stop-color="#5adaf4"/><stop offset="0.2591" stop-color="#52d3f7"/><stop offset="0.2909" stop-color="#52d3f7"/><stop offset="0.3091" stop-color="#63e0f0"/><stop offset="0.3509" stop-color="#63e0f0"/><stop offset="0.3691" stop-color="#40c6fd"/><stop offset="0.4909" stop-color="#40c6fd"/><stop offset="0.5091" stop-color="#5adaf4"/><stop offset="0.6309" stop-color="#5adaf4"/><stop offset="0.6491" stop-color="#32beff"/><stop offset="0.6909" stop-color="#32beff"/><stop offset="0.7091" stop-color="#5adaf4"/><stop offset="0.7509" stop-color="#5adaf4"/><stop offset="0.7691" stop-color="#63e0f0"/><stop offset="0.8109" stop-color="#63e0f0"/><stop offset="0.8291" stop-color="#52d3f7"/><stop offset="0.8909" stop-color="#52d3f7"/><stop offset="0.9091" stop-color="#32beff"/><stop offset="0.9409" stop-color="#32beff"/><stop offset="0.9591" stop-color="#1376f6"/><stop offset="0.9909" stop-color="#1376f6"/></linearGradient><linearGradient id="hl8" gradientUnits="userSpaceOnUse" x1="208.4" y1="0" x2="784.5" y2="0"><stop offset="0.0000" stop-color="#40c6fd"/><stop offset="0.0051" stop-color="#40c6fd"/><stop offset="0.0094" stop-color="#60def1"/><stop offset="0.0137" stop-color="#6be8e2"/><stop offset="0.1113" stop-color="#6be8e2"/><stop offset="0.1232" stop-color="#5adaf4"/><stop offset="0.1333" stop-color="#5adaf4"/><stop offset="0.1373" stop-color="#69e6e6"/><stop offset="0.1413" stop-color="#73ebd5"/><stop offset="0.1453" stop-color="#82ebbe"/><stop offset="0.1720" stop-color="#82ebbe"/><stop offset="0.1764" stop-color="#9df1ac"/><stop offset="0.1809" stop-color="#b3f8a3"/><stop offset="0.1853" stop-color="#c8fc9a"/><stop offset="0.1894" stop-color="#c8fc9a"/><stop offset="0.2015" stop-color="#e1f382"/><stop offset="0.2137" stop-color="#e1f382"/><stop offset="0.2182" stop-color="#f2e370"/><stop offset="0.2228" stop-color="#f9cf63"/><stop offset="0.2278" stop-color="#f9cf63"/><stop offset="0.2297" stop-color="#fcb252"/><stop offset="0.2316" stop-color="#f98649"/><stop offset="0.2334" stop-color="#f15554"/><stop offset="0.2347" stop-color="#ff6267"/><stop offset="0.2361" stop-color="#ff8788"/><stop offset="0.2374" stop-color="#faa5a2"/><stop offset="0.2387" stop-color="#fcbdba"/><stop offset="0.2400" stop-color="#ffd1d1"/><stop offset="0.2497" stop-color="#ffd1d1"/><stop offset="0.2514" stop-color="#fcbdbb"/><stop offset="0.2530" stop-color="#faa6a2"/><stop offset="0.2547" stop-color="#ff8989"/><stop offset="0.2563" stop-color="#ff6468"/><stop offset="0.2589" stop-color="#f15454"/><stop offset="0.2615" stop-color="#f88449"/><stop offset="0.2641" stop-color="#fcb050"/><stop offset="0.3070" stop-color="#fcb050"/><stop offset="0.3133" stop-color="#fb9147"/><stop offset="0.3196" stop-color="#f46c4d"/><stop offset="0.3318" stop-color="#f46c4d"/><stop offset="0.3398" stop-color="#fd9a46"/><stop offset="0.3478" stop-color="#fcbc57"/><stop offset="0.3812" stop-color="#fcbc57"/><stop offset="0.3898" stop-color="#f9cf63"/><stop offset="0.3984" stop-color="#f4e06e"/><stop offset="0.4315" stop-color="#f4e06e"/><stop offset="0.4324" stop-color="#f0e773"/><stop offset="0.4479" stop-color="#f0e773"/><stop offset="0.4548" stop-color="#e4f27f"/><stop offset="0.4617" stop-color="#d0f992"/><stop offset="0.4884" stop-color="#d0f992"/><stop offset="0.4970" stop-color="#bafaa0"/><stop offset="0.5055" stop-color="#a6f4a8"/><stop offset="0.5964" stop-color="#a6f4a8"/><stop offset="0.6135" stop-color="#aaf5a7"/><stop offset="0.6504" stop-color="#aaf5a7"/><stop offset="0.6675" stop-color="#b6f9a2"/><stop offset="0.7853" stop-color="#b6f9a2"/><stop offset="0.8126" stop-color="#a2f3aa"/><stop offset="0.9136" stop-color="#a2f3aa"/><stop offset="0.9274" stop-color="#99f0af"/><stop offset="0.9574" stop-color="#99f0af"/><stop offset="0.9631" stop-color="#aaf5a7"/><stop offset="0.9687" stop-color="#b9f9a0"/><stop offset="0.9768" stop-color="#b9f9a0"/><stop offset="0.9827" stop-color="#cafb98"/><stop offset="0.9886" stop-color="#ddf586"/><stop offset="1.0004" stop-color="#ddf586"/></linearGradient><linearGradient id="hs8" gradientUnits="userSpaceOnUse" x1="159.1" y1="0" x2="192.0" y2="0"><stop offset="0.0091" stop-color="#1aa5fe"/><stop offset="0.0509" stop-color="#1aa5fe"/><stop offset="0.0691" stop-color="#1085fa"/><stop offset="0.1209" stop-color="#1085fa"/><stop offset="0.1391" stop-color="#1376f6"/><stop offset="0.2409" stop-color="#1376f6"/><stop offset="0.2591" stop-color="#175eee"/><stop offset="0.2909" stop-color="#175eee"/><stop offset="0.3091" stop-color="#1b01ad"/><stop offset="0.3509" stop-color="#1b01ad"/><stop offset="0.3691" stop-color="#32beff"/><stop offset="0.4909" stop-color="#32beff"/><stop offset="0.5091" stop-color="#40c6fd"/><stop offset="0.6309" stop-color="#40c6fd"/><stop offset="0.6491" stop-color="#1376f6"/><stop offset="0.6909" stop-color="#1376f6"/><stop offset="0.7091" stop-color="#32beff"/><stop offset="0.7509" stop-color="#32beff"/><stop offset="0.7691" stop-color="#40c6fd"/><stop offset="0.8109" stop-color="#40c6fd"/><stop offset="0.8291" stop-color="#1aa5fe"/><stop offset="0.8909" stop-color="#1aa5fe"/><stop offset="0.9091" stop-color="#1769f2"/><stop offset="0.9409" stop-color="#1769f2"/><stop offset="0.9591" stop-color="#1376f6"/><stop offset="0.9909" stop-color="#1376f6"/></linearGradient><linearGradient id="hl9" gradientUnits="userSpaceOnUse" x1="208.4" y1="0" x2="784.5" y2="0"><stop offset="0.0000" stop-color="#1595fc"/><stop offset="0.0114" stop-color="#1595fc"/><stop offset="0.0168" stop-color="#22b6ff"/><stop offset="0.0221" stop-color="#32beff"/><stop offset="0.0505" stop-color="#32beff"/><stop offset="0.0591" stop-color="#51d3f7"/><stop offset="0.0677" stop-color="#68e5e8"/><stop offset="0.1281" stop-color="#68e5e8"/><stop offset="0.1327" stop-color="#74ebd4"/><stop offset="0.1373" stop-color="#89edb9"/><stop offset="0.1419" stop-color="#aaf5a7"/><stop offset="0.1720" stop-color="#aaf5a7"/><stop offset="0.1797" stop-color="#bbfaa0"/><stop offset="0.1873" stop-color="#ccfa96"/><stop offset="0.1975" stop-color="#ccfa96"/><stop offset="0.2022" stop-color="#e6f27d"/><stop offset="0.2069" stop-color="#f2e26f"/><stop offset="0.2116" stop-color="#f9cf63"/><stop offset="0.2238" stop-color="#f9cf63"/><stop offset="0.2264" stop-color="#fcb252"/><stop offset="0.2291" stop-color="#f98649"/><stop offset="0.2317" stop-color="#f15554"/><stop offset="0.2327" stop-color="#ff6267"/><stop offset="0.2336" stop-color="#ff8889"/><stop offset="0.2346" stop-color="#faa6a3"/><stop offset="0.2355" stop-color="#fcbebc"/><stop offset="0.2364" stop-color="#ffd3d3"/><stop offset="0.2374" stop-color="#ffe8e8"/><stop offset="0.2383" stop-color="#fffdfd"/><stop offset="0.2481" stop-color="#fffdfd"/><stop offset="0.2492" stop-color="#ffe8e8"/><stop offset="0.2503" stop-color="#ffd3d3"/><stop offset="0.2514" stop-color="#fcbebc"/><stop offset="0.2525" stop-color="#faa7a3"/><stop offset="0.2536" stop-color="#ff898a"/><stop offset="0.2547" stop-color="#ff6468"/><stop offset="0.2614" stop-color="#f8585d"/><stop offset="0.2742" stop-color="#f8585d"/><stop offset="0.2797" stop-color="#f25a52"/><stop offset="0.2852" stop-color="#f6784a"/><stop offset="0.2953" stop-color="#f6784a"/><stop offset="0.3013" stop-color="#f25a52"/><stop offset="0.3073" stop-color="#f8585d"/><stop offset="0.3576" stop-color="#f8585d"/><stop offset="0.3639" stop-color="#f3664f"/><stop offset="0.3702" stop-color="#fb9247"/><stop offset="0.3824" stop-color="#fb9247"/><stop offset="0.3904" stop-color="#fcb754"/><stop offset="0.3984" stop-color="#f9cf63"/><stop offset="0.4315" stop-color="#f9cf63"/><stop offset="0.4324" stop-color="#f8d869"/><stop offset="0.4479" stop-color="#f8d869"/><stop offset="0.4548" stop-color="#eeea74"/><stop offset="0.4617" stop-color="#d9f68a"/><stop offset="0.4884" stop-color="#d9f68a"/><stop offset="0.4970" stop-color="#c6fc9b"/><stop offset="0.5055" stop-color="#b6f9a2"/><stop offset="0.5964" stop-color="#b6f9a2"/><stop offset="0.6135" stop-color="#b9f9a0"/><stop offset="0.7853" stop-color="#b9f9a0"/><stop offset="0.8126" stop-color="#b2f8a3"/><stop offset="0.9541" stop-color="#b2f8a3"/><stop offset="0.9648" stop-color="#c7fc9b"/><stop offset="0.9755" stop-color="#e1f382"/><stop offset="0.9836" stop-color="#e1f382"/><stop offset="0.9859" stop-color="#f2e370"/><stop offset="0.9882" stop-color="#f9cf63"/><stop offset="0.9905" stop-color="#fcb754"/><stop offset="0.9929" stop-color="#fb9247"/><stop offset="1.0004" stop-color="#fb9247"/></linearGradient><linearGradient id="hs9" gradientUnits="userSpaceOnUse" x1="159.1" y1="0" x2="192.0" y2="0"><stop offset="0.0091" stop-color="#40c6fd"/><stop offset="0.0509" stop-color="#40c6fd"/><stop offset="0.0691" stop-color="#32beff"/><stop offset="0.1209" stop-color="#32beff"/><stop offset="0.1391" stop-color="#1aa5fe"/><stop offset="0.2409" stop-color="#1aa5fe"/><stop offset="0.2591" stop-color="#1376f6"/><stop offset="0.2909" stop-color="#1376f6"/><stop offset="0.3091" stop-color="#2800a0"/><stop offset="0.3509" stop-color="#2800a0"/><stop offset="0.3691" stop-color="#40c6fd"/><stop offset="0.4909" stop-color="#40c6fd"/><stop offset="0.5091" stop-color="#49cdfa"/><stop offset="0.6309" stop-color="#49cdfa"/><stop offset="0.6491" stop-color="#1aa5fe"/><stop offset="0.6909" stop-color="#1aa5fe"/><stop offset="0.7091" stop-color="#40c6fd"/><stop offset="0.7509" stop-color="#40c6fd"/><stop offset="0.7691" stop-color="#32beff"/><stop offset="0.8109" stop-color="#32beff"/><stop offset="0.8291" stop-color="#40c6fd"/><stop offset="0.8909" stop-color="#40c6fd"/><stop offset="0.9091" stop-color="#1376f6"/><stop offset="0.9409" stop-color="#1376f6"/><stop offset="0.9591" stop-color="#25b8ff"/><stop offset="0.9909" stop-color="#25b8ff"/></linearGradient><linearGradient id="hl10" gradientUnits="userSpaceOnUse" x1="208.4" y1="0" x2="784.5" y2="0"><stop offset="0.0000" stop-color="#0105c7"/><stop offset="0.0114" stop-color="#0105c7"/><stop offset="0.0137" stop-color="#001ad9"/><stop offset="0.0159" stop-color="#114ce8"/><stop offset="0.0182" stop-color="#1376f6"/><stop offset="0.0204" stop-color="#1aa5fe"/><stop offset="0.0227" stop-color="#32beff"/><stop offset="0.0348" stop-color="#32beff"/><stop offset="0.0384" stop-color="#1db0ff"/><stop offset="0.0420" stop-color="#107ff9"/><stop offset="0.0456" stop-color="#1769f2"/><stop offset="0.0557" stop-color="#1769f2"/><stop offset="0.0597" stop-color="#0f81fa"/><stop offset="0.0637" stop-color="#21b5ff"/><stop offset="0.0677" stop-color="#39c1ff"/><stop offset="0.0910" stop-color="#39c1ff"/><stop offset="0.0956" stop-color="#58d8f4"/><stop offset="0.1002" stop-color="#69e6e5"/><stop offset="0.1048" stop-color="#75ebd1"/><stop offset="0.1248" stop-color="#75ebd1"/><stop offset="0.1294" stop-color="#86ecbc"/><stop offset="0.1340" stop-color="#a2f3aa"/><stop offset="0.1385" stop-color="#b9f9a0"/><stop offset="0.1619" stop-color="#b9f9a0"/><stop offset="0.1752" stop-color="#d9f68a"/><stop offset="0.1894" stop-color="#d9f68a"/><stop offset="0.1934" stop-color="#f0e672"/><stop offset="0.1975" stop-color="#f9cf64"/><stop offset="0.2015" stop-color="#fcb251"/><stop offset="0.2056" stop-color="#f98549"/><stop offset="0.2197" stop-color="#f98549"/><stop offset="0.2284" stop-color="#f15554"/><stop offset="0.2293" stop-color="#ff6468"/><stop offset="0.2302" stop-color="#ff8b8b"/><stop offset="0.2312" stop-color="#f9aaa5"/><stop offset="0.2321" stop-color="#fdc1c0"/><stop offset="0.2331" stop-color="#ffd7d7"/><stop offset="0.2340" stop-color="#ffecec"/><stop offset="0.2349" stop-color="#ffffff"/><stop offset="0.2481" stop-color="#ffffff"/><stop offset="0.2492" stop-color="#ffecec"/><stop offset="0.2503" stop-color="#ffd7d7"/><stop offset="0.2514" stop-color="#fdc1c0"/><stop offset="0.2525" stop-color="#f9aaa5"/><stop offset="0.2536" stop-color="#ff8b8b"/><stop offset="0.2547" stop-color="#ff6468"/><stop offset="0.2577" stop-color="#ff8687"/><stop offset="0.2608" stop-color="#fba29f"/><stop offset="0.2715" stop-color="#fba29f"/><stop offset="0.2776" stop-color="#ff7c7e"/><stop offset="0.2837" stop-color="#f8585d"/><stop offset="0.3002" stop-color="#f8585d"/><stop offset="0.3069" stop-color="#ff6e71"/><stop offset="0.3135" stop-color="#ff8b8b"/><stop offset="0.3277" stop-color="#ff8b8b"/><stop offset="0.3344" stop-color="#ff6e71"/><stop offset="0.3410" stop-color="#f8585d"/><stop offset="0.3677" stop-color="#f8585d"/><stop offset="0.3737" stop-color="#f25a52"/><stop offset="0.3797" stop-color="#f6784a"/><stop offset="0.3898" stop-color="#f6784a"/><stop offset="0.3975" stop-color="#fc9746"/><stop offset="0.4051" stop-color="#fcb050"/><stop offset="0.4315" stop-color="#fcb050"/><stop offset="0.4324" stop-color="#fcbc57"/><stop offset="0.4479" stop-color="#fcbc57"/><stop offset="0.4525" stop-color="#f9d266"/><stop offset="0.4571" stop-color="#f1e571"/><stop offset="0.4617" stop-color="#e1f382"/><stop offset="0.4884" stop-color="#e1f382"/><stop offset="0.5003" stop-color="#d0f992"/><stop offset="0.5105" stop-color="#d0f992"/><stop offset="0.5258" stop-color="#c4fb9c"/><stop offset="0.6504" stop-color="#c4fb9c"/><stop offset="0.6675" stop-color="#cefa94"/><stop offset="0.7516" stop-color="#cefa94"/><stop offset="0.7688" stop-color="#c4fb9c"/><stop offset="0.9541" stop-color="#c4fb9c"/><stop offset="0.9687" stop-color="#e1f382"/><stop offset="0.9768" stop-color="#e1f382"/><stop offset="0.9793" stop-color="#f2e270"/><stop offset="0.9818" stop-color="#facc61"/><stop offset="0.9843" stop-color="#fcb050"/><stop offset="0.9883" stop-color="#fcb050"/><stop offset="0.9912" stop-color="#f77e4a"/><stop offset="0.9941" stop-color="#f35358"/><stop offset="1.0004" stop-color="#f35358"/></linearGradient><linearGradient id="hs10" gradientUnits="userSpaceOnUse" x1="159.1" y1="0" x2="192.0" y2="0"><stop offset="0.0091" stop-color="#74ebd4"/><stop offset="0.0509" stop-color="#74ebd4"/><stop offset="0.0691" stop-color="#40c6fd"/><stop offset="0.1209" stop-color="#40c6fd"/><stop offset="0.1391" stop-color="#1aa5fe"/><stop offset="0.2409" stop-color="#1aa5fe"/><stop offset="0.2591" stop-color="#1769f2"/><stop offset="0.2909" stop-color="#1769f2"/><stop offset="0.3091" stop-color="#2e009a"/><stop offset="0.3509" stop-color="#2e009a"/><stop offset="0.3691" stop-color="#25b8ff"/><stop offset="0.4909" stop-color="#25b8ff"/><stop offset="0.5091" stop-color="#40c6fd"/><stop offset="0.6309" stop-color="#40c6fd"/><stop offset="0.6491" stop-color="#25b8ff"/><stop offset="0.6909" stop-color="#25b8ff"/><stop offset="0.7091" stop-color="#1376f6"/><stop offset="0.7509" stop-color="#1376f6"/><stop offset="0.7691" stop-color="#25b8ff"/><stop offset="0.8109" stop-color="#25b8ff"/><stop offset="0.8291" stop-color="#40c6fd"/><stop offset="0.8909" stop-color="#40c6fd"/><stop offset="0.9091" stop-color="#114ce8"/><stop offset="0.9409" stop-color="#114ce8"/><stop offset="0.9591" stop-color="#74ebd4"/><stop offset="0.9909" stop-color="#74ebd4"/></linearGradient><linearGradient id="hl11" gradientUnits="userSpaceOnUse" x1="208.4" y1="0" x2="784.5" y2="0"><stop offset="0.0000" stop-color="#0704c1"/><stop offset="0.0140" stop-color="#0704c1"/><stop offset="0.0161" stop-color="#0016d5"/><stop offset="0.0183" stop-color="#0e42e5"/><stop offset="0.0204" stop-color="#1473f5"/><stop offset="0.0225" stop-color="#19a2fd"/><stop offset="0.0247" stop-color="#32beff"/><stop offset="0.0328" stop-color="#32beff"/><stop offset="0.0368" stop-color="#1aa5fe"/><stop offset="0.0409" stop-color="#1376f6"/><stop offset="0.0470" stop-color="#1376f6"/><stop offset="0.0523" stop-color="#1caefe"/><stop offset="0.0576" stop-color="#39c1ff"/><stop offset="0.0775" stop-color="#39c1ff"/><stop offset="0.0832" stop-color="#54d5f6"/><stop offset="0.0890" stop-color="#67e4ea"/><stop offset="0.0947" stop-color="#6febdb"/><stop offset="0.1113" stop-color="#6febdb"/><stop offset="0.1159" stop-color="#7eebc4"/><stop offset="0.1205" stop-color="#98f0af"/><stop offset="0.1251" stop-color="#b2f8a3"/><stop offset="0.1416" stop-color="#b2f8a3"/><stop offset="0.1554" stop-color="#ccfa96"/><stop offset="0.1906" stop-color="#ccfa96"/><stop offset="0.1943" stop-color="#ebf078"/><stop offset="0.1981" stop-color="#f6db6b"/><stop offset="0.2018" stop-color="#fbc35b"/><stop offset="0.2056" stop-color="#fda24a"/><stop offset="0.2197" stop-color="#fda24a"/><stop offset="0.2240" stop-color="#f77b4a"/><stop offset="0.2284" stop-color="#f15554"/><stop offset="0.2293" stop-color="#ff6468"/><stop offset="0.2302" stop-color="#ff8b8b"/><stop offset="0.2312" stop-color="#f9aaa5"/><stop offset="0.2321" stop-color="#fdc1c0"/><stop offset="0.2331" stop-color="#ffd7d7"/><stop offset="0.2340" stop-color="#ffecec"/><stop offset="0.2349" stop-color="#ffffff"/><stop offset="0.2481" stop-color="#ffffff"/><stop offset="0.2492" stop-color="#ffecec"/><stop offset="0.2503" stop-color="#ffd7d7"/><stop offset="0.2514" stop-color="#fdc1c0"/><stop offset="0.2525" stop-color="#f9aaa5"/><stop offset="0.2536" stop-color="#ff8b8b"/><stop offset="0.2547" stop-color="#ff6468"/><stop offset="0.2614" stop-color="#ff6e71"/><stop offset="0.2742" stop-color="#ff6e71"/><stop offset="0.2865" stop-color="#f35358"/><stop offset="0.3007" stop-color="#f35358"/><stop offset="0.3071" stop-color="#ff6468"/><stop offset="0.3135" stop-color="#ff8182"/><stop offset="0.3277" stop-color="#ff8182"/><stop offset="0.3344" stop-color="#ff696d"/><stop offset="0.3410" stop-color="#f8585d"/><stop offset="0.3677" stop-color="#f8585d"/><stop offset="0.3737" stop-color="#f25a52"/><stop offset="0.3797" stop-color="#f6784a"/><stop offset="0.3898" stop-color="#f6784a"/><stop offset="0.3975" stop-color="#fc9746"/><stop offset="0.4051" stop-color="#fcb050"/><stop offset="0.4315" stop-color="#fcb050"/><stop offset="0.4324" stop-color="#fac55d"/><stop offset="0.4479" stop-color="#fac55d"/><stop offset="0.4548" stop-color="#f4e06e"/><stop offset="0.4617" stop-color="#e1f382"/><stop offset="0.4884" stop-color="#e1f382"/><stop offset="0.5003" stop-color="#ccfa96"/><stop offset="0.5105" stop-color="#ccfa96"/><stop offset="0.5258" stop-color="#c4fb9c"/><stop offset="0.6504" stop-color="#c4fb9c"/><stop offset="0.6675" stop-color="#cefa94"/><stop offset="0.7516" stop-color="#cefa94"/><stop offset="0.7688" stop-color="#c4fb9c"/><stop offset="0.9541" stop-color="#c4fb9c"/><stop offset="0.9687" stop-color="#e1f382"/><stop offset="0.9768" stop-color="#e1f382"/><stop offset="0.9793" stop-color="#f2e270"/><stop offset="0.9818" stop-color="#facc61"/><stop offset="0.9843" stop-color="#fcb050"/><stop offset="0.9883" stop-color="#fcb050"/><stop offset="0.9912" stop-color="#f77e4a"/><stop offset="0.9941" stop-color="#f35358"/><stop offset="1.0004" stop-color="#f35358"/></linearGradient><linearGradient id="hs11" gradientUnits="userSpaceOnUse" x1="159.1" y1="0" x2="192.0" y2="0"><stop offset="0.0091" stop-color="#6ce9df"/><stop offset="0.0509" stop-color="#6ce9df"/><stop offset="0.0691" stop-color="#40c6fd"/><stop offset="0.1209" stop-color="#40c6fd"/><stop offset="0.1391" stop-color="#1085fa"/><stop offset="0.2409" stop-color="#1085fa"/><stop offset="0.2591" stop-color="#114ce8"/><stop offset="0.2909" stop-color="#114ce8"/><stop offset="0.3091" stop-color="#2e009a"/><stop offset="0.3509" stop-color="#2e009a"/><stop offset="0.3691" stop-color="#1376f6"/><stop offset="0.4909" stop-color="#1376f6"/><stop offset="0.5091" stop-color="#32beff"/><stop offset="0.6309" stop-color="#32beff"/><stop offset="0.6491" stop-color="#1aa5fe"/><stop offset="0.6909" stop-color="#1aa5fe"/><stop offset="0.7091" stop-color="#0105c7"/><stop offset="0.7509" stop-color="#0105c7"/><stop offset="0.7691" stop-color="#25b8ff"/><stop offset="0.8109" stop-color="#25b8ff"/><stop offset="0.8291" stop-color="#40c6fd"/><stop offset="0.8909" stop-color="#40c6fd"/><stop offset="0.9091" stop-color="#000fd0"/><stop offset="0.9409" stop-color="#000fd0"/><stop offset="0.9591" stop-color="#40c6fd"/><stop offset="0.9909" stop-color="#40c6fd"/></linearGradient><linearGradient id="hl12" gradientUnits="userSpaceOnUse" x1="208.4" y1="0" x2="784.5" y2="0"><stop offset="0.0000" stop-color="#0704c1"/><stop offset="0.0140" stop-color="#0704c1"/><stop offset="0.0160" stop-color="#0015d5"/><stop offset="0.0180" stop-color="#0c3de4"/><stop offset="0.0200" stop-color="#156ff4"/><stop offset="0.0220" stop-color="#1595fc"/><stop offset="0.0240" stop-color="#2cbbff"/><stop offset="0.0301" stop-color="#2cbbff"/><stop offset="0.0327" stop-color="#1aa5fe"/><stop offset="0.0353" stop-color="#117df8"/><stop offset="0.0378" stop-color="#1769f2"/><stop offset="0.0449" stop-color="#1769f2"/><stop offset="0.0480" stop-color="#1085fa"/><stop offset="0.0511" stop-color="#25b8ff"/><stop offset="0.0542" stop-color="#40c6fd"/><stop offset="0.0843" stop-color="#40c6fd"/><stop offset="0.0909" stop-color="#65e2ef"/><stop offset="0.0976" stop-color="#6febdb"/><stop offset="0.1117" stop-color="#6febdb"/><stop offset="0.1184" stop-color="#82ebbe"/><stop offset="0.1251" stop-color="#a6f4a8"/><stop offset="0.1450" stop-color="#a6f4a8"/><stop offset="0.1588" stop-color="#c1fb9d"/><stop offset="0.1855" stop-color="#c1fb9d"/><stop offset="0.1898" stop-color="#dff484"/><stop offset="0.1941" stop-color="#f2e370"/><stop offset="0.1984" stop-color="#f9cc62"/><stop offset="0.2027" stop-color="#fcb050"/><stop offset="0.2192" stop-color="#fcb050"/><stop offset="0.2238" stop-color="#f88449"/><stop offset="0.2284" stop-color="#f15554"/><stop offset="0.2295" stop-color="#ff6468"/><stop offset="0.2305" stop-color="#ff8b8b"/><stop offset="0.2316" stop-color="#f9aaa5"/><stop offset="0.2327" stop-color="#fdc1c0"/><stop offset="0.2338" stop-color="#ffd7d7"/><stop offset="0.2349" stop-color="#ffecec"/><stop offset="0.2481" stop-color="#ffecec"/><stop offset="0.2494" stop-color="#ffd7d7"/><stop offset="0.2507" stop-color="#fdc1c0"/><stop offset="0.2520" stop-color="#f9aaa5"/><stop offset="0.2533" stop-color="#ff8b8b"/><stop offset="0.2547" stop-color="#ff6468"/><stop offset="0.2624" stop-color="#f35358"/><stop offset="0.2800" stop-color="#f35358"/><stop offset="0.2919" stop-color="#f8585d"/><stop offset="0.3021" stop-color="#f8585d"/><stop offset="0.3078" stop-color="#ff6e71"/><stop offset="0.3135" stop-color="#ff8b8b"/><stop offset="0.3277" stop-color="#ff8b8b"/><stop offset="0.3344" stop-color="#ff6e71"/><stop offset="0.3410" stop-color="#f8585d"/><stop offset="0.3610" stop-color="#f8585d"/><stop offset="0.3676" stop-color="#f3664f"/><stop offset="0.3743" stop-color="#fb9247"/><stop offset="0.3885" stop-color="#fb9247"/><stop offset="0.3968" stop-color="#fcb050"/><stop offset="0.4051" stop-color="#fac55d"/><stop offset="0.4315" stop-color="#fac55d"/><stop offset="0.4324" stop-color="#f9cf63"/><stop offset="0.4479" stop-color="#f9cf63"/><stop offset="0.4548" stop-color="#f2e370"/><stop offset="0.4617" stop-color="#e1f382"/><stop offset="0.4884" stop-color="#e1f382"/><stop offset="0.5003" stop-color="#ccfa96"/><stop offset="0.5105" stop-color="#ccfa96"/><stop offset="0.5258" stop-color="#c4fb9c"/><stop offset="0.6504" stop-color="#c4fb9c"/><stop offset="0.6675" stop-color="#ccfa96"/><stop offset="0.7516" stop-color="#ccfa96"/><stop offset="0.7688" stop-color="#c4fb9c"/><stop offset="0.9541" stop-color="#c4fb9c"/><stop offset="0.9687" stop-color="#ddf586"/><stop offset="0.9768" stop-color="#ddf586"/><stop offset="0.9793" stop-color="#f0e772"/><stop offset="0.9818" stop-color="#f9d366"/><stop offset="0.9843" stop-color="#fcbc57"/><stop offset="0.9883" stop-color="#fcbc57"/><stop offset="0.9902" stop-color="#fda048"/><stop offset="0.9922" stop-color="#f6794a"/><stop offset="0.9941" stop-color="#f15554"/><stop offset="1.0004" stop-color="#f15554"/></linearGradient><linearGradient id="hs12" gradientUnits="userSpaceOnUse" x1="159.1" y1="0" x2="192.0" y2="0"><stop offset="0.0091" stop-color="#40c6fd"/><stop offset="0.0509" stop-color="#40c6fd"/><stop offset="0.0691" stop-color="#1376f6"/><stop offset="0.1209" stop-color="#1376f6"/><stop offset="0.1391" stop-color="#114ce8"/><stop offset="0.2409" stop-color="#114ce8"/><stop offset="0.2591" stop-color="#062fe0"/><stop offset="0.2909" stop-color="#062fe0"/><stop offset="0.3091" stop-color="#300093"/><stop offset="0.3509" stop-color="#300093"/><stop offset="0.3691" stop-color="#001ad9"/><stop offset="0.4909" stop-color="#001ad9"/><stop offset="0.5091" stop-color="#1aa5fe"/><stop offset="0.6309" stop-color="#1aa5fe"/><stop offset="0.6491" stop-color="#1376f6"/><stop offset="0.6909" stop-color="#1376f6"/><stop offset="0.7091" stop-color="#0e03ba"/><stop offset="0.7509" stop-color="#0e03ba"/><stop offset="0.7691" stop-color="#25b8ff"/><stop offset="0.8109" stop-color="#25b8ff"/><stop offset="0.8291" stop-color="#32beff"/><stop offset="0.8909" stop-color="#32beff"/><stop offset="0.9091" stop-color="#0105c7"/><stop offset="0.9409" stop-color="#0105c7"/><stop offset="0.9591" stop-color="#1085fa"/><stop offset="0.9909" stop-color="#1085fa"/></linearGradient><linearGradient id="hl13" gradientUnits="userSpaceOnUse" x1="208.4" y1="0" x2="784.5" y2="0"><stop offset="0.0000" stop-color="#1aa5fe"/><stop offset="0.0114" stop-color="#1aa5fe"/><stop offset="0.0137" stop-color="#33beff"/><stop offset="0.0160" stop-color="#53d4f6"/><stop offset="0.0183" stop-color="#69e6e7"/><stop offset="0.0206" stop-color="#75ebd1"/><stop offset="0.0267" stop-color="#75ebd1"/><stop offset="0.0355" stop-color="#68e5e8"/><stop offset="0.0456" stop-color="#68e5e8"/><stop offset="0.0516" stop-color="#6febdb"/><stop offset="0.0576" stop-color="#7bebc8"/><stop offset="0.1113" stop-color="#7bebc8"/><stop offset="0.1198" stop-color="#8eeeb6"/><stop offset="0.1284" stop-color="#a6f4a8"/><stop offset="0.1450" stop-color="#a6f4a8"/><stop offset="0.1588" stop-color="#c1fb9d"/><stop offset="0.1754" stop-color="#c1fb9d"/><stop offset="0.1892" stop-color="#e1f382"/><stop offset="0.2125" stop-color="#e1f382"/><stop offset="0.2158" stop-color="#f2e270"/><stop offset="0.2191" stop-color="#facc61"/><stop offset="0.2224" stop-color="#fcb050"/><stop offset="0.2265" stop-color="#fcb050"/><stop offset="0.2287" stop-color="#f88449"/><stop offset="0.2309" stop-color="#f15454"/><stop offset="0.2332" stop-color="#ff6469"/><stop offset="0.2354" stop-color="#ff8b8b"/><stop offset="0.2496" stop-color="#ff8b8b"/><stop offset="0.2528" stop-color="#ff686c"/><stop offset="0.2560" stop-color="#f25257"/><stop offset="0.2592" stop-color="#f6764b"/><stop offset="0.2624" stop-color="#fda24a"/><stop offset="0.2935" stop-color="#fda24a"/><stop offset="0.3004" stop-color="#f77b4a"/><stop offset="0.3073" stop-color="#f15554"/><stop offset="0.3306" stop-color="#f15554"/><stop offset="0.3392" stop-color="#f88449"/><stop offset="0.3478" stop-color="#fcb050"/><stop offset="0.3677" stop-color="#fcb050"/><stop offset="0.3763" stop-color="#faca60"/><stop offset="0.3849" stop-color="#f4e06e"/><stop offset="0.4315" stop-color="#f4e06e"/><stop offset="0.4324" stop-color="#ebef77"/><stop offset="0.4479" stop-color="#ebef77"/><stop offset="0.4617" stop-color="#d4f88e"/><stop offset="0.4884" stop-color="#d4f88e"/><stop offset="0.5039" stop-color="#b9f9a0"/><stop offset="0.5964" stop-color="#b9f9a0"/><stop offset="0.6135" stop-color="#c1fb9d"/><stop offset="0.7853" stop-color="#c1fb9d"/><stop offset="0.8126" stop-color="#b9f9a0"/><stop offset="0.9541" stop-color="#b9f9a0"/><stop offset="0.9648" stop-color="#cafb98"/><stop offset="0.9755" stop-color="#ddf586"/><stop offset="0.9836" stop-color="#ddf586"/><stop offset="0.9859" stop-color="#f0e672"/><stop offset="0.9882" stop-color="#f9d065"/><stop offset="0.9905" stop-color="#fcb854"/><stop offset="0.9929" stop-color="#fb9247"/><stop offset="1.0004" stop-color="#fb9247"/></linearGradient><linearGradient id="hs13" gradientUnits="userSpaceOnUse" x1="159.1" y1="0" x2="192.0" y2="0"><stop offset="0.0091" stop-color="#68e5e8"/><stop offset="0.0509" stop-color="#68e5e8"/><stop offset="0.0691" stop-color="#32beff"/><stop offset="0.1209" stop-color="#32beff"/><stop offset="0.1391" stop-color="#1aa5fe"/><stop offset="0.2409" stop-color="#1aa5fe"/><stop offset="0.2591" stop-color="#1376f6"/><stop offset="0.2909" stop-color="#1376f6"/><stop offset="0.3091" stop-color="#2800a0"/><stop offset="0.3509" stop-color="#2800a0"/><stop offset="0.3691" stop-color="#25b8ff"/><stop offset="0.4909" stop-color="#25b8ff"/><stop offset="0.5091" stop-color="#40c6fd"/><stop offset="0.6309" stop-color="#40c6fd"/><stop offset="0.6491" stop-color="#25b8ff"/><stop offset="0.6909" stop-color="#25b8ff"/><stop offset="0.7091" stop-color="#000fd0"/><stop offset="0.7509" stop-color="#000fd0"/><stop offset="0.7691" stop-color="#32beff"/><stop offset="0.8109" stop-color="#32beff"/><stop offset="0.8291" stop-color="#32beff"/><stop offset="0.8909" stop-color="#32beff"/><stop offset="0.9091" stop-color="#000fd0"/><stop offset="0.9409" stop-color="#000fd0"/><stop offset="0.9591" stop-color="#40c6fd"/><stop offset="0.9909" stop-color="#40c6fd"/></linearGradient><linearGradient id="hl14" gradientUnits="userSpaceOnUse" x1="208.4" y1="0" x2="784.5" y2="0"><stop offset="0.0000" stop-color="#9ef1ac"/><stop offset="0.0165" stop-color="#9ef1ac"/><stop offset="0.0301" stop-color="#aef7a5"/><stop offset="0.0443" stop-color="#aef7a5"/><stop offset="0.0576" stop-color="#a2f3aa"/><stop offset="0.1180" stop-color="#a2f3aa"/><stop offset="0.1313" stop-color="#b9f9a0"/><stop offset="0.1455" stop-color="#b9f9a0"/><stop offset="0.1588" stop-color="#c4fb9c"/><stop offset="0.1788" stop-color="#c4fb9c"/><stop offset="0.1921" stop-color="#ccfa96"/><stop offset="0.2062" stop-color="#ccfa96"/><stop offset="0.2116" stop-color="#ecee77"/><stop offset="0.2170" stop-color="#f8d869"/><stop offset="0.2251" stop-color="#f8d869"/><stop offset="0.2281" stop-color="#fbc35c"/><stop offset="0.2310" stop-color="#fda94d"/><stop offset="0.2339" stop-color="#f98549"/><stop offset="0.2420" stop-color="#f98549"/><stop offset="0.2458" stop-color="#fda94d"/><stop offset="0.2495" stop-color="#fbc35c"/><stop offset="0.2533" stop-color="#f8d869"/><stop offset="0.3070" stop-color="#f8d869"/><stop offset="0.3208" stop-color="#fcbc57"/><stop offset="0.3374" stop-color="#fcbc57"/><stop offset="0.3459" stop-color="#f8d367"/><stop offset="0.3545" stop-color="#f0e773"/><stop offset="0.4315" stop-color="#f0e773"/><stop offset="0.4324" stop-color="#ddf586"/><stop offset="0.4411" stop-color="#ddf586"/><stop offset="0.4583" stop-color="#c8fc9a"/><stop offset="0.4884" stop-color="#c8fc9a"/><stop offset="0.5055" stop-color="#b6f9a2"/><stop offset="0.5964" stop-color="#b6f9a2"/><stop offset="0.6135" stop-color="#bdfa9f"/><stop offset="0.7853" stop-color="#bdfa9f"/><stop offset="0.8126" stop-color="#b9f9a0"/><stop offset="0.8697" stop-color="#b9f9a0"/><stop offset="0.8835" stop-color="#b2f8a3"/><stop offset="0.9035" stop-color="#b2f8a3"/><stop offset="0.9172" stop-color="#b9f9a0"/><stop offset="0.9676" stop-color="#b9f9a0"/><stop offset="0.9789" stop-color="#d9f68a"/><stop offset="0.9870" stop-color="#d9f68a"/><stop offset="0.9887" stop-color="#eeea74"/><stop offset="0.9905" stop-color="#f8d769"/><stop offset="0.9923" stop-color="#fbc05a"/><stop offset="0.9941" stop-color="#fda24a"/><stop offset="1.0004" stop-color="#fda24a"/></linearGradient><linearGradient id="hs14" gradientUnits="userSpaceOnUse" x1="159.1" y1="0" x2="192.0" y2="0"><stop offset="0.0091" stop-color="#74ebd4"/><stop offset="0.0509" stop-color="#74ebd4"/><stop offset="0.0691" stop-color="#68e5e8"/><stop offset="0.1209" stop-color="#68e5e8"/><stop offset="0.1391" stop-color="#63e0f0"/><stop offset="0.2409" stop-color="#63e0f0"/><stop offset="0.2591" stop-color="#40c6fd"/><stop offset="0.2909" stop-color="#40c6fd"/><stop offset="0.3091" stop-color="#0105c7"/><stop offset="0.3509" stop-color="#0105c7"/><stop offset="0.3691" stop-color="#74ebd4"/><stop offset="0.4909" stop-color="#74ebd4"/><stop offset="0.5091" stop-color="#68e5e8"/><stop offset="0.6309" stop-color="#68e5e8"/><stop offset="0.6491" stop-color="#52d3f7"/><stop offset="0.6909" stop-color="#52d3f7"/><stop offset="0.7091" stop-color="#1376f6"/><stop offset="0.7509" stop-color="#1376f6"/><stop offset="0.7691" stop-color="#40c6fd"/><stop offset="0.8109" stop-color="#40c6fd"/><stop offset="0.8291" stop-color="#25b8ff"/><stop offset="0.8909" stop-color="#25b8ff"/><stop offset="0.9091" stop-color="#062fe0"/><stop offset="0.9409" stop-color="#062fe0"/><stop offset="0.9591" stop-color="#74ebd4"/><stop offset="0.9909" stop-color="#74ebd4"/></linearGradient><linearGradient id="hl15" gradientUnits="userSpaceOnUse" x1="208.4" y1="0" x2="784.5" y2="0"><stop offset="0.0000" stop-color="#5adaf4"/><stop offset="0.0089" stop-color="#5adaf4"/><stop offset="0.0119" stop-color="#6ae7e3"/><stop offset="0.0149" stop-color="#79ebcc"/><stop offset="0.0179" stop-color="#94efb2"/><stop offset="0.0260" stop-color="#94efb2"/><stop offset="0.0373" stop-color="#a6f4a8"/><stop offset="0.1180" stop-color="#a6f4a8"/><stop offset="0.1306" stop-color="#b9f9a0"/><stop offset="0.1428" stop-color="#b9f9a0"/><stop offset="0.1529" stop-color="#d4f88e"/><stop offset="0.1610" stop-color="#d4f88e"/><stop offset="0.1723" stop-color="#c8fc9a"/><stop offset="0.2125" stop-color="#c8fc9a"/><stop offset="0.2219" stop-color="#ebf078"/><stop offset="0.2312" stop-color="#f8d869"/><stop offset="0.2413" stop-color="#f8d869"/><stop offset="0.2461" stop-color="#f0e773"/><stop offset="0.2508" stop-color="#e1f382"/><stop offset="0.2589" stop-color="#e1f382"/><stop offset="0.2670" stop-color="#f4e06e"/><stop offset="0.2730" stop-color="#f4e06e"/><stop offset="0.2792" stop-color="#ecee77"/><stop offset="0.2853" stop-color="#d9f68a"/><stop offset="0.4315" stop-color="#d9f68a"/><stop offset="0.4324" stop-color="#d4f88e"/><stop offset="0.4411" stop-color="#d4f88e"/><stop offset="0.4583" stop-color="#c4fb9c"/><stop offset="0.4884" stop-color="#c4fb9c"/><stop offset="0.5055" stop-color="#b9f9a0"/><stop offset="0.9676" stop-color="#b9f9a0"/><stop offset="0.9789" stop-color="#d0f992"/><stop offset="0.9870" stop-color="#d0f992"/><stop offset="0.9905" stop-color="#eded76"/><stop offset="0.9941" stop-color="#f8d869"/><stop offset="1.0004" stop-color="#f8d869"/></linearGradient><linearGradient id="hs15" gradientUnits="userSpaceOnUse" x1="159.1" y1="0" x2="192.0" y2="0"><stop offset="0.0091" stop-color="#40c6fd"/><stop offset="0.0509" stop-color="#40c6fd"/><stop offset="0.0691" stop-color="#32beff"/><stop offset="0.1209" stop-color="#32beff"/><stop offset="0.1391" stop-color="#40c6fd"/><stop offset="0.2409" stop-color="#40c6fd"/><stop offset="0.2591" stop-color="#25b8ff"/><stop offset="0.2909" stop-color="#25b8ff"/><stop offset="0.3091" stop-color="#114ce8"/><stop offset="0.3509" stop-color="#114ce8"/><stop offset="0.3691" stop-color="#63e0f0"/><stop offset="0.4909" stop-color="#63e0f0"/><stop offset="0.5091" stop-color="#52d3f7"/><stop offset="0.6309" stop-color="#52d3f7"/><stop offset="0.6491" stop-color="#40c6fd"/><stop offset="0.6909" stop-color="#40c6fd"/><stop offset="0.7091" stop-color="#40c6fd"/><stop offset="0.7509" stop-color="#40c6fd"/><stop offset="0.7691" stop-color="#52d3f7"/><stop offset="0.8109" stop-color="#52d3f7"/><stop offset="0.8291" stop-color="#63e0f0"/><stop offset="0.8909" stop-color="#63e0f0"/><stop offset="0.9091" stop-color="#74ebd4"/><stop offset="0.9409" stop-color="#74ebd4"/><stop offset="0.9591" stop-color="#91eeb4"/><stop offset="0.9909" stop-color="#91eeb4"/></linearGradient><linearGradient id="hl16" gradientUnits="userSpaceOnUse" x1="208.4" y1="0" x2="784.5" y2="0"><stop offset="0.0000" stop-color="#1085fa"/><stop offset="0.0064" stop-color="#1085fa"/><stop offset="0.0081" stop-color="#24b7ff"/><stop offset="0.0098" stop-color="#3ec4fe"/><stop offset="0.0115" stop-color="#5fddf2"/><stop offset="0.0132" stop-color="#6be8e2"/><stop offset="0.0173" stop-color="#6be8e2"/><stop offset="0.0197" stop-color="#77ebce"/><stop offset="0.0222" stop-color="#8aedb9"/><stop offset="0.0247" stop-color="#a6f4a8"/><stop offset="0.0328" stop-color="#a6f4a8"/><stop offset="0.0409" stop-color="#94efb2"/><stop offset="0.0470" stop-color="#94efb2"/><stop offset="0.0576" stop-color="#a6f4a8"/><stop offset="0.1315" stop-color="#a6f4a8"/><stop offset="0.1382" stop-color="#bcfa9f"/><stop offset="0.1448" stop-color="#d4f88e"/><stop offset="0.1489" stop-color="#d4f88e"/><stop offset="0.1539" stop-color="#c0fb9e"/><stop offset="0.1590" stop-color="#aef7a5"/><stop offset="0.1651" stop-color="#aef7a5"/><stop offset="0.1732" stop-color="#ccfa96"/><stop offset="0.1813" stop-color="#ccfa96"/><stop offset="0.1925" stop-color="#aef7a5"/><stop offset="0.2192" stop-color="#aef7a5"/><stop offset="0.2299" stop-color="#c4fb9c"/><stop offset="0.2359" stop-color="#c4fb9c"/><stop offset="0.2465" stop-color="#bdfa9f"/><stop offset="0.4315" stop-color="#bdfa9f"/><stop offset="0.4324" stop-color="#bdfa9f"/><stop offset="0.9338" stop-color="#bdfa9f"/><stop offset="0.9458" stop-color="#b2f8a3"/><stop offset="0.9559" stop-color="#b2f8a3"/><stop offset="0.9762" stop-color="#aaf5a7"/><stop offset="0.9863" stop-color="#aaf5a7"/><stop offset="0.9949" stop-color="#c4fb9c"/><stop offset="1.0004" stop-color="#c4fb9c"/></linearGradient><linearGradient id="hs16" gradientUnits="userSpaceOnUse" x1="159.1" y1="0" x2="192.0" y2="0"><stop offset="0.0091" stop-color="#114ce8"/><stop offset="0.0509" stop-color="#114ce8"/><stop offset="0.0691" stop-color="#1aa5fe"/><stop offset="0.1209" stop-color="#1aa5fe"/><stop offset="0.1391" stop-color="#40c6fd"/><stop offset="0.2409" stop-color="#40c6fd"/><stop offset="0.2591" stop-color="#63e0f0"/><stop offset="0.2909" stop-color="#63e0f0"/><stop offset="0.3091" stop-color="#52d3f7"/><stop offset="0.3509" stop-color="#52d3f7"/><stop offset="0.3691" stop-color="#68e5e8"/><stop offset="0.4909" stop-color="#68e5e8"/><stop offset="0.5091" stop-color="#68e5e8"/><stop offset="0.6309" stop-color="#68e5e8"/><stop offset="0.6491" stop-color="#66e3ec"/><stop offset="0.6909" stop-color="#66e3ec"/><stop offset="0.7091" stop-color="#6ce9df"/><stop offset="0.7509" stop-color="#6ce9df"/><stop offset="0.7691" stop-color="#74ebd4"/><stop offset="0.8109" stop-color="#74ebd4"/><stop offset="0.8291" stop-color="#eeeb75"/><stop offset="0.8909" stop-color="#eeeb75"/><stop offset="0.9091" stop-color="#ffd7d7"/><stop offset="0.9409" stop-color="#ffd7d7"/><stop offset="0.9591" stop-color="#fb9247"/><stop offset="0.9909" stop-color="#fb9247"/></linearGradient><linearGradient id="hl17" gradientUnits="userSpaceOnUse" x1="208.4" y1="0" x2="784.5" y2="0"><stop offset="0.0000" stop-color="#c4fb9c"/><stop offset="0.0367" stop-color="#c4fb9c"/><stop offset="0.0609" stop-color="#aef7a5"/><stop offset="0.1113" stop-color="#aef7a5"/><stop offset="0.1284" stop-color="#bdfa9f"/><stop offset="0.1450" stop-color="#bdfa9f"/><stop offset="0.1556" stop-color="#a6f4a8"/><stop offset="0.1617" stop-color="#a6f4a8"/><stop offset="0.1678" stop-color="#bcfa9f"/><stop offset="0.1738" stop-color="#d4f88e"/><stop offset="0.1840" stop-color="#d4f88e"/><stop offset="0.1959" stop-color="#c4fb9c"/><stop offset="0.2125" stop-color="#c4fb9c"/><stop offset="0.2263" stop-color="#c1fb9d"/><stop offset="0.4315" stop-color="#c1fb9d"/><stop offset="0.5646" stop-color="#bdfa9f"/><stop offset="1.0004" stop-color="#bdfa9f"/></linearGradient><linearGradient id="hs17" gradientUnits="userSpaceOnUse" x1="159.1" y1="0" x2="192.0" y2="0"><stop offset="0.0091" stop-color="#7cebc6"/><stop offset="0.0509" stop-color="#7cebc6"/><stop offset="0.0691" stop-color="#88ecba"/><stop offset="0.1209" stop-color="#88ecba"/><stop offset="0.1391" stop-color="#91eeb4"/><stop offset="0.2409" stop-color="#91eeb4"/><stop offset="0.2591" stop-color="#81ebc0"/><stop offset="0.2909" stop-color="#81ebc0"/><stop offset="0.3091" stop-color="#6ce9df"/><stop offset="0.3509" stop-color="#6ce9df"/><stop offset="0.3691" stop-color="#9af0ae"/><stop offset="0.4909" stop-color="#9af0ae"/><stop offset="0.5091" stop-color="#7cebc6"/><stop offset="0.6309" stop-color="#7cebc6"/><stop offset="0.6491" stop-color="#88ecba"/><stop offset="0.6909" stop-color="#88ecba"/><stop offset="0.7091" stop-color="#91eeb4"/><stop offset="0.7509" stop-color="#91eeb4"/><stop offset="0.7691" stop-color="#a1f2aa"/><stop offset="0.8109" stop-color="#a1f2aa"/><stop offset="0.8291" stop-color="#e3f380"/><stop offset="0.8909" stop-color="#e3f380"/><stop offset="0.9091" stop-color="#fc9a98"/><stop offset="0.9409" stop-color="#fc9a98"/><stop offset="0.9591" stop-color="#fbc15a"/><stop offset="0.9909" stop-color="#fbc15a"/></linearGradient><linearGradient id="hl18" gradientUnits="userSpaceOnUse" x1="208.4" y1="0" x2="784.5" y2="0"><stop offset="0.0041" stop-color="#f8585d"/><stop offset="0.0112" stop-color="#f8585d"/><stop offset="0.0132" stop-color="#f3684e"/><stop offset="0.0152" stop-color="#fc9747"/><stop offset="0.0171" stop-color="#fcbb56"/><stop offset="0.0191" stop-color="#f9d366"/><stop offset="0.0211" stop-color="#f0e773"/><stop offset="0.0438" stop-color="#f0e773"/><stop offset="0.0507" stop-color="#daf689"/><stop offset="0.0576" stop-color="#bdfa9f"/><stop offset="0.0714" stop-color="#bdfa9f"/><stop offset="0.0879" stop-color="#b6f9a2"/><stop offset="0.1383" stop-color="#b6f9a2"/><stop offset="0.1536" stop-color="#9ef1ac"/><stop offset="0.1637" stop-color="#9ef1ac"/><stop offset="0.1697" stop-color="#bafaa0"/><stop offset="0.1757" stop-color="#d9f68a"/><stop offset="0.1923" stop-color="#d9f68a"/><stop offset="0.2060" stop-color="#ccfa96"/><stop offset="0.2226" stop-color="#ccfa96"/><stop offset="0.2289" stop-color="#e8f17b"/><stop offset="0.2353" stop-color="#f4e06e"/><stop offset="0.2474" stop-color="#f4e06e"/><stop offset="0.2535" stop-color="#eaf079"/><stop offset="0.2596" stop-color="#d0f992"/><stop offset="0.2737" stop-color="#d0f992"/><stop offset="0.2904" stop-color="#ccfa96"/><stop offset="0.3070" stop-color="#ccfa96"/><stop offset="0.3242" stop-color="#c1fb9d"/><stop offset="0.4315" stop-color="#c1fb9d"/><stop offset="0.4324" stop-color="#bdfa9f"/><stop offset="0.9676" stop-color="#bdfa9f"/><stop offset="0.9795" stop-color="#d9f68a"/><stop offset="0.9897" stop-color="#d9f68a"/><stop offset="0.9974" stop-color="#c4fb9c"/><stop offset="1.0004" stop-color="#c4fb9c"/></linearGradient><linearGradient id="hs18" gradientUnits="userSpaceOnUse" x1="159.1" y1="0" x2="192.0" y2="0"><stop offset="0.0091" stop-color="#fda84c"/><stop offset="0.0509" stop-color="#fda84c"/><stop offset="0.0691" stop-color="#f6784a"/><stop offset="0.1209" stop-color="#f6784a"/><stop offset="0.1391" stop-color="#e3f380"/><stop offset="0.2409" stop-color="#e3f380"/><stop offset="0.2591" stop-color="#cbfb97"/><stop offset="0.2909" stop-color="#cbfb97"/><stop offset="0.3091" stop-color="#40c6fd"/><stop offset="0.3509" stop-color="#40c6fd"/><stop offset="0.3691" stop-color="#dbf588"/><stop offset="0.4909" stop-color="#dbf588"/><stop offset="0.5091" stop-color="#c4fb9c"/><stop offset="0.6309" stop-color="#c4fb9c"/><stop offset="0.6491" stop-color="#e3f380"/><stop offset="0.6909" stop-color="#e3f380"/><stop offset="0.7091" stop-color="#74ebd4"/><stop offset="0.7509" stop-color="#74ebd4"/><stop offset="0.7691" stop-color="#eeeb75"/><stop offset="0.8109" stop-color="#eeeb75"/><stop offset="0.8291" stop-color="#fcba56"/><stop offset="0.8909" stop-color="#fcba56"/><stop offset="0.9091" stop-color="#91eeb4"/><stop offset="0.9409" stop-color="#91eeb4"/><stop offset="0.9591" stop-color="#f8d467"/><stop offset="0.9909" stop-color="#f8d467"/></linearGradient><linearGradient id="hl19" gradientUnits="userSpaceOnUse" x1="208.4" y1="0" x2="784.5" y2="0"><stop offset="0.0000" stop-color="#f8d869"/><stop offset="0.0089" stop-color="#f8d869"/><stop offset="0.0147" stop-color="#ecee77"/><stop offset="0.0204" stop-color="#ccfa96"/><stop offset="0.0438" stop-color="#ccfa96"/><stop offset="0.0576" stop-color="#bdfa9f"/><stop offset="0.1450" stop-color="#bdfa9f"/><stop offset="0.1563" stop-color="#aaf5a7"/><stop offset="0.1644" stop-color="#aaf5a7"/><stop offset="0.1757" stop-color="#bdfa9f"/><stop offset="0.4315" stop-color="#bdfa9f"/><stop offset="0.5646" stop-color="#bdfa9f"/><stop offset="1.0004" stop-color="#bdfa9f"/></linearGradient><linearGradient id="hs19" gradientUnits="userSpaceOnUse" x1="159.1" y1="0" x2="192.0" y2="0"><stop offset="0.0091" stop-color="#f3e06e"/><stop offset="0.0509" stop-color="#f3e06e"/><stop offset="0.0691" stop-color="#f8d467"/><stop offset="0.1209" stop-color="#f8d467"/><stop offset="0.1391" stop-color="#d3f88f"/><stop offset="0.2409" stop-color="#d3f88f"/><stop offset="0.2591" stop-color="#c4fb9c"/><stop offset="0.2909" stop-color="#c4fb9c"/><stop offset="0.3091" stop-color="#74ebd4"/><stop offset="0.3509" stop-color="#74ebd4"/><stop offset="0.3691" stop-color="#cbfb97"/><stop offset="0.4909" stop-color="#cbfb97"/><stop offset="0.5091" stop-color="#bdfa9f"/><stop offset="0.6309" stop-color="#bdfa9f"/><stop offset="0.6491" stop-color="#d3f88f"/><stop offset="0.6909" stop-color="#d3f88f"/><stop offset="0.7091" stop-color="#91eeb4"/><stop offset="0.7509" stop-color="#91eeb4"/><stop offset="0.7691" stop-color="#dbf588"/><stop offset="0.8109" stop-color="#dbf588"/><stop offset="0.8291" stop-color="#f9ce63"/><stop offset="0.8909" stop-color="#f9ce63"/><stop offset="0.9091" stop-color="#b6f9a1"/><stop offset="0.9409" stop-color="#b6f9a1"/><stop offset="0.9591" stop-color="#f3e06e"/><stop offset="0.9909" stop-color="#f3e06e"/></linearGradient><linearGradient id="hr0" gradientUnits="userSpaceOnUse" x1="819.0" y1="0" x2="1248.1" y2="0"><stop offset="0.0000" stop-color="#bdfa9f"/><stop offset="0.0163" stop-color="#bdfa9f"/><stop offset="0.0513" stop-color="#c0fb9e"/><stop offset="1.0000" stop-color="#c0fb9e"/></linearGradient><linearGradient id="hr1" gradientUnits="userSpaceOnUse" x1="819.0" y1="0" x2="1248.1" y2="0"><stop offset="0.0000" stop-color="#9af0ae"/><stop offset="0.0163" stop-color="#9ef1ac"/><stop offset="0.0338" stop-color="#aff7a4"/><stop offset="0.0513" stop-color="#c0fb9e"/><stop offset="0.1956" stop-color="#c0fb9e"/><stop offset="0.2015" stop-color="#b2f8a3"/><stop offset="0.2123" stop-color="#b2f8a3"/><stop offset="0.2181" stop-color="#c0fb9e"/><stop offset="0.3623" stop-color="#c0fb9e"/><stop offset="0.3681" stop-color="#b5f9a2"/><stop offset="0.3753" stop-color="#b5f9a2"/><stop offset="0.3812" stop-color="#c0fb9e"/><stop offset="0.9265" stop-color="#c0fb9e"/><stop offset="0.9323" stop-color="#b7f9a1"/><stop offset="0.9503" stop-color="#b7f9a1"/><stop offset="0.9561" stop-color="#c0fb9e"/><stop offset="1.0000" stop-color="#c0fb9e"/></linearGradient><linearGradient id="hr2" gradientUnits="userSpaceOnUse" x1="819.0" y1="0" x2="1248.1" y2="0"><stop offset="0.0000" stop-color="#81ebc0"/><stop offset="0.0163" stop-color="#86ecbb"/><stop offset="0.0338" stop-color="#a6f4a8"/><stop offset="0.0513" stop-color="#c0fb9e"/><stop offset="0.1956" stop-color="#c0fb9e"/><stop offset="0.2015" stop-color="#aff7a4"/><stop offset="0.2123" stop-color="#aff7a4"/><stop offset="0.2181" stop-color="#c0fb9e"/><stop offset="0.2200" stop-color="#c0fb9e"/><stop offset="0.2258" stop-color="#c5fc9c"/><stop offset="0.2598" stop-color="#c5fc9c"/><stop offset="0.2656" stop-color="#c0fb9e"/><stop offset="0.3623" stop-color="#c0fb9e"/><stop offset="0.3681" stop-color="#b2f8a3"/><stop offset="0.3753" stop-color="#b2f8a3"/><stop offset="0.3812" stop-color="#c0fb9e"/><stop offset="0.4792" stop-color="#c0fb9e"/><stop offset="0.4850" stop-color="#b5f9a2"/><stop offset="0.4922" stop-color="#b5f9a2"/><stop offset="0.4981" stop-color="#c0fb9e"/><stop offset="0.5458" stop-color="#c0fb9e"/><stop offset="0.5516" stop-color="#b2f8a3"/><stop offset="0.5606" stop-color="#b2f8a3"/><stop offset="0.5664" stop-color="#c0fb9e"/><stop offset="0.8174" stop-color="#c0fb9e"/><stop offset="0.8232" stop-color="#cbfb97"/><stop offset="0.8376" stop-color="#cbfb97"/><stop offset="0.8434" stop-color="#c0fb9e"/><stop offset="0.8953" stop-color="#c0fb9e"/><stop offset="0.9011" stop-color="#c8fc9a"/><stop offset="0.9155" stop-color="#c8fc9a"/><stop offset="0.9214" stop-color="#c0fb9e"/><stop offset="0.9265" stop-color="#c0fb9e"/><stop offset="0.9323" stop-color="#aff7a4"/><stop offset="0.9503" stop-color="#aff7a4"/><stop offset="0.9561" stop-color="#c0fb9e"/><stop offset="0.9605" stop-color="#c0fb9e"/><stop offset="0.9663" stop-color="#cbfb97"/><stop offset="0.9913" stop-color="#cbfb97"/><stop offset="0.9971" stop-color="#c0fb9e"/><stop offset="1.0000" stop-color="#c0fb9e"/></linearGradient><linearGradient id="hr3" gradientUnits="userSpaceOnUse" x1="819.0" y1="0" x2="1248.1" y2="0"><stop offset="0.0000" stop-color="#78ebcd"/><stop offset="0.0163" stop-color="#7cebc6"/><stop offset="0.0280" stop-color="#92efb3"/><stop offset="0.0396" stop-color="#abf6a6"/><stop offset="0.0513" stop-color="#c0fb9e"/><stop offset="0.1956" stop-color="#c0fb9e"/><stop offset="0.2015" stop-color="#aff7a4"/><stop offset="0.2123" stop-color="#aff7a4"/><stop offset="0.2181" stop-color="#c0fb9e"/><stop offset="0.3623" stop-color="#c0fb9e"/><stop offset="0.3681" stop-color="#b5f9a2"/><stop offset="0.3753" stop-color="#b5f9a2"/><stop offset="0.3812" stop-color="#c0fb9e"/><stop offset="0.4239" stop-color="#c0fb9e"/><stop offset="0.4297" stop-color="#b5f9a2"/><stop offset="0.4517" stop-color="#b5f9a2"/><stop offset="0.4575" stop-color="#c0fb9e"/><stop offset="0.5458" stop-color="#c0fb9e"/><stop offset="0.5516" stop-color="#b2f8a3"/><stop offset="0.5606" stop-color="#b2f8a3"/><stop offset="0.5664" stop-color="#c0fb9e"/><stop offset="0.9265" stop-color="#c0fb9e"/><stop offset="0.9323" stop-color="#aff7a4"/><stop offset="0.9503" stop-color="#aff7a4"/><stop offset="0.9561" stop-color="#c0fb9e"/><stop offset="1.0000" stop-color="#c0fb9e"/></linearGradient><linearGradient id="hr4" gradientUnits="userSpaceOnUse" x1="819.0" y1="0" x2="1248.1" y2="0"><stop offset="0.0000" stop-color="#6febda"/><stop offset="0.0163" stop-color="#75ebd2"/><stop offset="0.0280" stop-color="#88ecba"/><stop offset="0.0396" stop-color="#a6f4a8"/><stop offset="0.0513" stop-color="#c0fb9e"/><stop offset="0.1481" stop-color="#c0fb9e"/><stop offset="0.1539" stop-color="#b2f8a3"/><stop offset="0.2089" stop-color="#b2f8a3"/><stop offset="0.2147" stop-color="#c0fb9e"/><stop offset="0.4239" stop-color="#c0fb9e"/><stop offset="0.4297" stop-color="#b2f8a3"/><stop offset="0.4517" stop-color="#b2f8a3"/><stop offset="0.4575" stop-color="#c0fb9e"/><stop offset="0.5458" stop-color="#c0fb9e"/><stop offset="0.5516" stop-color="#b5f9a2"/><stop offset="0.5606" stop-color="#b5f9a2"/><stop offset="0.5664" stop-color="#c0fb9e"/><stop offset="0.9265" stop-color="#c0fb9e"/><stop offset="0.9323" stop-color="#aff7a4"/><stop offset="0.9503" stop-color="#aff7a4"/><stop offset="0.9561" stop-color="#c0fb9e"/><stop offset="1.0000" stop-color="#c0fb9e"/></linearGradient><linearGradient id="hr5" gradientUnits="userSpaceOnUse" x1="819.0" y1="0" x2="1248.1" y2="0"><stop offset="0.0000" stop-color="#6ae7e3"/><stop offset="0.0163" stop-color="#6deadd"/><stop offset="0.0280" stop-color="#80ebc1"/><stop offset="0.0396" stop-color="#a2f3aa"/><stop offset="0.0513" stop-color="#c0fb9e"/><stop offset="0.0881" stop-color="#c0fb9e"/><stop offset="0.0939" stop-color="#c5fc9c"/><stop offset="0.2238" stop-color="#c5fc9c"/><stop offset="0.2297" stop-color="#c0fb9e"/><stop offset="0.3519" stop-color="#c0fb9e"/><stop offset="0.3577" stop-color="#b5f9a2"/><stop offset="0.4277" stop-color="#b5f9a2"/><stop offset="0.4335" stop-color="#c0fb9e"/><stop offset="0.5498" stop-color="#c0fb9e"/><stop offset="0.5556" stop-color="#b7f9a1"/><stop offset="0.6315" stop-color="#b7f9a1"/><stop offset="0.6374" stop-color="#c0fb9e"/><stop offset="0.6817" stop-color="#c0fb9e"/><stop offset="0.6875" stop-color="#c5fc9c"/><stop offset="0.8114" stop-color="#c5fc9c"/><stop offset="0.8172" stop-color="#c0fb9e"/><stop offset="0.9265" stop-color="#c0fb9e"/><stop offset="0.9323" stop-color="#aff7a4"/><stop offset="0.9503" stop-color="#aff7a4"/><stop offset="0.9561" stop-color="#c0fb9e"/><stop offset="1.0000" stop-color="#c0fb9e"/></linearGradient><linearGradient id="hr6" gradientUnits="userSpaceOnUse" x1="819.0" y1="0" x2="1248.1" y2="0"><stop offset="0.0000" stop-color="#63e0f0"/><stop offset="0.0163" stop-color="#67e4e9"/><stop offset="0.0251" stop-color="#72ebd6"/><stop offset="0.0338" stop-color="#85ecbc"/><stop offset="0.0425" stop-color="#a5f4a9"/><stop offset="0.0513" stop-color="#c0fb9e"/><stop offset="0.0881" stop-color="#c0fb9e"/><stop offset="0.0939" stop-color="#c6fc9b"/><stop offset="0.2238" stop-color="#c6fc9b"/><stop offset="0.2297" stop-color="#c0fb9e"/><stop offset="0.3519" stop-color="#c0fb9e"/><stop offset="0.3577" stop-color="#b7f9a1"/><stop offset="0.4517" stop-color="#b7f9a1"/><stop offset="0.4575" stop-color="#c0fb9e"/><stop offset="0.4718" stop-color="#c0fb9e"/><stop offset="0.4776" stop-color="#b5f9a2"/><stop offset="0.6315" stop-color="#b5f9a2"/><stop offset="0.6374" stop-color="#c0fb9e"/><stop offset="0.6817" stop-color="#c0fb9e"/><stop offset="0.6875" stop-color="#c5fc9c"/><stop offset="0.7155" stop-color="#c5fc9c"/><stop offset="0.7213" stop-color="#c0fb9e"/><stop offset="0.9265" stop-color="#c0fb9e"/><stop offset="0.9323" stop-color="#aff7a4"/><stop offset="0.9503" stop-color="#aff7a4"/><stop offset="0.9561" stop-color="#c0fb9e"/><stop offset="1.0000" stop-color="#c0fb9e"/></linearGradient><linearGradient id="hr7" gradientUnits="userSpaceOnUse" x1="819.0" y1="0" x2="1248.1" y2="0"><stop offset="0.0000" stop-color="#40c6fd"/><stop offset="0.0163" stop-color="#53d4f7"/><stop offset="0.0233" stop-color="#68e5e8"/><stop offset="0.0303" stop-color="#73ebd4"/><stop offset="0.0373" stop-color="#86ecbb"/><stop offset="0.0443" stop-color="#a6f4a8"/><stop offset="0.0513" stop-color="#c0fb9e"/><stop offset="0.0520" stop-color="#bafaa0"/><stop offset="0.3318" stop-color="#bafaa0"/><stop offset="0.3376" stop-color="#c0fb9e"/><stop offset="0.3519" stop-color="#c0fb9e"/><stop offset="0.3577" stop-color="#aff7a4"/><stop offset="0.4277" stop-color="#aff7a4"/><stop offset="0.4335" stop-color="#c0fb9e"/><stop offset="0.4598" stop-color="#c0fb9e"/><stop offset="0.4657" stop-color="#b7f9a1"/><stop offset="0.9073" stop-color="#b7f9a1"/><stop offset="0.9132" stop-color="#c0fb9e"/><stop offset="0.9265" stop-color="#c0fb9e"/><stop offset="0.9323" stop-color="#aff7a4"/><stop offset="0.9503" stop-color="#aff7a4"/><stop offset="0.9561" stop-color="#c0fb9e"/><stop offset="1.0000" stop-color="#c0fb9e"/></linearGradient><linearGradient id="hr8" gradientUnits="userSpaceOnUse" x1="819.0" y1="0" x2="1248.1" y2="0"><stop offset="0.0000" stop-color="#25b8ff"/><stop offset="0.0163" stop-color="#35c0ff"/><stop offset="0.0221" stop-color="#55d5f6"/><stop offset="0.0280" stop-color="#68e5e7"/><stop offset="0.0338" stop-color="#74ebd4"/><stop offset="0.0396" stop-color="#87ecbb"/><stop offset="0.0454" stop-color="#a6f4a8"/><stop offset="0.0513" stop-color="#c0fb9e"/><stop offset="0.0520" stop-color="#aff7a4"/><stop offset="0.1519" stop-color="#aff7a4"/><stop offset="0.1577" stop-color="#c0fb9e"/><stop offset="0.2200" stop-color="#c0fb9e"/><stop offset="0.2258" stop-color="#acf6a5"/><stop offset="0.2958" stop-color="#acf6a5"/><stop offset="0.3016" stop-color="#c0fb9e"/><stop offset="0.3099" stop-color="#c0fb9e"/><stop offset="0.3158" stop-color="#a7f4a8"/><stop offset="0.3438" stop-color="#a7f4a8"/><stop offset="0.3496" stop-color="#c0fb9e"/><stop offset="0.3629" stop-color="#c0fb9e"/><stop offset="0.3658" stop-color="#b1f8a3"/><stop offset="0.3687" stop-color="#a1f2aa"/><stop offset="0.3867" stop-color="#a1f2aa"/><stop offset="0.3896" stop-color="#b1f8a3"/><stop offset="0.3925" stop-color="#c0fb9e"/><stop offset="0.4239" stop-color="#c0fb9e"/><stop offset="0.4297" stop-color="#aaf5a7"/><stop offset="0.4517" stop-color="#aaf5a7"/><stop offset="0.4575" stop-color="#c0fb9e"/><stop offset="0.4838" stop-color="#c0fb9e"/><stop offset="0.4896" stop-color="#acf6a5"/><stop offset="0.5116" stop-color="#acf6a5"/><stop offset="0.5175" stop-color="#c0fb9e"/><stop offset="0.5797" stop-color="#c0fb9e"/><stop offset="0.5856" stop-color="#b2f8a3"/><stop offset="0.7634" stop-color="#b2f8a3"/><stop offset="0.7693" stop-color="#c0fb9e"/><stop offset="0.9035" stop-color="#c0fb9e"/><stop offset="0.9093" stop-color="#aff7a4"/><stop offset="0.9913" stop-color="#aff7a4"/><stop offset="0.9971" stop-color="#c0fb9e"/><stop offset="1.0000" stop-color="#c0fb9e"/></linearGradient><linearGradient id="hr9" gradientUnits="userSpaceOnUse" x1="819.0" y1="0" x2="1248.1" y2="0"><stop offset="0.0000" stop-color="#2cbbff"/><stop offset="0.0163" stop-color="#3bc3ff"/><stop offset="0.0233" stop-color="#62dff1"/><stop offset="0.0303" stop-color="#6deade"/><stop offset="0.0373" stop-color="#7febc2"/><stop offset="0.0443" stop-color="#a2f3aa"/><stop offset="0.0513" stop-color="#c0fb9e"/><stop offset="0.0520" stop-color="#bafaa0"/><stop offset="0.2238" stop-color="#bafaa0"/><stop offset="0.2297" stop-color="#c0fb9e"/><stop offset="0.2440" stop-color="#c0fb9e"/><stop offset="0.2498" stop-color="#acf6a5"/><stop offset="0.3917" stop-color="#acf6a5"/><stop offset="0.3975" stop-color="#c0fb9e"/><stop offset="0.4239" stop-color="#c0fb9e"/><stop offset="0.4297" stop-color="#aff7a4"/><stop offset="0.5116" stop-color="#aff7a4"/><stop offset="0.5175" stop-color="#c0fb9e"/><stop offset="0.5797" stop-color="#c0fb9e"/><stop offset="0.5856" stop-color="#b7f9a1"/><stop offset="0.9073" stop-color="#b7f9a1"/><stop offset="0.9132" stop-color="#c0fb9e"/><stop offset="0.9265" stop-color="#c0fb9e"/><stop offset="0.9323" stop-color="#acf6a5"/><stop offset="0.9503" stop-color="#acf6a5"/><stop offset="0.9561" stop-color="#c0fb9e"/><stop offset="1.0000" stop-color="#c0fb9e"/></linearGradient><linearGradient id="hr10" gradientUnits="userSpaceOnUse" x1="819.0" y1="0" x2="1248.1" y2="0"><stop offset="0.0000" stop-color="#32beff"/><stop offset="0.0163" stop-color="#43c8fc"/><stop offset="0.0233" stop-color="#65e2ee"/><stop offset="0.0303" stop-color="#6eebdb"/><stop offset="0.0373" stop-color="#81ebc0"/><stop offset="0.0443" stop-color="#a3f3a9"/><stop offset="0.0513" stop-color="#c0fb9e"/><stop offset="0.0520" stop-color="#c5fc9c"/><stop offset="0.2238" stop-color="#c5fc9c"/><stop offset="0.2297" stop-color="#c0fb9e"/><stop offset="0.2440" stop-color="#c0fb9e"/><stop offset="0.2498" stop-color="#b5f9a2"/><stop offset="0.3318" stop-color="#b5f9a2"/><stop offset="0.3376" stop-color="#c0fb9e"/><stop offset="0.3519" stop-color="#c0fb9e"/><stop offset="0.3577" stop-color="#acf6a5"/><stop offset="0.3917" stop-color="#acf6a5"/><stop offset="0.3975" stop-color="#c0fb9e"/><stop offset="0.4239" stop-color="#c0fb9e"/><stop offset="0.4297" stop-color="#b5f9a2"/><stop offset="0.4876" stop-color="#b5f9a2"/><stop offset="0.4935" stop-color="#c0fb9e"/><stop offset="0.5198" stop-color="#c0fb9e"/><stop offset="0.5256" stop-color="#bdfa9f"/><stop offset="0.9073" stop-color="#bdfa9f"/><stop offset="0.9132" stop-color="#c0fb9e"/><stop offset="0.9265" stop-color="#c0fb9e"/><stop offset="0.9323" stop-color="#acf6a5"/><stop offset="0.9503" stop-color="#acf6a5"/><stop offset="0.9561" stop-color="#c0fb9e"/><stop offset="1.0000" stop-color="#c0fb9e"/></linearGradient><linearGradient id="hr11" gradientUnits="userSpaceOnUse" x1="819.0" y1="0" x2="1248.1" y2="0"><stop offset="0.0000" stop-color="#32beff"/><stop offset="0.0163" stop-color="#43c8fc"/><stop offset="0.0233" stop-color="#65e2ee"/><stop offset="0.0303" stop-color="#6eebdb"/><stop offset="0.0373" stop-color="#81ebc0"/><stop offset="0.0443" stop-color="#a3f3a9"/><stop offset="0.0513" stop-color="#c0fb9e"/><stop offset="0.0520" stop-color="#c5fc9c"/><stop offset="0.2238" stop-color="#c5fc9c"/><stop offset="0.2297" stop-color="#c0fb9e"/><stop offset="0.2440" stop-color="#c0fb9e"/><stop offset="0.2498" stop-color="#b5f9a2"/><stop offset="0.3318" stop-color="#b5f9a2"/><stop offset="0.3376" stop-color="#c0fb9e"/><stop offset="0.3519" stop-color="#c0fb9e"/><stop offset="0.3577" stop-color="#acf6a5"/><stop offset="0.3917" stop-color="#acf6a5"/><stop offset="0.3975" stop-color="#c0fb9e"/><stop offset="0.4239" stop-color="#c0fb9e"/><stop offset="0.4297" stop-color="#b5f9a2"/><stop offset="0.4876" stop-color="#b5f9a2"/><stop offset="0.4935" stop-color="#c0fb9e"/><stop offset="0.5198" stop-color="#c0fb9e"/><stop offset="0.5256" stop-color="#bdfa9f"/><stop offset="0.9073" stop-color="#bdfa9f"/><stop offset="0.9132" stop-color="#c0fb9e"/><stop offset="0.9265" stop-color="#c0fb9e"/><stop offset="0.9323" stop-color="#acf6a5"/><stop offset="0.9503" stop-color="#acf6a5"/><stop offset="0.9561" stop-color="#c0fb9e"/><stop offset="1.0000" stop-color="#c0fb9e"/></linearGradient><linearGradient id="hr12" gradientUnits="userSpaceOnUse" x1="819.0" y1="0" x2="1248.1" y2="0"><stop offset="0.0000" stop-color="#32beff"/><stop offset="0.0163" stop-color="#43c8fc"/><stop offset="0.0233" stop-color="#65e2ee"/><stop offset="0.0303" stop-color="#6eebdb"/><stop offset="0.0373" stop-color="#81ebc0"/><stop offset="0.0443" stop-color="#a3f3a9"/><stop offset="0.0513" stop-color="#c0fb9e"/><stop offset="0.0520" stop-color="#c5fc9c"/><stop offset="0.2238" stop-color="#c5fc9c"/><stop offset="0.2297" stop-color="#c0fb9e"/><stop offset="0.2440" stop-color="#c0fb9e"/><stop offset="0.2498" stop-color="#b7f9a1"/><stop offset="0.3318" stop-color="#b7f9a1"/><stop offset="0.3376" stop-color="#c0fb9e"/><stop offset="0.3519" stop-color="#c0fb9e"/><stop offset="0.3577" stop-color="#aff7a4"/><stop offset="0.3917" stop-color="#aff7a4"/><stop offset="0.3975" stop-color="#c0fb9e"/><stop offset="0.4239" stop-color="#c0fb9e"/><stop offset="0.4297" stop-color="#b7f9a1"/><stop offset="0.4876" stop-color="#b7f9a1"/><stop offset="0.4935" stop-color="#c0fb9e"/><stop offset="0.5198" stop-color="#c0fb9e"/><stop offset="0.5256" stop-color="#c0fb9e"/><stop offset="0.9073" stop-color="#c0fb9e"/><stop offset="0.9132" stop-color="#c0fb9e"/><stop offset="0.9265" stop-color="#c0fb9e"/><stop offset="0.9323" stop-color="#acf6a5"/><stop offset="0.9503" stop-color="#acf6a5"/><stop offset="0.9561" stop-color="#c0fb9e"/><stop offset="1.0000" stop-color="#c0fb9e"/></linearGradient><linearGradient id="hr13" gradientUnits="userSpaceOnUse" x1="819.0" y1="0" x2="1248.1" y2="0"><stop offset="0.0000" stop-color="#52d3f7"/><stop offset="0.0163" stop-color="#62e0f1"/><stop offset="0.0251" stop-color="#6deade"/><stop offset="0.0338" stop-color="#7febc2"/><stop offset="0.0425" stop-color="#a2f3aa"/><stop offset="0.0513" stop-color="#c0fb9e"/><stop offset="0.0520" stop-color="#c2fb9d"/><stop offset="0.2238" stop-color="#c2fb9d"/><stop offset="0.2297" stop-color="#c0fb9e"/><stop offset="0.2440" stop-color="#c0fb9e"/><stop offset="0.2498" stop-color="#b2f8a3"/><stop offset="0.4277" stop-color="#b2f8a3"/><stop offset="0.4335" stop-color="#c0fb9e"/><stop offset="0.4598" stop-color="#c0fb9e"/><stop offset="0.4657" stop-color="#bdfa9f"/><stop offset="0.9073" stop-color="#bdfa9f"/><stop offset="0.9132" stop-color="#c0fb9e"/><stop offset="0.9265" stop-color="#c0fb9e"/><stop offset="0.9323" stop-color="#b2f8a3"/><stop offset="0.9503" stop-color="#b2f8a3"/><stop offset="0.9561" stop-color="#c0fb9e"/><stop offset="1.0000" stop-color="#c0fb9e"/></linearGradient><linearGradient id="hr14" gradientUnits="userSpaceOnUse" x1="819.0" y1="0" x2="1248.1" y2="0"><stop offset="0.0000" stop-color="#6ae7e3"/><stop offset="0.0163" stop-color="#6deadd"/><stop offset="0.0280" stop-color="#80ebc1"/><stop offset="0.0396" stop-color="#a2f3aa"/><stop offset="0.0513" stop-color="#c0fb9e"/><stop offset="0.8975" stop-color="#c0fb9e"/><stop offset="0.9033" stop-color="#b5f9a2"/><stop offset="0.9313" stop-color="#b5f9a2"/><stop offset="0.9371" stop-color="#c0fb9e"/><stop offset="1.0000" stop-color="#c0fb9e"/></linearGradient><linearGradient id="hr15" gradientUnits="userSpaceOnUse" x1="819.0" y1="0" x2="1248.1" y2="0"><stop offset="0.0000" stop-color="#74ebd4"/><stop offset="0.0163" stop-color="#78ebcc"/><stop offset="0.0280" stop-color="#8dedb7"/><stop offset="0.0396" stop-color="#a8f5a7"/><stop offset="0.0513" stop-color="#c0fb9e"/><stop offset="1.0000" stop-color="#c0fb9e"/></linearGradient><linearGradient id="hr16" gradientUnits="userSpaceOnUse" x1="819.0" y1="0" x2="1248.1" y2="0"><stop offset="0.0000" stop-color="#81ebc0"/><stop offset="0.0163" stop-color="#86ecbb"/><stop offset="0.0338" stop-color="#a6f4a8"/><stop offset="0.0513" stop-color="#c0fb9e"/><stop offset="1.0000" stop-color="#c0fb9e"/></linearGradient><linearGradient id="hr17" gradientUnits="userSpaceOnUse" x1="819.0" y1="0" x2="1248.1" y2="0"><stop offset="0.0000" stop-color="#a1f2aa"/><stop offset="0.0163" stop-color="#a4f3a9"/><stop offset="0.0513" stop-color="#c0fb9e"/><stop offset="1.0000" stop-color="#c0fb9e"/></linearGradient><linearGradient id="hr18" gradientUnits="userSpaceOnUse" x1="819.0" y1="0" x2="1248.1" y2="0"><stop offset="0.0000" stop-color="#a1f2aa"/><stop offset="0.0163" stop-color="#a4f3a9"/><stop offset="0.0513" stop-color="#c0fb9e"/><stop offset="0.9565" stop-color="#c0fb9e"/><stop offset="0.9623" stop-color="#b5f9a2"/><stop offset="0.9803" stop-color="#b5f9a2"/><stop offset="0.9861" stop-color="#c0fb9e"/><stop offset="1.0000" stop-color="#c0fb9e"/></linearGradient><linearGradient id="hr19" gradientUnits="userSpaceOnUse" x1="819.0" y1="0" x2="1248.1" y2="0"><stop offset="0.0000" stop-color="#a8f5a7"/><stop offset="0.0163" stop-color="#aaf5a6"/><stop offset="0.0513" stop-color="#c0fb9e"/><stop offset="1.0000" stop-color="#c0fb9e"/></linearGradient><linearGradient id="cbar" x1="0" y1="0" x2="1" y2="0"><stop offset="0.0000" stop-color="#23007d"/><stop offset="0.0294" stop-color="#320096"/><stop offset="0.0588" stop-color="#1e00aa"/><stop offset="0.1025" stop-color="#0005c8"/><stop offset="0.1461" stop-color="#001edc"/><stop offset="0.1746" stop-color="#0f46e6"/><stop offset="0.1898" stop-color="#1964f0"/><stop offset="0.2324" stop-color="#0f82fa"/><stop offset="0.2619" stop-color="#1eb4ff"/><stop offset="0.3055" stop-color="#3cc3ff"/><stop offset="0.3491" stop-color="#64e1f0"/><stop offset="0.3928" stop-color="#6eebdc"/><stop offset="0.4364" stop-color="#82ebbe"/><stop offset="0.4658" stop-color="#9df1ac"/><stop offset="0.4943" stop-color="#b2f8a3"/><stop offset="0.5237" stop-color="#c7fc9b"/><stop offset="0.5664" stop-color="#ebf078"/><stop offset="0.6101" stop-color="#f8d769"/><stop offset="0.6537" stop-color="#fcb955"/><stop offset="0.6831" stop-color="#fd9b46"/><stop offset="0.7125" stop-color="#f5734b"/><stop offset="0.7410" stop-color="#f05055"/><stop offset="0.7704" stop-color="#ff5f64"/><stop offset="0.8140" stop-color="#ff8c8c"/><stop offset="0.8577" stop-color="#f8afaa"/><stop offset="0.9013" stop-color="#ffc8c8"/><stop offset="0.9450" stop-color="#ffe1e1"/><stop offset="0.9972" stop-color="#ffffff"/></linearGradient></defs>
<rect x="126.6" y="898.4" width="32.5" height="594.2" fill="#d7d7d7"/>
<rect x="192.0" y="898.4" width="16.7" height="594.2" fill="#d7d7d7"/>
<rect x="208.4" y="898.4" width="576.1" height="39.8" fill="url(#hl0)"/>
<rect x="159.1" y="898.4" width="32.9" height="39.8" fill="url(#hs0)"/>
<rect x="208.4" y="937.6" width="576.1" height="55.1" fill="url(#hl1)"/>
<rect x="159.1" y="937.6" width="32.9" height="55.1" fill="url(#hs1)"/>
<rect x="208.4" y="992.1" width="576.1" height="55.4" fill="url(#hl2)"/>
<rect x="159.1" y="992.1" width="32.9" height="55.4" fill="url(#hs2)"/>
<rect x="208.4" y="1046.9" width="576.1" height="54.6" fill="url(#hl3)"/>
<rect x="159.1" y="1046.9" width="32.9" height="54.6" fill="url(#hs3)"/>
<rect x="208.4" y="1100.9" width="576.1" height="54.5" fill="url(#hl4)"/>
<rect x="159.1" y="1100.9" width="32.9" height="54.5" fill="url(#hs4)"/>
<rect x="208.4" y="1154.8" width="576.1" height="53.7" fill="url(#hl5)"/>
<rect x="159.1" y="1154.8" width="32.9" height="53.7" fill="url(#hs5)"/>
<rect x="208.4" y="1207.9" width="576.1" height="43.4" fill="url(#hl6)"/>
<rect x="159.1" y="1207.9" width="32.9" height="43.4" fill="url(#hs6)"/>
<rect x="208.4" y="1250.7" width="576.1" height="31.9" fill="url(#hl7)"/>
<rect x="159.1" y="1250.7" width="32.9" height="31.9" fill="url(#hs7)"/>
<rect x="208.4" y="1282.0" width="576.1" height="23.7" fill="url(#hl8)"/>
<rect x="159.1" y="1282.0" width="32.9" height="23.7" fill="url(#hs8)"/>
<rect x="208.4" y="1305.1" width="576.1" height="15.4" fill="url(#hl9)"/>
<rect x="159.1" y="1305.1" width="32.9" height="15.4" fill="url(#hs9)"/>
<rect x="208.4" y="1319.9" width="576.1" height="20.4" fill="url(#hl10)"/>
<rect x="159.1" y="1319.9" width="32.9" height="20.4" fill="url(#hs10)"/>
<rect x="208.4" y="1339.7" width="576.1" height="26.8" fill="url(#hl11)"/>
<rect x="159.1" y="1339.7" width="32.9" height="26.8" fill="url(#hs11)"/>
<rect x="208.4" y="1365.9" width="576.1" height="21.0" fill="url(#hl12)"/>
<rect x="159.1" y="1365.9" width="32.9" height="21.0" fill="url(#hs12)"/>
<rect x="208.4" y="1386.3" width="576.1" height="16.5" fill="url(#hl13)"/>
<rect x="159.1" y="1386.3" width="32.9" height="16.5" fill="url(#hs13)"/>
<rect x="208.4" y="1402.2" width="576.1" height="14.9" fill="url(#hl14)"/>
<rect x="159.1" y="1402.2" width="32.9" height="14.9" fill="url(#hs14)"/>
<rect x="208.4" y="1416.5" width="576.1" height="15.2" fill="url(#hl15)"/>
<rect x="159.1" y="1416.5" width="32.9" height="15.2" fill="url(#hs15)"/>
<rect x="208.4" y="1431.1" width="576.1" height="17.1" fill="url(#hl16)"/>
<rect x="159.1" y="1431.1" width="32.9" height="17.1" fill="url(#hs16)"/>
<rect x="208.4" y="1447.6" width="576.1" height="20.0" fill="url(#hl17)"/>
<rect x="159.1" y="1447.6" width="32.9" height="20.0" fill="url(#hs17)"/>
<rect x="208.4" y="1467.0" width="576.1" height="15.2" fill="url(#hl18)"/>
<rect x="159.1" y="1467.0" width="32.9" height="15.2" fill="url(#hs18)"/>
<rect x="208.4" y="1481.6" width="576.1" height="14.2" fill="url(#hl19)"/>
<rect x="159.1" y="1481.6" width="32.9" height="14.2" fill="url(#hs19)"/>
<rect x="819.0" y="897.8" width="429.1" height="39.1" fill="url(#hr0)"/>
<rect x="819.0" y="936.3" width="429.1" height="55.9" fill="url(#hr1)"/>
<rect x="819.0" y="991.6" width="429.1" height="55.2" fill="url(#hr2)"/>
<rect x="819.0" y="1046.2" width="429.1" height="54.1" fill="url(#hr3)"/>
<rect x="819.0" y="1099.7" width="429.1" height="53.3" fill="url(#hr4)"/>
<rect x="819.0" y="1152.4" width="429.1" height="53.6" fill="url(#hr5)"/>
<rect x="819.0" y="1205.4" width="429.1" height="44.4" fill="url(#hr6)"/>
<rect x="819.0" y="1249.2" width="429.1" height="31.4" fill="url(#hr7)"/>
<rect x="819.0" y="1280.0" width="429.1" height="23.8" fill="url(#hr8)"/>
<rect x="819.0" y="1303.2" width="429.1" height="14.7" fill="url(#hr9)"/>
<rect x="819.0" y="1317.3" width="429.1" height="21.2" fill="url(#hr10)"/>
<rect x="819.0" y="1337.9" width="429.1" height="26.4" fill="url(#hr11)"/>
<rect x="819.0" y="1363.7" width="429.1" height="21.1" fill="url(#hr12)"/>
<rect x="819.0" y="1384.2" width="429.1" height="18.6" fill="url(#hr13)"/>
<rect x="819.0" y="1402.2" width="429.1" height="12.2" fill="url(#hr14)"/>
<rect x="819.0" y="1413.8" width="429.1" height="16.1" fill="url(#hr15)"/>
<rect x="819.0" y="1429.3" width="429.1" height="16.0" fill="url(#hr16)"/>
<rect x="819.0" y="1444.7" width="429.1" height="19.9" fill="url(#hr17)"/>
<rect x="819.0" y="1464.0" width="429.1" height="14.7" fill="url(#hr18)"/>
<rect x="819.0" y="1478.1" width="429.1" height="16.1" fill="url(#hr19)"/>
<defs><linearGradient id="txl" gradientUnits="userSpaceOnUse" x1="208.4" y1="0" x2="784.5" y2="0"><stop offset="0.000" stop-color="#82ebbe" stop-opacity="0.00"/><stop offset="0.006" stop-color="#ebf078" stop-opacity="0.00"/><stop offset="0.012" stop-color="#ebf078" stop-opacity="0.00"/><stop offset="0.019" stop-color="#82ebbe" stop-opacity="0.15"/><stop offset="0.025" stop-color="#ebf078" stop-opacity="0.06"/><stop offset="0.032" stop-color="#82ebbe" stop-opacity="0.19"/><stop offset="0.038" stop-color="#82ebbe" stop-opacity="0.19"/><stop offset="0.045" stop-color="#ebf078" stop-opacity="0.09"/><stop offset="0.049" stop-color="#ebf078" stop-opacity="0.22"/><stop offset="0.057" stop-color="#ebf078" stop-opacity="0.07"/><stop offset="0.064" stop-color="#82ebbe" stop-opacity="0.16"/><stop offset="0.068" stop-color="#ebf078" stop-opacity="0.01"/><stop offset="0.072" stop-color="#82ebbe" stop-opacity="0.14"/><stop offset="0.076" stop-color="#82ebbe" stop-opacity="0.22"/><stop offset="0.082" stop-color="#82ebbe" stop-opacity="0.03"/><stop offset="0.090" stop-color="#ebf078" stop-opacity="0.01"/><stop offset="0.097" stop-color="#82ebbe" stop-opacity="0.00"/><stop offset="0.104" stop-color="#82ebbe" stop-opacity="0.02"/><stop offset="0.109" stop-color="#ebf078" stop-opacity="0.23"/><stop offset="0.117" stop-color="#ebf078" stop-opacity="0.16"/><stop offset="0.124" stop-color="#82ebbe" stop-opacity="0.08"/><stop offset="0.129" stop-color="#82ebbe" stop-opacity="0.10"/><stop offset="0.133" stop-color="#ebf078" stop-opacity="0.12"/><stop offset="0.139" stop-color="#ebf078" stop-opacity="0.16"/><stop offset="0.144" stop-color="#ebf078" stop-opacity="0.21"/><stop offset="0.152" stop-color="#82ebbe" stop-opacity="0.23"/><stop offset="0.157" stop-color="#ebf078" stop-opacity="0.19"/><stop offset="0.162" stop-color="#ebf078" stop-opacity="0.22"/><stop offset="0.168" stop-color="#82ebbe" stop-opacity="0.20"/><stop offset="0.175" stop-color="#ebf078" stop-opacity="0.13"/><stop offset="0.180" stop-color="#82ebbe" stop-opacity="0.19"/><stop offset="0.185" stop-color="#ebf078" stop-opacity="0.21"/><stop offset="0.192" stop-color="#82ebbe" stop-opacity="0.18"/><stop offset="0.197" stop-color="#82ebbe" stop-opacity="0.18"/><stop offset="0.201" stop-color="#ebf078" stop-opacity="0.14"/><stop offset="0.206" stop-color="#ebf078" stop-opacity="0.03"/><stop offset="0.211" stop-color="#82ebbe" stop-opacity="0.14"/><stop offset="0.219" stop-color="#82ebbe" stop-opacity="0.00"/><stop offset="0.225" stop-color="#82ebbe" stop-opacity="0.00"/><stop offset="0.231" stop-color="#82ebbe" stop-opacity="0.00"/><stop offset="0.236" stop-color="#ebf078" stop-opacity="0.00"/><stop offset="0.244" stop-color="#82ebbe" stop-opacity="0.00"/><stop offset="0.252" stop-color="#82ebbe" stop-opacity="0.00"/><stop offset="0.257" stop-color="#ebf078" stop-opacity="0.00"/><stop offset="0.264" stop-color="#82ebbe" stop-opacity="0.00"/><stop offset="0.272" stop-color="#82ebbe" stop-opacity="0.13"/><stop offset="0.277" stop-color="#ebf078" stop-opacity="0.13"/><stop offset="0.282" stop-color="#82ebbe" stop-opacity="0.09"/><stop offset="0.286" stop-color="#82ebbe" stop-opacity="0.19"/><stop offset="0.293" stop-color="#82ebbe" stop-opacity="0.12"/><stop offset="0.299" stop-color="#82ebbe" stop-opacity="0.06"/><stop offset="0.305" stop-color="#ebf078" stop-opacity="0.21"/><stop offset="0.311" stop-color="#ebf078" stop-opacity="0.03"/><stop offset="0.319" stop-color="#82ebbe" stop-opacity="0.15"/><stop offset="0.324" stop-color="#ebf078" stop-opacity="0.19"/><stop offset="0.331" stop-color="#82ebbe" stop-opacity="0.12"/><stop offset="0.336" stop-color="#ebf078" stop-opacity="0.11"/><stop offset="0.344" stop-color="#82ebbe" stop-opacity="0.14"/><stop offset="0.352" stop-color="#ebf078" stop-opacity="0.18"/><stop offset="0.359" stop-color="#82ebbe" stop-opacity="0.04"/><stop offset="0.363" stop-color="#82ebbe" stop-opacity="0.21"/><stop offset="0.371" stop-color="#82ebbe" stop-opacity="0.12"/><stop offset="0.378" stop-color="#82ebbe" stop-opacity="0.11"/><stop offset="0.386" stop-color="#ebf078" stop-opacity="0.04"/><stop offset="0.391" stop-color="#82ebbe" stop-opacity="0.15"/><stop offset="0.398" stop-color="#82ebbe" stop-opacity="0.20"/><stop offset="0.403" stop-color="#ebf078" stop-opacity="0.03"/><stop offset="0.411" stop-color="#ebf078" stop-opacity="0.05"/><stop offset="0.416" stop-color="#ebf078" stop-opacity="0.19"/><stop offset="0.420" stop-color="#82ebbe" stop-opacity="0.22"/><stop offset="0.425" stop-color="#82ebbe" stop-opacity="0.02"/><stop offset="0.429" stop-color="#82ebbe" stop-opacity="0.15"/><stop offset="0.435" stop-color="#ebf078" stop-opacity="0.03"/><stop offset="0.439" stop-color="#82ebbe" stop-opacity="0.06"/><stop offset="0.447" stop-color="#ebf078" stop-opacity="0.22"/><stop offset="0.454" stop-color="#ebf078" stop-opacity="0.09"/><stop offset="0.460" stop-color="#82ebbe" stop-opacity="0.16"/><stop offset="0.464" stop-color="#82ebbe" stop-opacity="0.22"/><stop offset="0.472" stop-color="#ebf078" stop-opacity="0.09"/><stop offset="0.481" stop-color="#82ebbe" stop-opacity="0.21"/><stop offset="0.487" stop-color="#82ebbe" stop-opacity="0.01"/><stop offset="0.494" stop-color="#82ebbe" stop-opacity="0.08"/><stop offset="0.503" stop-color="#82ebbe" stop-opacity="0.17"/><stop offset="0.509" stop-color="#ebf078" stop-opacity="0.10"/><stop offset="0.517" stop-color="#ebf078" stop-opacity="0.09"/><stop offset="0.524" stop-color="#ebf078" stop-opacity="0.11"/><stop offset="0.532" stop-color="#82ebbe" stop-opacity="0.06"/><stop offset="0.539" stop-color="#ebf078" stop-opacity="0.15"/><stop offset="0.547" stop-color="#82ebbe" stop-opacity="0.03"/><stop offset="0.555" stop-color="#ebf078" stop-opacity="0.13"/><stop offset="0.561" stop-color="#ebf078" stop-opacity="0.04"/><stop offset="0.567" stop-color="#ebf078" stop-opacity="0.03"/><stop offset="0.573" stop-color="#82ebbe" stop-opacity="0.14"/><stop offset="0.580" stop-color="#ebf078" stop-opacity="0.16"/><stop offset="0.588" stop-color="#ebf078" stop-opacity="0.07"/><stop offset="0.594" stop-color="#ebf078" stop-opacity="0.07"/><stop offset="0.600" stop-color="#82ebbe" stop-opacity="0.02"/><stop offset="0.608" stop-color="#82ebbe" stop-opacity="0.12"/><stop offset="0.615" stop-color="#82ebbe" stop-opacity="0.14"/><stop offset="0.622" stop-color="#82ebbe" stop-opacity="0.01"/><stop offset="0.626" stop-color="#ebf078" stop-opacity="0.06"/><stop offset="0.632" stop-color="#ebf078" stop-opacity="0.03"/><stop offset="0.641" stop-color="#82ebbe" stop-opacity="0.06"/><stop offset="0.644" stop-color="#82ebbe" stop-opacity="0.05"/><stop offset="0.651" stop-color="#82ebbe" stop-opacity="0.07"/><stop offset="0.656" stop-color="#ebf078" stop-opacity="0.10"/><stop offset="0.663" stop-color="#82ebbe" stop-opacity="0.01"/><stop offset="0.671" stop-color="#82ebbe" stop-opacity="0.04"/><stop offset="0.677" stop-color="#82ebbe" stop-opacity="0.07"/><stop offset="0.683" stop-color="#ebf078" stop-opacity="0.07"/><stop offset="0.691" stop-color="#ebf078" stop-opacity="0.08"/><stop offset="0.697" stop-color="#ebf078" stop-opacity="0.02"/><stop offset="0.702" stop-color="#82ebbe" stop-opacity="0.07"/><stop offset="0.708" stop-color="#ebf078" stop-opacity="0.06"/><stop offset="0.716" stop-color="#ebf078" stop-opacity="0.04"/><stop offset="0.724" stop-color="#82ebbe" stop-opacity="0.04"/><stop offset="0.728" stop-color="#82ebbe" stop-opacity="0.01"/><stop offset="0.733" stop-color="#82ebbe" stop-opacity="0.05"/><stop offset="0.739" stop-color="#ebf078" stop-opacity="0.02"/><stop offset="0.745" stop-color="#82ebbe" stop-opacity="0.03"/><stop offset="0.753" stop-color="#ebf078" stop-opacity="0.09"/><stop offset="0.759" stop-color="#82ebbe" stop-opacity="0.08"/><stop offset="0.763" stop-color="#ebf078" stop-opacity="0.07"/><stop offset="0.766" stop-color="#ebf078" stop-opacity="0.04"/><stop offset="0.773" stop-color="#82ebbe" stop-opacity="0.04"/><stop offset="0.780" stop-color="#82ebbe" stop-opacity="0.09"/><stop offset="0.785" stop-color="#82ebbe" stop-opacity="0.01"/><stop offset="0.788" stop-color="#ebf078" stop-opacity="0.06"/><stop offset="0.793" stop-color="#82ebbe" stop-opacity="0.07"/><stop offset="0.797" stop-color="#ebf078" stop-opacity="0.02"/><stop offset="0.803" stop-color="#ebf078" stop-opacity="0.02"/><stop offset="0.810" stop-color="#ebf078" stop-opacity="0.06"/><stop offset="0.818" stop-color="#ebf078" stop-opacity="0.03"/><stop offset="0.823" stop-color="#82ebbe" stop-opacity="0.00"/><stop offset="0.827" stop-color="#82ebbe" stop-opacity="0.09"/><stop offset="0.833" stop-color="#ebf078" stop-opacity="0.04"/><stop offset="0.838" stop-color="#82ebbe" stop-opacity="0.04"/><stop offset="0.843" stop-color="#ebf078" stop-opacity="0.04"/><stop offset="0.849" stop-color="#ebf078" stop-opacity="0.02"/><stop offset="0.856" stop-color="#82ebbe" stop-opacity="0.02"/><stop offset="0.864" stop-color="#ebf078" stop-opacity="0.07"/><stop offset="0.868" stop-color="#ebf078" stop-opacity="0.08"/><stop offset="0.875" stop-color="#82ebbe" stop-opacity="0.07"/><stop offset="0.881" stop-color="#ebf078" stop-opacity="0.02"/><stop offset="0.889" stop-color="#82ebbe" stop-opacity="0.02"/><stop offset="0.895" stop-color="#ebf078" stop-opacity="0.07"/><stop offset="0.903" stop-color="#ebf078" stop-opacity="0.08"/><stop offset="0.909" stop-color="#ebf078" stop-opacity="0.03"/><stop offset="0.913" stop-color="#ebf078" stop-opacity="0.04"/><stop offset="0.921" stop-color="#ebf078" stop-opacity="0.03"/><stop offset="0.928" stop-color="#82ebbe" stop-opacity="0.05"/><stop offset="0.936" stop-color="#ebf078" stop-opacity="0.09"/><stop offset="0.945" stop-color="#ebf078" stop-opacity="0.01"/><stop offset="0.952" stop-color="#82ebbe" stop-opacity="0.03"/><stop offset="0.960" stop-color="#ebf078" stop-opacity="0.07"/><stop offset="0.966" stop-color="#82ebbe" stop-opacity="0.08"/><stop offset="0.971" stop-color="#ebf078" stop-opacity="0.01"/><stop offset="0.979" stop-color="#82ebbe" stop-opacity="0.00"/><stop offset="0.983" stop-color="#ebf078" stop-opacity="0.00"/><stop offset="0.986" stop-color="#ebf078" stop-opacity="0.00"/><stop offset="0.991" stop-color="#82ebbe" stop-opacity="0.00"/><stop offset="0.998" stop-color="#82ebbe" stop-opacity="0.00"/></linearGradient></defs>
<rect x="208.4" y="937.6" width="576.1" height="313.1" fill="url(#txl)"/>
<rect x="513.1" y="1250.7" width="271.4" height="165.8" fill="url(#txl)"/>
<rect x="208.4" y="1416.5" width="576.1" height="78.7" fill="url(#txl)"/>
<defs><linearGradient id="txr" gradientUnits="userSpaceOnUse" x1="839.0" y1="0" x2="1248.1" y2="0"><stop offset="0.000" stop-color="#ebf078" stop-opacity="0.04"/><stop offset="0.011" stop-color="#ebf078" stop-opacity="0.10"/><stop offset="0.024" stop-color="#ebf078" stop-opacity="0.08"/><stop offset="0.036" stop-color="#82ebbe" stop-opacity="0.16"/><stop offset="0.045" stop-color="#ebf078" stop-opacity="0.15"/><stop offset="0.056" stop-color="#ebf078" stop-opacity="0.14"/><stop offset="0.062" stop-color="#82ebbe" stop-opacity="0.01"/><stop offset="0.069" stop-color="#ebf078" stop-opacity="0.01"/><stop offset="0.079" stop-color="#82ebbe" stop-opacity="0.17"/><stop offset="0.086" stop-color="#82ebbe" stop-opacity="0.07"/><stop offset="0.099" stop-color="#ebf078" stop-opacity="0.09"/><stop offset="0.106" stop-color="#ebf078" stop-opacity="0.10"/><stop offset="0.112" stop-color="#ebf078" stop-opacity="0.04"/><stop offset="0.119" stop-color="#82ebbe" stop-opacity="0.17"/><stop offset="0.131" stop-color="#82ebbe" stop-opacity="0.10"/><stop offset="0.138" stop-color="#ebf078" stop-opacity="0.16"/><stop offset="0.150" stop-color="#82ebbe" stop-opacity="0.07"/><stop offset="0.163" stop-color="#ebf078" stop-opacity="0.01"/><stop offset="0.173" stop-color="#82ebbe" stop-opacity="0.10"/><stop offset="0.186" stop-color="#ebf078" stop-opacity="0.06"/><stop offset="0.199" stop-color="#ebf078" stop-opacity="0.13"/><stop offset="0.206" stop-color="#82ebbe" stop-opacity="0.05"/><stop offset="0.213" stop-color="#82ebbe" stop-opacity="0.12"/><stop offset="0.219" stop-color="#82ebbe" stop-opacity="0.07"/><stop offset="0.229" stop-color="#82ebbe" stop-opacity="0.17"/><stop offset="0.240" stop-color="#82ebbe" stop-opacity="0.06"/><stop offset="0.248" stop-color="#ebf078" stop-opacity="0.11"/><stop offset="0.257" stop-color="#82ebbe" stop-opacity="0.06"/><stop offset="0.266" stop-color="#ebf078" stop-opacity="0.07"/><stop offset="0.272" stop-color="#ebf078" stop-opacity="0.16"/><stop offset="0.278" stop-color="#ebf078" stop-opacity="0.08"/><stop offset="0.290" stop-color="#82ebbe" stop-opacity="0.16"/><stop offset="0.301" stop-color="#82ebbe" stop-opacity="0.05"/><stop offset="0.311" stop-color="#82ebbe" stop-opacity="0.17"/><stop offset="0.317" stop-color="#82ebbe" stop-opacity="0.11"/><stop offset="0.330" stop-color="#82ebbe" stop-opacity="0.10"/><stop offset="0.341" stop-color="#ebf078" stop-opacity="0.15"/><stop offset="0.353" stop-color="#82ebbe" stop-opacity="0.05"/><stop offset="0.361" stop-color="#ebf078" stop-opacity="0.01"/><stop offset="0.373" stop-color="#82ebbe" stop-opacity="0.13"/><stop offset="0.384" stop-color="#ebf078" stop-opacity="0.10"/><stop offset="0.396" stop-color="#82ebbe" stop-opacity="0.16"/><stop offset="0.409" stop-color="#82ebbe" stop-opacity="0.14"/><stop offset="0.417" stop-color="#ebf078" stop-opacity="0.04"/><stop offset="0.429" stop-color="#82ebbe" stop-opacity="0.05"/><stop offset="0.441" stop-color="#ebf078" stop-opacity="0.02"/><stop offset="0.449" stop-color="#82ebbe" stop-opacity="0.06"/><stop offset="0.456" stop-color="#82ebbe" stop-opacity="0.14"/><stop offset="0.463" stop-color="#ebf078" stop-opacity="0.06"/><stop offset="0.476" stop-color="#82ebbe" stop-opacity="0.12"/><stop offset="0.482" stop-color="#ebf078" stop-opacity="0.17"/><stop offset="0.491" stop-color="#82ebbe" stop-opacity="0.03"/><stop offset="0.499" stop-color="#ebf078" stop-opacity="0.03"/><stop offset="0.510" stop-color="#82ebbe" stop-opacity="0.02"/><stop offset="0.519" stop-color="#82ebbe" stop-opacity="0.15"/><stop offset="0.532" stop-color="#82ebbe" stop-opacity="0.16"/><stop offset="0.541" stop-color="#ebf078" stop-opacity="0.12"/><stop offset="0.547" stop-color="#ebf078" stop-opacity="0.08"/><stop offset="0.560" stop-color="#ebf078" stop-opacity="0.04"/><stop offset="0.571" stop-color="#82ebbe" stop-opacity="0.13"/><stop offset="0.580" stop-color="#82ebbe" stop-opacity="0.12"/><stop offset="0.592" stop-color="#82ebbe" stop-opacity="0.07"/><stop offset="0.601" stop-color="#ebf078" stop-opacity="0.17"/><stop offset="0.613" stop-color="#ebf078" stop-opacity="0.16"/><stop offset="0.622" stop-color="#82ebbe" stop-opacity="0.00"/><stop offset="0.633" stop-color="#82ebbe" stop-opacity="0.01"/><stop offset="0.641" stop-color="#82ebbe" stop-opacity="0.03"/><stop offset="0.647" stop-color="#82ebbe" stop-opacity="0.04"/><stop offset="0.660" stop-color="#ebf078" stop-opacity="0.16"/><stop offset="0.670" stop-color="#82ebbe" stop-opacity="0.00"/><stop offset="0.678" stop-color="#82ebbe" stop-opacity="0.14"/><stop offset="0.686" stop-color="#ebf078" stop-opacity="0.10"/><stop offset="0.698" stop-color="#82ebbe" stop-opacity="0.05"/><stop offset="0.709" stop-color="#ebf078" stop-opacity="0.09"/><stop offset="0.720" stop-color="#ebf078" stop-opacity="0.06"/><stop offset="0.731" stop-color="#82ebbe" stop-opacity="0.05"/><stop offset="0.742" stop-color="#82ebbe" stop-opacity="0.07"/><stop offset="0.751" stop-color="#ebf078" stop-opacity="0.09"/><stop offset="0.762" stop-color="#82ebbe" stop-opacity="0.07"/><stop offset="0.775" stop-color="#ebf078" stop-opacity="0.05"/><stop offset="0.785" stop-color="#82ebbe" stop-opacity="0.17"/><stop offset="0.794" stop-color="#82ebbe" stop-opacity="0.08"/><stop offset="0.805" stop-color="#82ebbe" stop-opacity="0.01"/><stop offset="0.816" stop-color="#ebf078" stop-opacity="0.05"/><stop offset="0.828" stop-color="#82ebbe" stop-opacity="0.05"/><stop offset="0.838" stop-color="#ebf078" stop-opacity="0.08"/><stop offset="0.850" stop-color="#82ebbe" stop-opacity="0.05"/><stop offset="0.862" stop-color="#ebf078" stop-opacity="0.13"/><stop offset="0.873" stop-color="#ebf078" stop-opacity="0.16"/><stop offset="0.885" stop-color="#ebf078" stop-opacity="0.01"/><stop offset="0.895" stop-color="#82ebbe" stop-opacity="0.11"/><stop offset="0.907" stop-color="#ebf078" stop-opacity="0.15"/><stop offset="0.916" stop-color="#ebf078" stop-opacity="0.07"/><stop offset="0.927" stop-color="#ebf078" stop-opacity="0.08"/><stop offset="0.933" stop-color="#ebf078" stop-opacity="0.10"/><stop offset="0.943" stop-color="#ebf078" stop-opacity="0.06"/><stop offset="0.952" stop-color="#ebf078" stop-opacity="0.04"/><stop offset="0.963" stop-color="#ebf078" stop-opacity="0.05"/><stop offset="0.974" stop-color="#82ebbe" stop-opacity="0.16"/><stop offset="0.981" stop-color="#82ebbe" stop-opacity="0.02"/><stop offset="0.991" stop-color="#82ebbe" stop-opacity="0.10"/></linearGradient></defs>
<rect x="839.0" y="936.3" width="409.1" height="557.3" fill="url(#txr)"/>
<rect x="126.6" y="898.4" width="657.9" height="597.6" fill="none" stroke="#000" stroke-width="2.8"/>
<line x1="167.72" y1="898.40" x2="167.72" y2="908.00" stroke="#000" stroke-width="2.8" />
<line x1="167.72" y1="1496.00" x2="167.72" y2="1486.40" stroke="#000" stroke-width="2.8" />
<line x1="208.84" y1="898.40" x2="208.84" y2="908.00" stroke="#000" stroke-width="2.8" />
<line x1="208.84" y1="1496.00" x2="208.84" y2="1486.40" stroke="#000" stroke-width="2.8" />
<line x1="249.96" y1="898.40" x2="249.96" y2="908.00" stroke="#000" stroke-width="2.8" />
<line x1="249.96" y1="1496.00" x2="249.96" y2="1486.40" stroke="#000" stroke-width="2.8" />
<line x1="291.07" y1="898.40" x2="291.07" y2="917.20" stroke="#000" stroke-width="2.8" />
<line x1="291.07" y1="1496.00" x2="291.07" y2="1477.20" stroke="#000" stroke-width="2.8" />
<line x1="332.19" y1="898.40" x2="332.19" y2="908.00" stroke="#000" stroke-width="2.8" />
<line x1="332.19" y1="1496.00" x2="332.19" y2="1486.40" stroke="#000" stroke-width="2.8" />
<line x1="373.31" y1="898.40" x2="373.31" y2="908.00" stroke="#000" stroke-width="2.8" />
<line x1="373.31" y1="1496.00" x2="373.31" y2="1486.40" stroke="#000" stroke-width="2.8" />
<line x1="414.43" y1="898.40" x2="414.43" y2="908.00" stroke="#000" stroke-width="2.8" />
<line x1="414.43" y1="1496.00" x2="414.43" y2="1486.40" stroke="#000" stroke-width="2.8" />
<line x1="455.55" y1="898.40" x2="455.55" y2="917.20" stroke="#000" stroke-width="2.8" />
<line x1="455.55" y1="1496.00" x2="455.55" y2="1477.20" stroke="#000" stroke-width="2.8" />
<line x1="496.67" y1="898.40" x2="496.67" y2="908.00" stroke="#000" stroke-width="2.8" />
<line x1="496.67" y1="1496.00" x2="496.67" y2="1486.40" stroke="#000" stroke-width="2.8" />
<line x1="537.79" y1="898.40" x2="537.79" y2="908.00" stroke="#000" stroke-width="2.8" />
<line x1="537.79" y1="1496.00" x2="537.79" y2="1486.40" stroke="#000" stroke-width="2.8" />
<line x1="578.91" y1="898.40" x2="578.91" y2="908.00" stroke="#000" stroke-width="2.8" />
<line x1="578.91" y1="1496.00" x2="578.91" y2="1486.40" stroke="#000" stroke-width="2.8" />
<line x1="620.03" y1="898.40" x2="620.03" y2="917.20" stroke="#000" stroke-width="2.8" />
<line x1="620.03" y1="1496.00" x2="620.03" y2="1477.20" stroke="#000" stroke-width="2.8" />
<line x1="661.14" y1="898.40" x2="661.14" y2="908.00" stroke="#000" stroke-width="2.8" />
<line x1="661.14" y1="1496.00" x2="661.14" y2="1486.40" stroke="#000" stroke-width="2.8" />
<line x1="702.26" y1="898.40" x2="702.26" y2="908.00" stroke="#000" stroke-width="2.8" />
<line x1="702.26" y1="1496.00" x2="702.26" y2="1486.40" stroke="#000" stroke-width="2.8" />
<line x1="743.38" y1="898.40" x2="743.38" y2="908.00" stroke="#000" stroke-width="2.8" />
<line x1="743.38" y1="1496.00" x2="743.38" y2="1486.40" stroke="#000" stroke-width="2.8" />
<line x1="126.60" y1="1376.20" x2="145.40" y2="1376.20" stroke="#000" stroke-width="2.8" />
<line x1="784.50" y1="1376.20" x2="765.70" y2="1376.20" stroke="#000" stroke-width="2.8" />
<line x1="126.60" y1="1256.70" x2="145.40" y2="1256.70" stroke="#000" stroke-width="2.8" />
<line x1="784.50" y1="1256.70" x2="765.70" y2="1256.70" stroke="#000" stroke-width="2.8" />
<line x1="126.60" y1="1137.20" x2="145.40" y2="1137.20" stroke="#000" stroke-width="2.8" />
<line x1="784.50" y1="1137.20" x2="765.70" y2="1137.20" stroke="#000" stroke-width="2.8" />
<line x1="126.60" y1="1017.70" x2="145.40" y2="1017.70" stroke="#000" stroke-width="2.8" />
<line x1="784.50" y1="1017.70" x2="765.70" y2="1017.70" stroke="#000" stroke-width="2.8" />
<rect x="819.0" y="897.8" width="429.1" height="595.8" fill="none" stroke="#000" stroke-width="2.8"/>
<line x1="837.00" y1="897.80" x2="837.00" y2="916.20" stroke="#000" stroke-width="2.8" />
<line x1="837.00" y1="1493.60" x2="837.00" y2="1475.20" stroke="#000" stroke-width="2.8" />
<line x1="874.36" y1="897.80" x2="874.36" y2="907.40" stroke="#000" stroke-width="2.8" />
<line x1="874.36" y1="1493.60" x2="874.36" y2="1484.00" stroke="#000" stroke-width="2.8" />
<line x1="911.72" y1="897.80" x2="911.72" y2="916.20" stroke="#000" stroke-width="2.8" />
<line x1="911.72" y1="1493.60" x2="911.72" y2="1475.20" stroke="#000" stroke-width="2.8" />
<line x1="949.08" y1="897.80" x2="949.08" y2="907.40" stroke="#000" stroke-width="2.8" />
<line x1="949.08" y1="1493.60" x2="949.08" y2="1484.00" stroke="#000" stroke-width="2.8" />
<line x1="986.44" y1="897.80" x2="986.44" y2="916.20" stroke="#000" stroke-width="2.8" />
<line x1="986.44" y1="1493.60" x2="986.44" y2="1475.20" stroke="#000" stroke-width="2.8" />
<line x1="1023.80" y1="897.80" x2="1023.80" y2="907.40" stroke="#000" stroke-width="2.8" />
<line x1="1023.80" y1="1493.60" x2="1023.80" y2="1484.00" stroke="#000" stroke-width="2.8" />
<line x1="1061.16" y1="897.80" x2="1061.16" y2="916.20" stroke="#000" stroke-width="2.8" />
<line x1="1061.16" y1="1493.60" x2="1061.16" y2="1475.20" stroke="#000" stroke-width="2.8" />
<line x1="1098.52" y1="897.80" x2="1098.52" y2="907.40" stroke="#000" stroke-width="2.8" />
<line x1="1098.52" y1="1493.60" x2="1098.52" y2="1484.00" stroke="#000" stroke-width="2.8" />
<line x1="1135.88" y1="897.80" x2="1135.88" y2="916.20" stroke="#000" stroke-width="2.8" />
<line x1="1135.88" y1="1493.60" x2="1135.88" y2="1475.20" stroke="#000" stroke-width="2.8" />
<line x1="1173.24" y1="897.80" x2="1173.24" y2="907.40" stroke="#000" stroke-width="2.8" />
<line x1="1173.24" y1="1493.60" x2="1173.24" y2="1484.00" stroke="#000" stroke-width="2.8" />
<line x1="1210.60" y1="897.80" x2="1210.60" y2="916.20" stroke="#000" stroke-width="2.8" />
<line x1="1210.60" y1="1493.60" x2="1210.60" y2="1475.20" stroke="#000" stroke-width="2.8" />
<line x1="819.00" y1="1374.44" x2="837.80" y2="1374.44" stroke="#000" stroke-width="2.8" />
<line x1="1248.10" y1="1374.44" x2="1229.30" y2="1374.44" stroke="#000" stroke-width="2.8" />
<line x1="819.00" y1="1255.28" x2="837.80" y2="1255.28" stroke="#000" stroke-width="2.8" />
<line x1="1248.10" y1="1255.28" x2="1229.30" y2="1255.28" stroke="#000" stroke-width="2.8" />
<line x1="819.00" y1="1136.12" x2="837.80" y2="1136.12" stroke="#000" stroke-width="2.8" />
<line x1="1248.10" y1="1136.12" x2="1229.30" y2="1136.12" stroke="#000" stroke-width="2.8" />
<line x1="819.00" y1="1016.96" x2="837.80" y2="1016.96" stroke="#000" stroke-width="2.8" />
<line x1="1248.10" y1="1016.96" x2="1229.30" y2="1016.96" stroke="#000" stroke-width="2.8" />
<rect x="786.2" y="855.7" width="432.6" height="29" fill="url(#cbar)" stroke="#000" stroke-width="2.4"/>
<line x1="838.30" y1="840.80" x2="838.30" y2="855.70" stroke="#000" stroke-width="2.4" />
<text transform="translate(836.80,833.60) scale(1,1.05)" font-size="37.5" fill="#000" text-anchor="middle" >-4</text>
<line x1="920.40" y1="840.80" x2="920.40" y2="855.70" stroke="#000" stroke-width="2.4" />
<text transform="translate(918.90,833.60) scale(1,1.05)" font-size="37.5" fill="#000" text-anchor="middle" >-2</text>
<line x1="1002.50" y1="840.80" x2="1002.50" y2="855.70" stroke="#000" stroke-width="2.4" />
<text transform="translate(1002.50,833.60) scale(1,1.05)" font-size="37.5" fill="#000" text-anchor="middle" >0</text>
<line x1="1084.60" y1="840.80" x2="1084.60" y2="855.70" stroke="#000" stroke-width="2.4" />
<text transform="translate(1084.60,833.60) scale(1,1.05)" font-size="37.5" fill="#000" text-anchor="middle" >2</text>
<line x1="1166.70" y1="840.80" x2="1166.70" y2="855.70" stroke="#000" stroke-width="2.4" />
<text transform="translate(1166.70,833.60) scale(1,1.05)" font-size="37.5" fill="#000" text-anchor="middle" >4</text>
<text x="366.00" y="874.00" font-size="36.8" fill="#000" text-anchor="start" ><tspan font-style="italic">θ</tspan><tspan font-size="25" dy="8">K</tspan><tspan font-size="25" dy="-21">T</tspan><tspan dy="13"> (</tspan><tspan font-style="italic">μ</tspan><tspan font-size="25" dy="8">0</tspan><tspan dy="-8" font-style="italic">H</tspan><tspan font-size="25" dy="8">int</tspan><tspan dy="-8">) / </tspan><tspan font-style="italic">θ</tspan><tspan font-size="25" dy="8">K</tspan><tspan font-size="25" dy="-21">M</tspan><tspan dy="13"> (0.49 T)</tspan></text>
<text x="10.00" y="934.00" font-size="46" fill="#000" text-anchor="start" font-weight="bold" >c</text>
<text x="1032.50" y="962.50" font-size="37.5" fill="#000" text-anchor="start" >8.4 K, <tspan font-style="italic">H</tspan> || <tspan font-style="italic">c</tspan></text>
<text transform="translate(116.60,1509.50) scale(1,1.05)" font-size="37.2" fill="#000" text-anchor="end" >0.0</text>
<text transform="translate(116.60,1390.00) scale(1,1.05)" font-size="37.2" fill="#000" text-anchor="end" >0.5</text>
<text transform="translate(116.60,1270.50) scale(1,1.05)" font-size="37.2" fill="#000" text-anchor="end" >1.0</text>
<text transform="translate(116.60,1151.00) scale(1,1.05)" font-size="37.2" fill="#000" text-anchor="end" >1.5</text>
<text transform="translate(116.60,1031.50) scale(1,1.05)" font-size="37.2" fill="#000" text-anchor="end" >2.0</text>
<text transform="translate(116.60,912.00) scale(1,1.05)" font-size="37.2" fill="#000" text-anchor="end" >2.5</text>
<text transform="translate(126.60,1541.50) scale(1,1.05)" font-size="37.2" fill="#000" text-anchor="middle" >0.0</text>
<text transform="translate(291.07,1541.50) scale(1,1.05)" font-size="37.2" fill="#000" text-anchor="middle" >0.2</text>
<text transform="translate(455.55,1541.50) scale(1,1.05)" font-size="37.2" fill="#000" text-anchor="middle" >0.4</text>
<text transform="translate(620.02,1541.50) scale(1,1.05)" font-size="37.2" fill="#000" text-anchor="middle" >0.6</text>
<text transform="translate(784.20,1541.50) scale(1,1.05)" font-size="37.2" fill="#000" text-anchor="middle" >0.8</text>
<text transform="translate(838.30,1541.50) scale(1,1.05)" font-size="37.2" fill="#000" text-anchor="middle" >1.0</text>
<text transform="translate(911.72,1541.50) scale(1,1.05)" font-size="37.2" fill="#000" text-anchor="middle" >1.2</text>
<text transform="translate(986.44,1541.50) scale(1,1.05)" font-size="37.2" fill="#000" text-anchor="middle" >1.4</text>
<text transform="translate(1061.16,1541.50) scale(1,1.05)" font-size="37.2" fill="#000" text-anchor="middle" >1.6</text>
<text transform="translate(1135.88,1541.50) scale(1,1.05)" font-size="37.2" fill="#000" text-anchor="middle" >1.8</text>
<text transform="translate(1210.60,1541.50) scale(1,1.05)" font-size="37.2" fill="#000" text-anchor="middle" >2.0</text>
<text x="702.60" y="1592.00" font-size="43.3" fill="#000" text-anchor="middle" >Energy (eV)</text>
<text transform="translate(36,1195) rotate(-90)" font-size="43" text-anchor="middle"><tspan font-style="italic">μ</tspan><tspan font-size="28" dy="8">0</tspan><tspan dy="-8" font-style="italic">H</tspan><tspan font-size="28" dy="8">int</tspan><tspan dy="-8"> (T)</tspan></text>
</g>
<g id="panel-d">
<rect x="1317.7" y="1293.6" width="407.1" height="107.0" fill="#fbe5d6"/>
<rect x="1317.7" y="898.4" width="407.1" height="593.9" fill="none" stroke="#000" stroke-width="2.8"/>
<line x1="1348.20" y1="898.40" x2="1348.20" y2="920.40" stroke="#000" stroke-width="2.8" />
<line x1="1348.20" y1="1492.30" x2="1348.20" y2="1470.30" stroke="#000" stroke-width="2.8" />
<line x1="1425.00" y1="898.40" x2="1425.00" y2="920.40" stroke="#000" stroke-width="2.8" />
<line x1="1425.00" y1="1492.30" x2="1425.00" y2="1470.30" stroke="#000" stroke-width="2.8" />
<line x1="1578.60" y1="898.40" x2="1578.60" y2="920.40" stroke="#000" stroke-width="2.8" />
<line x1="1578.60" y1="1492.30" x2="1578.60" y2="1470.30" stroke="#000" stroke-width="2.8" />
<line x1="1655.40" y1="898.40" x2="1655.40" y2="920.40" stroke="#000" stroke-width="2.8" />
<line x1="1655.40" y1="1492.30" x2="1655.40" y2="1470.30" stroke="#000" stroke-width="2.8" />
<line x1="1317.70" y1="1373.52" x2="1339.70" y2="1373.52" stroke="#000" stroke-width="2.8" />
<line x1="1724.80" y1="1373.52" x2="1702.80" y2="1373.52" stroke="#000" stroke-width="2.8" />
<line x1="1317.70" y1="1254.74" x2="1339.70" y2="1254.74" stroke="#000" stroke-width="2.8" />
<line x1="1724.80" y1="1254.74" x2="1702.80" y2="1254.74" stroke="#000" stroke-width="2.8" />
<line x1="1317.70" y1="1135.96" x2="1339.70" y2="1135.96" stroke="#000" stroke-width="2.8" />
<line x1="1724.80" y1="1135.96" x2="1702.80" y2="1135.96" stroke="#000" stroke-width="2.8" />
<line x1="1317.70" y1="1017.18" x2="1339.70" y2="1017.18" stroke="#000" stroke-width="2.8" />
<line x1="1724.80" y1="1017.18" x2="1702.80" y2="1017.18" stroke="#000" stroke-width="2.8" />
<line x1="128.70" y1="1292.30" x2="1725.00" y2="1292.30" stroke="#000" stroke-width="2.7" stroke-dasharray="10.7 8.2"/>
<line x1="128.70" y1="1401.90" x2="1725.00" y2="1401.90" stroke="#000" stroke-width="2.7" stroke-dasharray="10.7 8.2"/>
<line x1="1501.80" y1="900.40" x2="1501.80" y2="1492.30" stroke="#000" stroke-width="2.2" stroke-dasharray="5 4"/>
<polyline points="1501.8,910.7 1486.7,1020.0 1535.4,1125.9 1470.0,1233.5 1416.8,1295.0 1360.2,1324.5 1361.6,1375.2 1465.5,1406.3 1463.5,1434.8 1485.9,1472.3 1501.8,1492.3" fill="none" stroke="#ff0000" stroke-width="5.2" stroke-linejoin="round" />
<path d="M1501.8,896.4 L1516.1,910.7 L1501.8,925.0 L1487.5,910.7 Z" fill="#ff0000" />
<path d="M1486.7,1005.7 L1501.0,1020.0 L1486.7,1034.3 L1472.4,1020.0 Z" fill="#ff0000" />
<path d="M1535.4,1111.6 L1549.7,1125.9 L1535.4,1140.2 L1521.1,1125.9 Z" fill="#ff0000" />
<path d="M1470.0,1219.2 L1484.3,1233.5 L1470.0,1247.8 L1455.7,1233.5 Z" fill="#ff0000" />
<path d="M1416.8,1280.7 L1431.1,1295.0 L1416.8,1309.3 L1402.5,1295.0 Z" fill="#ff0000" />
<path d="M1360.2,1310.2 L1374.5,1324.5 L1360.2,1338.8 L1345.9,1324.5 Z" fill="#ff0000" />
<path d="M1361.6,1360.9 L1375.9,1375.2 L1361.6,1389.5 L1347.3,1375.2 Z" fill="#ff0000" />
<path d="M1465.5,1392.0 L1479.8,1406.3 L1465.5,1420.6 L1451.2,1406.3 Z" fill="#ff0000" />
<path d="M1463.5,1420.5 L1477.8,1434.8 L1463.5,1449.1 L1449.2,1434.8 Z" fill="#ff0000" />
<path d="M1485.9,1458.0 L1500.2,1472.3 L1485.9,1486.6 L1471.6,1472.3 Z" fill="#ff0000" />
<path d="M1501.8,1478.0 L1516.1,1492.3 L1501.8,1506.6 L1487.5,1492.3 Z" fill="#ff0000" />
<polyline points="1501.8,910.7 1491.5,1020.0 1528.1,1125.9 1483.2,1233.5 1608.5,1295.0 1694.0,1324.5 1682.4,1375.2 1567.4,1406.3 1516.5,1434.8 1528.1,1472.3 1501.8,1492.3" fill="none" stroke="#4444ff" stroke-width="4.8" stroke-linejoin="round" />
<path d="M1491.4,910.7 L1512.2,898.9 L1512.2,922.5 Z" fill="#4444ff"/>
<path d="M1481.1,1020.0 L1501.9,1008.2 L1501.9,1031.8 Z" fill="#4444ff"/>
<path d="M1517.7,1125.9 L1538.5,1114.1 L1538.5,1137.7 Z" fill="#4444ff"/>
<path d="M1472.8,1233.5 L1493.6,1221.7 L1493.6,1245.3 Z" fill="#4444ff"/>
<path d="M1598.1,1295.0 L1618.9,1283.2 L1618.9,1306.8 Z" fill="#4444ff"/>
<path d="M1683.6,1324.5 L1704.4,1312.7 L1704.4,1336.3 Z" fill="#4444ff"/>
<path d="M1672.0,1375.2 L1692.8,1363.4 L1692.8,1387.0 Z" fill="#4444ff"/>
<path d="M1557.0,1406.3 L1577.8,1394.5 L1577.8,1418.1 Z" fill="#4444ff"/>
<path d="M1506.1,1434.8 L1526.9,1423.0 L1526.9,1446.6 Z" fill="#4444ff"/>
<path d="M1517.7,1472.3 L1538.5,1460.5 L1538.5,1484.1 Z" fill="#4444ff"/>
<path d="M1491.4,1492.3 L1512.2,1480.5 L1512.2,1504.1 Z" fill="#4444ff"/>
<polyline points="1501.8,910.7 1503.5,1020.0 1506.0,1125.9 1520.0,1233.5 1505.0,1295.0 1513.0,1324.5 1504.0,1375.2 1504.5,1406.3 1496.0,1434.8 1496.1,1472.3 1501.8,1492.3" fill="none" stroke="#8a3ee2" stroke-width="4.2" stroke-linejoin="round" />
<path d="M1509.8,910.7 L1494.2,901.4 L1494.2,920.0 Z" fill="none" stroke="#8a3ee2" stroke-width="3.6" stroke-linejoin="miter"/>
<path d="M1511.5,1020.0 L1495.9,1010.7 L1495.9,1029.3 Z" fill="none" stroke="#8a3ee2" stroke-width="3.6" stroke-linejoin="miter"/>
<path d="M1514.0,1125.9 L1498.4,1116.6 L1498.4,1135.2 Z" fill="none" stroke="#8a3ee2" stroke-width="3.6" stroke-linejoin="miter"/>
<path d="M1528.0,1233.5 L1512.4,1224.2 L1512.4,1242.8 Z" fill="none" stroke="#8a3ee2" stroke-width="3.6" stroke-linejoin="miter"/>
<path d="M1513.0,1295.0 L1497.4,1285.7 L1497.4,1304.3 Z" fill="none" stroke="#8a3ee2" stroke-width="3.6" stroke-linejoin="miter"/>
<path d="M1521.0,1324.5 L1505.4,1315.2 L1505.4,1333.8 Z" fill="none" stroke="#8a3ee2" stroke-width="3.6" stroke-linejoin="miter"/>
<path d="M1512.0,1375.2 L1496.4,1365.9 L1496.4,1384.5 Z" fill="none" stroke="#8a3ee2" stroke-width="3.6" stroke-linejoin="miter"/>
<path d="M1512.5,1406.3 L1496.9,1397.0 L1496.9,1415.6 Z" fill="none" stroke="#8a3ee2" stroke-width="3.6" stroke-linejoin="miter"/>
<path d="M1504.0,1434.8 L1488.4,1425.5 L1488.4,1444.1 Z" fill="none" stroke="#8a3ee2" stroke-width="3.6" stroke-linejoin="miter"/>
<path d="M1504.1,1472.3 L1488.5,1463.0 L1488.5,1481.6 Z" fill="none" stroke="#8a3ee2" stroke-width="3.6" stroke-linejoin="miter"/>
<path d="M1509.8,1492.3 L1494.2,1483.0 L1494.2,1501.6 Z" fill="none" stroke="#8a3ee2" stroke-width="3.6" stroke-linejoin="miter"/>
<polyline points="1501.8,910.7 1511.3,1020.0 1506.3,1125.9 1501.4,1233.5 1491.3,1295.0 1497.5,1324.5 1503.4,1375.2 1499.0,1406.3 1512.1,1434.8 1506.3,1472.3 1501.8,1492.3" fill="none" stroke="#00c800" stroke-width="4.6" stroke-linejoin="round" />
<circle cx="1501.8" cy="910.7" r="8.2" fill="none" stroke="#00c800" stroke-width="4.2"/>
<circle cx="1511.3" cy="1020.0" r="8.2" fill="none" stroke="#00c800" stroke-width="4.2"/>
<circle cx="1506.3" cy="1125.9" r="8.2" fill="none" stroke="#00c800" stroke-width="4.2"/>
<circle cx="1501.4" cy="1233.5" r="8.2" fill="none" stroke="#00c800" stroke-width="4.2"/>
<circle cx="1491.3" cy="1295.0" r="8.2" fill="none" stroke="#00c800" stroke-width="4.2"/>
<circle cx="1497.5" cy="1324.5" r="8.2" fill="none" stroke="#00c800" stroke-width="4.2"/>
<circle cx="1503.4" cy="1375.2" r="8.2" fill="none" stroke="#00c800" stroke-width="4.2"/>
<circle cx="1499.0" cy="1406.3" r="8.2" fill="none" stroke="#00c800" stroke-width="4.2"/>
<circle cx="1512.1" cy="1434.8" r="8.2" fill="none" stroke="#00c800" stroke-width="4.2"/>
<circle cx="1506.3" cy="1472.3" r="8.2" fill="none" stroke="#00c800" stroke-width="4.2"/>
<circle cx="1501.8" cy="1492.3" r="8.2" fill="none" stroke="#00c800" stroke-width="4.2"/>
<text x="1269.00" y="933.00" font-size="46" fill="#000" text-anchor="start" font-weight="bold" >d</text>
<text x="1521.00" y="963.00" font-size="37.5" fill="#000" text-anchor="start" >8.4 K, <tspan font-style="italic">H</tspan> || <tspan font-style="italic">c</tspan></text>
<text x="1327.00" y="1226.00" font-size="37.5" fill="#ff0000" text-anchor="start" >0.15 eV</text>
<text x="1561.00" y="1169.00" font-size="37" fill="#00c800" text-anchor="start" >1.7 eV</text>
<text x="1547.00" y="1222.00" font-size="37" fill="#8a3ee2" text-anchor="start" >1.1 eV</text>
<text x="1595.00" y="1443.00" font-size="37.5" fill="#4444ff" text-anchor="start" >0.3 eV</text>
<text x="1251.00" y="1358.00" font-size="37.5" fill="#ff0000" text-anchor="start" >SkL</text>
<text transform="translate(1346.60,1541.00) scale(1,1.05)" font-size="36.6" fill="#000" text-anchor="middle" >-2.0</text>
<text transform="translate(1425.00,1541.00) scale(1,1.05)" font-size="36.6" fill="#000" text-anchor="middle" >-1.0</text>
<text transform="translate(1502.50,1541.00) scale(1,1.05)" font-size="36.6" fill="#000" text-anchor="middle" >0.0</text>
<text transform="translate(1580.20,1541.00) scale(1,1.05)" font-size="36.6" fill="#000" text-anchor="middle" >1.0</text>
<text transform="translate(1653.80,1541.00) scale(1,1.05)" font-size="36.6" fill="#000" text-anchor="middle" >2.0</text>
<text x="1328.00" y="1590.00" font-size="36.6" fill="#000" text-anchor="start" ><tspan font-style="italic">θ</tspan><tspan font-size="25" dy="7">K</tspan><tspan font-size="25" dy="-19">T</tspan><tspan dy="12"> (</tspan><tspan font-style="italic">μ</tspan><tspan font-size="25" dy="7">0</tspan><tspan dy="-7" font-style="italic">H</tspan><tspan font-size="25" dy="7">int</tspan><tspan dy="-7">) / </tspan><tspan font-style="italic">θ</tspan><tspan font-size="25" dy="7">K</tspan><tspan font-size="25" dy="-19">M</tspan><tspan dy="12"> (0.49 T)</tspan></text>
</g>
</svg>
</body></html>
